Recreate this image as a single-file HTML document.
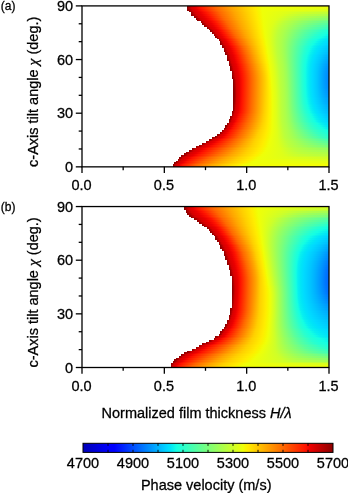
<!DOCTYPE html>
<html><head><meta charset="utf-8"><title>Phase velocity maps</title>
<style>
html,body{margin:0;padding:0;background:#fff;}
body{width:348px;height:493px;overflow:hidden;}
svg{display:block;font-family:"Liberation Sans",sans-serif;font-size:14.5px;fill:#000;}
text{stroke:#000;stroke-width:0.28px;}
</style></head><body>
<svg width="348" height="493" viewBox="0 0 348 493">
<defs>
<linearGradient id="a0" gradientUnits="userSpaceOnUse" x1="172.57" x2="329.00" y1="0" y2="0"><stop offset="0.0000" stop-color="#8c0000"/><stop offset="0.0158" stop-color="#d50000"/><stop offset="0.0356" stop-color="#ea0000"/><stop offset="0.0553" stop-color="#ff1300"/><stop offset="0.1387" stop-color="#ff6800"/><stop offset="0.2294" stop-color="#ffa500"/><stop offset="0.3212" stop-color="#ffd000"/><stop offset="0.4052" stop-color="#ffec00"/><stop offset="0.4331" stop-color="#f7f600"/><stop offset="0.4475" stop-color="#f3fa04"/><stop offset="1.0000" stop-color="#f3fa04"/></linearGradient>
<linearGradient id="a1" gradientUnits="userSpaceOnUse" x1="172.57" x2="329.00" y1="0" y2="0"><stop offset="0.0044" stop-color="#8c0000"/><stop offset="0.0228" stop-color="#d50000"/><stop offset="0.0443" stop-color="#ea0000"/><stop offset="0.0657" stop-color="#ff1300"/><stop offset="0.1549" stop-color="#ff6800"/><stop offset="0.2496" stop-color="#ffa500"/><stop offset="0.3419" stop-color="#ffd000"/><stop offset="0.4199" stop-color="#ffec00"/><stop offset="0.4459" stop-color="#f7f600"/><stop offset="0.4650" stop-color="#f1fd06"/><stop offset="1.0000" stop-color="#f1fd06"/></linearGradient>
<linearGradient id="a2" gradientUnits="userSpaceOnUse" x1="174.21" x2="329.00" y1="0" y2="0"><stop offset="0.0018" stop-color="#8c0000"/><stop offset="0.0222" stop-color="#d50000"/><stop offset="0.0460" stop-color="#ea0000"/><stop offset="0.0697" stop-color="#ff1300"/><stop offset="0.1663" stop-color="#ff6800"/><stop offset="0.2660" stop-color="#ffa500"/><stop offset="0.3597" stop-color="#ffd000"/><stop offset="0.4338" stop-color="#ffec00"/><stop offset="0.4585" stop-color="#f7f600"/><stop offset="0.4831" stop-color="#efff08"/><stop offset="1.0000" stop-color="#ecff0a"/></linearGradient>
<linearGradient id="a3" gradientUnits="userSpaceOnUse" x1="175.86" x2="329.00" y1="0" y2="0"><stop offset="0.0002" stop-color="#8c0000"/><stop offset="0.0226" stop-color="#d50000"/><stop offset="0.0487" stop-color="#ea0000"/><stop offset="0.0748" stop-color="#ff1300"/><stop offset="0.1778" stop-color="#ff6800"/><stop offset="0.2812" stop-color="#ffa500"/><stop offset="0.3755" stop-color="#ffd000"/><stop offset="0.4538" stop-color="#ffec00"/><stop offset="0.4799" stop-color="#f7f600"/><stop offset="0.5060" stop-color="#efff08"/><stop offset="1.0000" stop-color="#e4ff13"/></linearGradient>
<linearGradient id="a4" gradientUnits="userSpaceOnUse" x1="177.51" x2="329.00" y1="0" y2="0"><stop offset="0.0000" stop-color="#8c0000"/><stop offset="0.0240" stop-color="#d50000"/><stop offset="0.0526" stop-color="#ea0000"/><stop offset="0.0812" stop-color="#ff1300"/><stop offset="0.1897" stop-color="#ff6800"/><stop offset="0.2945" stop-color="#ffa500"/><stop offset="0.3881" stop-color="#ffd000"/><stop offset="0.4681" stop-color="#ffec00"/><stop offset="0.4948" stop-color="#f7f600"/><stop offset="0.5215" stop-color="#efff08"/><stop offset="0.8841" stop-color="#deff19"/><stop offset="1.0000" stop-color="#daff1d"/></linearGradient>
<linearGradient id="a5" gradientUnits="userSpaceOnUse" x1="179.15" x2="329.00" y1="0" y2="0"><stop offset="0.0000" stop-color="#8c0000"/><stop offset="0.0268" stop-color="#d50000"/><stop offset="0.0581" stop-color="#ea0000"/><stop offset="0.0893" stop-color="#ff1300"/><stop offset="0.2028" stop-color="#ff6800"/><stop offset="0.3071" stop-color="#ffa500"/><stop offset="0.3993" stop-color="#ffd000"/><stop offset="0.4778" stop-color="#ffec00"/><stop offset="0.5039" stop-color="#f7f600"/><stop offset="0.5301" stop-color="#efff08"/><stop offset="0.7334" stop-color="#deff19"/><stop offset="1.0000" stop-color="#ceff28"/></linearGradient>
<linearGradient id="a6" gradientUnits="userSpaceOnUse" x1="180.80" x2="329.00" y1="0" y2="0"><stop offset="0.0021" stop-color="#8c0000"/><stop offset="0.0311" stop-color="#d50000"/><stop offset="0.0650" stop-color="#ea0000"/><stop offset="0.0989" stop-color="#ff1300"/><stop offset="0.2166" stop-color="#ff6800"/><stop offset="0.3191" stop-color="#ffa500"/><stop offset="0.4096" stop-color="#ffd000"/><stop offset="0.4860" stop-color="#ffec00"/><stop offset="0.5115" stop-color="#f7f600"/><stop offset="0.5370" stop-color="#efff08"/><stop offset="0.7019" stop-color="#deff19"/><stop offset="0.7972" stop-color="#ceff29"/><stop offset="1.0000" stop-color="#c3ff34"/></linearGradient>
<linearGradient id="a7" gradientUnits="userSpaceOnUse" x1="184.09" x2="329.00" y1="0" y2="0"><stop offset="0.0000" stop-color="#8c0000"/><stop offset="0.0264" stop-color="#d50000"/><stop offset="0.0628" stop-color="#ea0000"/><stop offset="0.0992" stop-color="#ff1300"/><stop offset="0.2216" stop-color="#ff6800"/><stop offset="0.3227" stop-color="#ffa500"/><stop offset="0.4121" stop-color="#ffd000"/><stop offset="0.4886" stop-color="#ffec00"/><stop offset="0.5141" stop-color="#f7f600"/><stop offset="0.5396" stop-color="#efff08"/><stop offset="0.6804" stop-color="#deff19"/><stop offset="0.7499" stop-color="#ceff29"/><stop offset="0.8958" stop-color="#bdff3a"/><stop offset="1.0000" stop-color="#b9ff3e"/></linearGradient>
<linearGradient id="a8" gradientUnits="userSpaceOnUse" x1="185.74" x2="329.00" y1="0" y2="0"><stop offset="0.0014" stop-color="#8c0000"/><stop offset="0.0340" stop-color="#d50000"/><stop offset="0.0720" stop-color="#ea0000"/><stop offset="0.1101" stop-color="#ff1300"/><stop offset="0.2347" stop-color="#ff6800"/><stop offset="0.3328" stop-color="#ffa500"/><stop offset="0.4198" stop-color="#ffd000"/><stop offset="0.4964" stop-color="#ffec00"/><stop offset="0.5219" stop-color="#f7f600"/><stop offset="0.5475" stop-color="#efff08"/><stop offset="0.6690" stop-color="#deff19"/><stop offset="0.7258" stop-color="#ceff29"/><stop offset="0.8071" stop-color="#bdff3a"/><stop offset="1.0000" stop-color="#aeff48"/></linearGradient>
<linearGradient id="a9" gradientUnits="userSpaceOnUse" x1="189.03" x2="329.00" y1="0" y2="0"><stop offset="0.0000" stop-color="#8c0000"/><stop offset="0.0313" stop-color="#d50000"/><stop offset="0.0708" stop-color="#ea0000"/><stop offset="0.1103" stop-color="#ff1300"/><stop offset="0.2372" stop-color="#ff6800"/><stop offset="0.3337" stop-color="#ffa500"/><stop offset="0.4191" stop-color="#ffd000"/><stop offset="0.4965" stop-color="#ffec00"/><stop offset="0.5223" stop-color="#f7f600"/><stop offset="0.5482" stop-color="#efff08"/><stop offset="0.6556" stop-color="#deff19"/><stop offset="0.7049" stop-color="#ceff29"/><stop offset="0.7679" stop-color="#bdff3a"/><stop offset="0.8830" stop-color="#adff4a"/><stop offset="1.0000" stop-color="#a3ff54"/></linearGradient>
<linearGradient id="a10" gradientUnits="userSpaceOnUse" x1="192.33" x2="329.00" y1="0" y2="0"><stop offset="0.0000" stop-color="#8c0000"/><stop offset="0.0295" stop-color="#d50000"/><stop offset="0.0695" stop-color="#ea0000"/><stop offset="0.1095" stop-color="#ff1300"/><stop offset="0.2373" stop-color="#ff6800"/><stop offset="0.3328" stop-color="#ffa500"/><stop offset="0.4162" stop-color="#ffd000"/><stop offset="0.4935" stop-color="#ffec00"/><stop offset="0.5193" stop-color="#f7f600"/><stop offset="0.5451" stop-color="#efff08"/><stop offset="0.6417" stop-color="#deff19"/><stop offset="0.6858" stop-color="#ceff29"/><stop offset="0.7399" stop-color="#bdff3a"/><stop offset="0.8195" stop-color="#adff4a"/><stop offset="0.9275" stop-color="#9cff5a"/><stop offset="1.0000" stop-color="#95ff62"/></linearGradient>
<linearGradient id="a11" gradientUnits="userSpaceOnUse" x1="195.62" x2="329.00" y1="0" y2="0"><stop offset="0.0000" stop-color="#8c0000"/><stop offset="0.0287" stop-color="#d50000"/><stop offset="0.0690" stop-color="#ea0000"/><stop offset="0.1093" stop-color="#ff1300"/><stop offset="0.2360" stop-color="#ff6800"/><stop offset="0.3307" stop-color="#ffa500"/><stop offset="0.4118" stop-color="#ffd000"/><stop offset="0.4887" stop-color="#ffec00"/><stop offset="0.5144" stop-color="#f7f600"/><stop offset="0.5400" stop-color="#efff08"/><stop offset="0.6274" stop-color="#deff19"/><stop offset="0.6680" stop-color="#ceff29"/><stop offset="0.7160" stop-color="#bdff3a"/><stop offset="0.7844" stop-color="#adff4a"/><stop offset="0.8600" stop-color="#9cff5a"/><stop offset="0.9501" stop-color="#8cff6b"/><stop offset="1.0000" stop-color="#86ff71"/></linearGradient>
<linearGradient id="a12" gradientUnits="userSpaceOnUse" x1="198.91" x2="329.00" y1="0" y2="0"><stop offset="0.0000" stop-color="#8c0000"/><stop offset="0.0294" stop-color="#d50000"/><stop offset="0.0694" stop-color="#ea0000"/><stop offset="0.1095" stop-color="#ff1300"/><stop offset="0.2338" stop-color="#ff6800"/><stop offset="0.3277" stop-color="#ffa500"/><stop offset="0.4061" stop-color="#ffd000"/><stop offset="0.4828" stop-color="#ffec00"/><stop offset="0.5084" stop-color="#f7f600"/><stop offset="0.5340" stop-color="#efff08"/><stop offset="0.6138" stop-color="#deff19"/><stop offset="0.6516" stop-color="#ceff29"/><stop offset="0.6953" stop-color="#bdff3a"/><stop offset="0.7573" stop-color="#adff4a"/><stop offset="0.8188" stop-color="#9cff5a"/><stop offset="0.8843" stop-color="#8cff6b"/><stop offset="0.9712" stop-color="#7bff7b"/><stop offset="1.0000" stop-color="#76ff81"/></linearGradient>
<linearGradient id="a13" gradientUnits="userSpaceOnUse" x1="202.21" x2="329.00" y1="0" y2="0"><stop offset="0.0000" stop-color="#8c0000"/><stop offset="0.0307" stop-color="#d50000"/><stop offset="0.0702" stop-color="#ea0000"/><stop offset="0.1097" stop-color="#ff1300"/><stop offset="0.2306" stop-color="#ff6800"/><stop offset="0.3237" stop-color="#ffa500"/><stop offset="0.3993" stop-color="#ffd000"/><stop offset="0.4759" stop-color="#ffec00"/><stop offset="0.5014" stop-color="#f7f600"/><stop offset="0.5269" stop-color="#efff08"/><stop offset="0.6004" stop-color="#deff19"/><stop offset="0.6360" stop-color="#ceff29"/><stop offset="0.6765" stop-color="#bdff3a"/><stop offset="0.7340" stop-color="#adff4a"/><stop offset="0.7886" stop-color="#9cff5a"/><stop offset="0.8410" stop-color="#8cff6b"/><stop offset="0.9055" stop-color="#7bff7b"/><stop offset="0.9743" stop-color="#6bff8c"/><stop offset="1.0000" stop-color="#64ff93"/></linearGradient>
<linearGradient id="a14" gradientUnits="userSpaceOnUse" x1="205.50" x2="329.00" y1="0" y2="0"><stop offset="0.0008" stop-color="#8c0000"/><stop offset="0.0332" stop-color="#d50000"/><stop offset="0.0711" stop-color="#ea0000"/><stop offset="0.1090" stop-color="#ff1300"/><stop offset="0.2261" stop-color="#ff6800"/><stop offset="0.3185" stop-color="#ffa500"/><stop offset="0.3915" stop-color="#ffd000"/><stop offset="0.4679" stop-color="#ffec00"/><stop offset="0.4933" stop-color="#f7f600"/><stop offset="0.5188" stop-color="#efff08"/><stop offset="0.5871" stop-color="#deff19"/><stop offset="0.6209" stop-color="#ceff29"/><stop offset="0.6589" stop-color="#bdff3a"/><stop offset="0.7132" stop-color="#adff4a"/><stop offset="0.7634" stop-color="#9cff5a"/><stop offset="0.8092" stop-color="#8cff6b"/><stop offset="0.8629" stop-color="#7bff7b"/><stop offset="0.9163" stop-color="#6bff8c"/><stop offset="0.9770" stop-color="#5aff9c"/><stop offset="1.0000" stop-color="#52ffa5"/></linearGradient>
<linearGradient id="a15" gradientUnits="userSpaceOnUse" x1="208.79" x2="329.00" y1="0" y2="0"><stop offset="0.0030" stop-color="#8c0000"/><stop offset="0.0341" stop-color="#d50000"/><stop offset="0.0704" stop-color="#ea0000"/><stop offset="0.1067" stop-color="#ff1300"/><stop offset="0.2201" stop-color="#ff6800"/><stop offset="0.3121" stop-color="#ffa500"/><stop offset="0.3827" stop-color="#ffd000"/><stop offset="0.4589" stop-color="#ffec00"/><stop offset="0.4843" stop-color="#f7f600"/><stop offset="0.5097" stop-color="#efff08"/><stop offset="0.5736" stop-color="#deff19"/><stop offset="0.6060" stop-color="#ceff29"/><stop offset="0.6421" stop-color="#bdff3a"/><stop offset="0.6941" stop-color="#adff4a"/><stop offset="0.7410" stop-color="#9cff5a"/><stop offset="0.7828" stop-color="#8cff6b"/><stop offset="0.8295" stop-color="#7bff7b"/><stop offset="0.8763" stop-color="#6bff8c"/><stop offset="0.9261" stop-color="#5aff9c"/><stop offset="0.9781" stop-color="#4affad"/><stop offset="1.0000" stop-color="#41ffb6"/></linearGradient>
<linearGradient id="a16" gradientUnits="userSpaceOnUse" x1="212.09" x2="329.00" y1="0" y2="0"><stop offset="0.0000" stop-color="#8c0000"/><stop offset="0.0306" stop-color="#d50000"/><stop offset="0.0663" stop-color="#ea0000"/><stop offset="0.1020" stop-color="#ff1300"/><stop offset="0.2125" stop-color="#ff6800"/><stop offset="0.3043" stop-color="#ffa500"/><stop offset="0.3730" stop-color="#ffd000"/><stop offset="0.4490" stop-color="#ffec00"/><stop offset="0.4743" stop-color="#f7f600"/><stop offset="0.4996" stop-color="#efff08"/><stop offset="0.5598" stop-color="#deff19"/><stop offset="0.5912" stop-color="#ceff29"/><stop offset="0.6258" stop-color="#bdff3a"/><stop offset="0.6760" stop-color="#adff4a"/><stop offset="0.7206" stop-color="#9cff5a"/><stop offset="0.7592" stop-color="#8cff6b"/><stop offset="0.8021" stop-color="#7bff7b"/><stop offset="0.8441" stop-color="#6bff8c"/><stop offset="0.8887" stop-color="#5aff9c"/><stop offset="0.9347" stop-color="#4affad"/><stop offset="0.9806" stop-color="#3affbd"/><stop offset="1.0000" stop-color="#35ffc2"/></linearGradient>
<linearGradient id="a17" gradientUnits="userSpaceOnUse" x1="215.38" x2="329.00" y1="0" y2="0"><stop offset="0.0000" stop-color="#8c0000"/><stop offset="0.0246" stop-color="#d50000"/><stop offset="0.0593" stop-color="#ea0000"/><stop offset="0.0940" stop-color="#ff1300"/><stop offset="0.2030" stop-color="#ff6800"/><stop offset="0.2951" stop-color="#ffa500"/><stop offset="0.3626" stop-color="#ffd000"/><stop offset="0.4382" stop-color="#ffec00"/><stop offset="0.4635" stop-color="#f7f600"/><stop offset="0.4887" stop-color="#efff08"/><stop offset="0.5458" stop-color="#deff19"/><stop offset="0.5764" stop-color="#ceff29"/><stop offset="0.6097" stop-color="#bdff3a"/><stop offset="0.6587" stop-color="#adff4a"/><stop offset="0.7014" stop-color="#9cff5a"/><stop offset="0.7377" stop-color="#8cff6b"/><stop offset="0.7776" stop-color="#7bff7b"/><stop offset="0.8167" stop-color="#6bff8c"/><stop offset="0.8578" stop-color="#5aff9c"/><stop offset="0.9002" stop-color="#4affad"/><stop offset="0.9425" stop-color="#3affbd"/><stop offset="1.0000" stop-color="#2affcd"/></linearGradient>
<linearGradient id="a18" gradientUnits="userSpaceOnUse" x1="217.03" x2="329.00" y1="0" y2="0"><stop offset="0.0064" stop-color="#8c0000"/><stop offset="0.0332" stop-color="#d50000"/><stop offset="0.0645" stop-color="#ea0000"/><stop offset="0.0958" stop-color="#ff1300"/><stop offset="0.2035" stop-color="#ff6800"/><stop offset="0.2949" stop-color="#ffa500"/><stop offset="0.3612" stop-color="#ffd000"/><stop offset="0.4352" stop-color="#ffec00"/><stop offset="0.4599" stop-color="#f7f600"/><stop offset="0.4846" stop-color="#efff08"/><stop offset="0.5385" stop-color="#deff19"/><stop offset="0.5680" stop-color="#ceff29"/><stop offset="0.5998" stop-color="#bdff3a"/><stop offset="0.6472" stop-color="#adff4a"/><stop offset="0.6878" stop-color="#9cff5a"/><stop offset="0.7217" stop-color="#8cff6b"/><stop offset="0.7588" stop-color="#7bff7b"/><stop offset="0.7954" stop-color="#6bff8c"/><stop offset="0.8336" stop-color="#5aff9c"/><stop offset="0.8728" stop-color="#4affad"/><stop offset="0.9121" stop-color="#3affbd"/><stop offset="0.9773" stop-color="#29ffce"/><stop offset="1.0000" stop-color="#20ffd6"/></linearGradient>
<linearGradient id="a19" gradientUnits="userSpaceOnUse" x1="220.32" x2="329.00" y1="0" y2="0"><stop offset="0.0000" stop-color="#8c0000"/><stop offset="0.0229" stop-color="#d50000"/><stop offset="0.0528" stop-color="#ea0000"/><stop offset="0.0826" stop-color="#ff1300"/><stop offset="0.1913" stop-color="#ff6800"/><stop offset="0.2837" stop-color="#ffa500"/><stop offset="0.3501" stop-color="#ffd000"/><stop offset="0.4234" stop-color="#ffec00"/><stop offset="0.4478" stop-color="#f7f600"/><stop offset="0.4723" stop-color="#efff08"/><stop offset="0.5242" stop-color="#deff19"/><stop offset="0.5532" stop-color="#ceff29"/><stop offset="0.5843" stop-color="#bdff3a"/><stop offset="0.6310" stop-color="#adff4a"/><stop offset="0.6705" stop-color="#9cff5a"/><stop offset="0.7029" stop-color="#8cff6b"/><stop offset="0.7381" stop-color="#7bff7b"/><stop offset="0.7733" stop-color="#6bff8c"/><stop offset="0.8099" stop-color="#5aff9c"/><stop offset="0.8473" stop-color="#4affad"/><stop offset="0.8849" stop-color="#3affbd"/><stop offset="0.9425" stop-color="#29ffce"/><stop offset="1.0000" stop-color="#18ffdf"/></linearGradient>
<linearGradient id="a20" gradientUnits="userSpaceOnUse" x1="221.97" x2="329.00" y1="0" y2="0"><stop offset="0.0000" stop-color="#8c0000"/><stop offset="0.0227" stop-color="#d50000"/><stop offset="0.0522" stop-color="#ea0000"/><stop offset="0.0818" stop-color="#ff1300"/><stop offset="0.1902" stop-color="#ff6800"/><stop offset="0.2825" stop-color="#ffa500"/><stop offset="0.3483" stop-color="#ffd000"/><stop offset="0.4193" stop-color="#ffec00"/><stop offset="0.4430" stop-color="#f7f600"/><stop offset="0.4666" stop-color="#efff08"/><stop offset="0.5162" stop-color="#deff19"/><stop offset="0.5444" stop-color="#ceff29"/><stop offset="0.5745" stop-color="#bdff3a"/><stop offset="0.6202" stop-color="#adff4a"/><stop offset="0.6585" stop-color="#9cff5a"/><stop offset="0.6891" stop-color="#8cff6b"/><stop offset="0.7223" stop-color="#7bff7b"/><stop offset="0.7559" stop-color="#6bff8c"/><stop offset="0.7908" stop-color="#5aff9c"/><stop offset="0.8265" stop-color="#4affad"/><stop offset="0.8624" stop-color="#3affbd"/><stop offset="0.9140" stop-color="#29ffce"/><stop offset="0.9751" stop-color="#19ffde"/><stop offset="0.9871" stop-color="#15ffe2"/><stop offset="1.0000" stop-color="#10fae7"/></linearGradient>
<linearGradient id="a21" gradientUnits="userSpaceOnUse" x1="223.61" x2="329.00" y1="0" y2="0"><stop offset="0.0000" stop-color="#8c0000"/><stop offset="0.0216" stop-color="#d50000"/><stop offset="0.0507" stop-color="#ea0000"/><stop offset="0.0798" stop-color="#ff1300"/><stop offset="0.1883" stop-color="#ff6800"/><stop offset="0.2805" stop-color="#ffa500"/><stop offset="0.3462" stop-color="#ffd000"/><stop offset="0.4141" stop-color="#ffec00"/><stop offset="0.4368" stop-color="#f7f600"/><stop offset="0.4594" stop-color="#efff08"/><stop offset="0.5072" stop-color="#deff19"/><stop offset="0.5350" stop-color="#ceff29"/><stop offset="0.5643" stop-color="#bdff3a"/><stop offset="0.6093" stop-color="#adff4a"/><stop offset="0.6463" stop-color="#9cff5a"/><stop offset="0.6756" stop-color="#8cff6b"/><stop offset="0.7073" stop-color="#7bff7b"/><stop offset="0.7397" stop-color="#6bff8c"/><stop offset="0.7732" stop-color="#5aff9c"/><stop offset="0.8077" stop-color="#4affad"/><stop offset="0.8423" stop-color="#3affbd"/><stop offset="0.8893" stop-color="#29ffce"/><stop offset="0.9447" stop-color="#19ffde"/><stop offset="0.9595" stop-color="#15ffe2"/><stop offset="1.0000" stop-color="#09f1ed"/></linearGradient>
<linearGradient id="a22" gradientUnits="userSpaceOnUse" x1="225.26" x2="329.00" y1="0" y2="0"><stop offset="0.0000" stop-color="#8c0000"/><stop offset="0.0195" stop-color="#d50000"/><stop offset="0.0482" stop-color="#ea0000"/><stop offset="0.0768" stop-color="#ff1300"/><stop offset="0.1855" stop-color="#ff6800"/><stop offset="0.2777" stop-color="#ffa500"/><stop offset="0.3433" stop-color="#ffd000"/><stop offset="0.4082" stop-color="#ffec00"/><stop offset="0.4298" stop-color="#f7f600"/><stop offset="0.4514" stop-color="#efff08"/><stop offset="0.4977" stop-color="#deff19"/><stop offset="0.5250" stop-color="#ceff29"/><stop offset="0.5538" stop-color="#bdff3a"/><stop offset="0.5983" stop-color="#adff4a"/><stop offset="0.6346" stop-color="#9cff5a"/><stop offset="0.6628" stop-color="#8cff6b"/><stop offset="0.6931" stop-color="#7bff7b"/><stop offset="0.7245" stop-color="#6bff8c"/><stop offset="0.7569" stop-color="#5aff9c"/><stop offset="0.7903" stop-color="#4affad"/><stop offset="0.8240" stop-color="#3affbd"/><stop offset="0.8675" stop-color="#29ffce"/><stop offset="0.9187" stop-color="#19ffde"/><stop offset="0.9328" stop-color="#15ffe2"/><stop offset="0.9749" stop-color="#08f0ef"/><stop offset="1.0000" stop-color="#03e9f4"/></linearGradient>
<linearGradient id="a23" gradientUnits="userSpaceOnUse" x1="225.26" x2="329.00" y1="0" y2="0"><stop offset="0.0077" stop-color="#8c0000"/><stop offset="0.0316" stop-color="#d50000"/><stop offset="0.0595" stop-color="#ea0000"/><stop offset="0.0874" stop-color="#ff1300"/><stop offset="0.1946" stop-color="#ff6800"/><stop offset="0.2854" stop-color="#ffa500"/><stop offset="0.3499" stop-color="#ffd000"/><stop offset="0.4111" stop-color="#ffec00"/><stop offset="0.4315" stop-color="#f7f600"/><stop offset="0.4519" stop-color="#efff08"/><stop offset="0.4962" stop-color="#deff19"/><stop offset="0.5229" stop-color="#ceff29"/><stop offset="0.5508" stop-color="#bdff3a"/><stop offset="0.5942" stop-color="#adff4a"/><stop offset="0.6292" stop-color="#9cff5a"/><stop offset="0.6561" stop-color="#8cff6b"/><stop offset="0.6849" stop-color="#7bff7b"/><stop offset="0.7149" stop-color="#6bff8c"/><stop offset="0.7459" stop-color="#5aff9c"/><stop offset="0.7778" stop-color="#4affad"/><stop offset="0.8103" stop-color="#3affbd"/><stop offset="0.8503" stop-color="#29ffce"/><stop offset="0.8975" stop-color="#19ffde"/><stop offset="0.9105" stop-color="#15ffe2"/><stop offset="0.9495" stop-color="#08f0ef"/><stop offset="0.9881" stop-color="#00e5f7"/><stop offset="1.0000" stop-color="#00e2f9"/></linearGradient>
<linearGradient id="a24" gradientUnits="userSpaceOnUse" x1="226.91" x2="329.00" y1="0" y2="0"><stop offset="0.0033" stop-color="#8c0000"/><stop offset="0.0271" stop-color="#d50000"/><stop offset="0.0549" stop-color="#ea0000"/><stop offset="0.0826" stop-color="#ff1300"/><stop offset="0.1899" stop-color="#ff6800"/><stop offset="0.2805" stop-color="#ffa500"/><stop offset="0.3451" stop-color="#ffd000"/><stop offset="0.4041" stop-color="#ffec00"/><stop offset="0.4237" stop-color="#f7f600"/><stop offset="0.4434" stop-color="#efff08"/><stop offset="0.4868" stop-color="#deff19"/><stop offset="0.5133" stop-color="#ceff29"/><stop offset="0.5409" stop-color="#bdff3a"/><stop offset="0.5841" stop-color="#adff4a"/><stop offset="0.6186" stop-color="#9cff5a"/><stop offset="0.6447" stop-color="#8cff6b"/><stop offset="0.6725" stop-color="#7bff7b"/><stop offset="0.7018" stop-color="#6bff8c"/><stop offset="0.7321" stop-color="#5aff9c"/><stop offset="0.7632" stop-color="#4affad"/><stop offset="0.7950" stop-color="#3affbd"/><stop offset="0.8328" stop-color="#29ffce"/><stop offset="0.8774" stop-color="#19ffde"/><stop offset="0.8897" stop-color="#15ffe2"/><stop offset="0.9269" stop-color="#08f0ef"/><stop offset="0.9646" stop-color="#00e5f7"/><stop offset="1.0000" stop-color="#00dcfe"/></linearGradient>
<linearGradient id="a25" gradientUnits="userSpaceOnUse" x1="228.55" x2="329.00" y1="0" y2="0"><stop offset="0.0000" stop-color="#8c0000"/><stop offset="0.0214" stop-color="#d50000"/><stop offset="0.0492" stop-color="#ea0000"/><stop offset="0.0770" stop-color="#ff1300"/><stop offset="0.1841" stop-color="#ff6800"/><stop offset="0.2743" stop-color="#ffa500"/><stop offset="0.3387" stop-color="#ffd000"/><stop offset="0.3963" stop-color="#ffec00"/><stop offset="0.4154" stop-color="#f7f600"/><stop offset="0.4346" stop-color="#efff08"/><stop offset="0.4774" stop-color="#deff19"/><stop offset="0.5038" stop-color="#ceff29"/><stop offset="0.5312" stop-color="#bdff3a"/><stop offset="0.5742" stop-color="#adff4a"/><stop offset="0.6084" stop-color="#9cff5a"/><stop offset="0.6338" stop-color="#8cff6b"/><stop offset="0.6608" stop-color="#7bff7b"/><stop offset="0.6895" stop-color="#6bff8c"/><stop offset="0.7191" stop-color="#5aff9c"/><stop offset="0.7496" stop-color="#4affad"/><stop offset="0.7807" stop-color="#3affbd"/><stop offset="0.8167" stop-color="#29ffce"/><stop offset="0.8591" stop-color="#19ffde"/><stop offset="0.8710" stop-color="#15ffe2"/><stop offset="0.9066" stop-color="#08f0ef"/><stop offset="0.9474" stop-color="#00e5f7"/><stop offset="0.9882" stop-color="#00dbff"/><stop offset="1.0000" stop-color="#00d6ff"/></linearGradient>
<linearGradient id="a26" gradientUnits="userSpaceOnUse" x1="228.55" x2="329.00" y1="0" y2="0"><stop offset="0.0065" stop-color="#8c0000"/><stop offset="0.0304" stop-color="#d50000"/><stop offset="0.0584" stop-color="#ea0000"/><stop offset="0.0863" stop-color="#ff1300"/><stop offset="0.1911" stop-color="#ff6800"/><stop offset="0.2792" stop-color="#ffa500"/><stop offset="0.3425" stop-color="#ffd000"/><stop offset="0.3980" stop-color="#ffec00"/><stop offset="0.4165" stop-color="#f7f600"/><stop offset="0.4350" stop-color="#efff08"/><stop offset="0.4766" stop-color="#deff19"/><stop offset="0.5026" stop-color="#ceff29"/><stop offset="0.5294" stop-color="#bdff3a"/><stop offset="0.5717" stop-color="#adff4a"/><stop offset="0.6050" stop-color="#9cff5a"/><stop offset="0.6295" stop-color="#8cff6b"/><stop offset="0.6553" stop-color="#7bff7b"/><stop offset="0.6831" stop-color="#6bff8c"/><stop offset="0.7117" stop-color="#5aff9c"/><stop offset="0.7411" stop-color="#4affad"/><stop offset="0.7712" stop-color="#3affbd"/><stop offset="0.8050" stop-color="#29ffce"/><stop offset="0.8450" stop-color="#19ffde"/><stop offset="0.8563" stop-color="#15ffe2"/><stop offset="0.8902" stop-color="#08f0ef"/><stop offset="0.9283" stop-color="#00e5f7"/><stop offset="0.9665" stop-color="#00dbff"/><stop offset="1.0000" stop-color="#00d0ff"/></linearGradient>
<linearGradient id="a27" gradientUnits="userSpaceOnUse" x1="230.20" x2="329.00" y1="0" y2="0"><stop offset="0.0000" stop-color="#8c0000"/><stop offset="0.0223" stop-color="#d50000"/><stop offset="0.0514" stop-color="#ea0000"/><stop offset="0.0806" stop-color="#ff1300"/><stop offset="0.1847" stop-color="#ff6800"/><stop offset="0.2720" stop-color="#ffa500"/><stop offset="0.3350" stop-color="#ffd000"/><stop offset="0.3896" stop-color="#ffec00"/><stop offset="0.4078" stop-color="#f7f600"/><stop offset="0.4260" stop-color="#efff08"/><stop offset="0.4674" stop-color="#deff19"/><stop offset="0.4934" stop-color="#ceff29"/><stop offset="0.5201" stop-color="#bdff3a"/><stop offset="0.5625" stop-color="#adff4a"/><stop offset="0.5956" stop-color="#9cff5a"/><stop offset="0.6196" stop-color="#8cff6b"/><stop offset="0.6448" stop-color="#7bff7b"/><stop offset="0.6722" stop-color="#6bff8c"/><stop offset="0.7003" stop-color="#5aff9c"/><stop offset="0.7293" stop-color="#4affad"/><stop offset="0.7589" stop-color="#3affbd"/><stop offset="0.7913" stop-color="#29ffce"/><stop offset="0.8299" stop-color="#19ffde"/><stop offset="0.8408" stop-color="#15ffe2"/><stop offset="0.8737" stop-color="#08f0ef"/><stop offset="0.9103" stop-color="#00e5f7"/><stop offset="0.9469" stop-color="#00dbff"/><stop offset="1.0000" stop-color="#00cbff"/></linearGradient>
<linearGradient id="a28" gradientUnits="userSpaceOnUse" x1="230.20" x2="329.00" y1="0" y2="0"><stop offset="0.0038" stop-color="#8c0000"/><stop offset="0.0296" stop-color="#d50000"/><stop offset="0.0596" stop-color="#ea0000"/><stop offset="0.0897" stop-color="#ff1300"/><stop offset="0.1913" stop-color="#ff6800"/><stop offset="0.2764" stop-color="#ffa500"/><stop offset="0.3382" stop-color="#ffd000"/><stop offset="0.3911" stop-color="#ffec00"/><stop offset="0.4087" stop-color="#f7f600"/><stop offset="0.4263" stop-color="#efff08"/><stop offset="0.4670" stop-color="#deff19"/><stop offset="0.4927" stop-color="#ceff29"/><stop offset="0.5189" stop-color="#bdff3a"/><stop offset="0.5608" stop-color="#adff4a"/><stop offset="0.5933" stop-color="#9cff5a"/><stop offset="0.6164" stop-color="#8cff6b"/><stop offset="0.6408" stop-color="#7bff7b"/><stop offset="0.6674" stop-color="#6bff8c"/><stop offset="0.6947" stop-color="#5aff9c"/><stop offset="0.7227" stop-color="#4affad"/><stop offset="0.7514" stop-color="#3affbd"/><stop offset="0.7821" stop-color="#29ffce"/><stop offset="0.8189" stop-color="#19ffde"/><stop offset="0.8294" stop-color="#15ffe2"/><stop offset="0.8609" stop-color="#08f0ef"/><stop offset="0.8957" stop-color="#00e5f7"/><stop offset="0.9304" stop-color="#00dbff"/><stop offset="1.0000" stop-color="#00c6ff"/></linearGradient>
<linearGradient id="a29" gradientUnits="userSpaceOnUse" x1="231.85" x2="329.00" y1="0" y2="0"><stop offset="0.0000" stop-color="#8c0000"/><stop offset="0.0201" stop-color="#d50000"/><stop offset="0.0514" stop-color="#ea0000"/><stop offset="0.0827" stop-color="#ff1300"/><stop offset="0.1837" stop-color="#ff6800"/><stop offset="0.2682" stop-color="#ffa500"/><stop offset="0.3298" stop-color="#ffd000"/><stop offset="0.3821" stop-color="#ffec00"/><stop offset="0.3995" stop-color="#f7f600"/><stop offset="0.4169" stop-color="#efff08"/><stop offset="0.4576" stop-color="#deff19"/><stop offset="0.4835" stop-color="#ceff29"/><stop offset="0.5098" stop-color="#bdff3a"/><stop offset="0.5519" stop-color="#adff4a"/><stop offset="0.5844" stop-color="#9cff5a"/><stop offset="0.6073" stop-color="#8cff6b"/><stop offset="0.6312" stop-color="#7bff7b"/><stop offset="0.6575" stop-color="#6bff8c"/><stop offset="0.6845" stop-color="#5aff9c"/><stop offset="0.7122" stop-color="#4affad"/><stop offset="0.7405" stop-color="#3affbd"/><stop offset="0.7702" stop-color="#29ffce"/><stop offset="0.8060" stop-color="#19ffde"/><stop offset="0.8163" stop-color="#15ffe2"/><stop offset="0.8471" stop-color="#08f0ef"/><stop offset="0.8809" stop-color="#00e5f7"/><stop offset="0.9147" stop-color="#00dbff"/><stop offset="0.9804" stop-color="#00c7ff"/><stop offset="1.0000" stop-color="#00c2ff"/></linearGradient>
<linearGradient id="a30" gradientUnits="userSpaceOnUse" x1="231.85" x2="329.00" y1="0" y2="0"><stop offset="0.0000" stop-color="#8c0000"/><stop offset="0.0263" stop-color="#d50000"/><stop offset="0.0581" stop-color="#ea0000"/><stop offset="0.0898" stop-color="#ff1300"/><stop offset="0.1889" stop-color="#ff6800"/><stop offset="0.2715" stop-color="#ffa500"/><stop offset="0.3322" stop-color="#ffd000"/><stop offset="0.3832" stop-color="#ffec00"/><stop offset="0.4002" stop-color="#f7f600"/><stop offset="0.4172" stop-color="#efff08"/><stop offset="0.4574" stop-color="#deff19"/><stop offset="0.4830" stop-color="#ceff29"/><stop offset="0.5090" stop-color="#bdff3a"/><stop offset="0.5507" stop-color="#adff4a"/><stop offset="0.5827" stop-color="#9cff5a"/><stop offset="0.6050" stop-color="#8cff6b"/><stop offset="0.6282" stop-color="#7bff7b"/><stop offset="0.6539" stop-color="#6bff8c"/><stop offset="0.6802" stop-color="#5aff9c"/><stop offset="0.7072" stop-color="#4affad"/><stop offset="0.7347" stop-color="#3affbd"/><stop offset="0.7630" stop-color="#29ffce"/><stop offset="0.7974" stop-color="#19ffde"/><stop offset="0.8073" stop-color="#15ffe2"/><stop offset="0.8371" stop-color="#08f0ef"/><stop offset="0.8695" stop-color="#00e5f7"/><stop offset="0.9019" stop-color="#00dbff"/><stop offset="0.9653" stop-color="#00c7ff"/><stop offset="1.0000" stop-color="#00bdff"/></linearGradient>
<linearGradient id="a31" gradientUnits="userSpaceOnUse" x1="231.85" x2="329.00" y1="0" y2="0"><stop offset="0.0041" stop-color="#8c0000"/><stop offset="0.0315" stop-color="#d50000"/><stop offset="0.0634" stop-color="#ea0000"/><stop offset="0.0953" stop-color="#ff1300"/><stop offset="0.1929" stop-color="#ff6800"/><stop offset="0.2742" stop-color="#ffa500"/><stop offset="0.3342" stop-color="#ffd000"/><stop offset="0.3841" stop-color="#ffec00"/><stop offset="0.4007" stop-color="#f7f600"/><stop offset="0.4174" stop-color="#efff08"/><stop offset="0.4572" stop-color="#deff19"/><stop offset="0.4826" stop-color="#ceff29"/><stop offset="0.5084" stop-color="#bdff3a"/><stop offset="0.5497" stop-color="#adff4a"/><stop offset="0.5813" stop-color="#9cff5a"/><stop offset="0.6030" stop-color="#8cff6b"/><stop offset="0.6256" stop-color="#7bff7b"/><stop offset="0.6508" stop-color="#6bff8c"/><stop offset="0.6765" stop-color="#5aff9c"/><stop offset="0.7028" stop-color="#4affad"/><stop offset="0.7297" stop-color="#3affbd"/><stop offset="0.7567" stop-color="#29ffce"/><stop offset="0.7898" stop-color="#19ffde"/><stop offset="0.7994" stop-color="#15ffe2"/><stop offset="0.8282" stop-color="#08f0ef"/><stop offset="0.8595" stop-color="#00e5f7"/><stop offset="0.8907" stop-color="#00dbff"/><stop offset="0.9521" stop-color="#00c7ff"/><stop offset="1.0000" stop-color="#00b9ff"/></linearGradient>
<linearGradient id="a32" gradientUnits="userSpaceOnUse" x1="233.49" x2="329.00" y1="0" y2="0"><stop offset="0.0000" stop-color="#8c0000"/><stop offset="0.0189" stop-color="#d50000"/><stop offset="0.0511" stop-color="#ea0000"/><stop offset="0.0832" stop-color="#ff1300"/><stop offset="0.1817" stop-color="#ff6800"/><stop offset="0.2635" stop-color="#ffa500"/><stop offset="0.3242" stop-color="#ffd000"/><stop offset="0.3741" stop-color="#ffec00"/><stop offset="0.3907" stop-color="#f7f600"/><stop offset="0.4074" stop-color="#efff08"/><stop offset="0.4476" stop-color="#deff19"/><stop offset="0.4733" stop-color="#ceff29"/><stop offset="0.4993" stop-color="#bdff3a"/><stop offset="0.5411" stop-color="#adff4a"/><stop offset="0.5728" stop-color="#9cff5a"/><stop offset="0.5945" stop-color="#8cff6b"/><stop offset="0.6169" stop-color="#7bff7b"/><stop offset="0.6420" stop-color="#6bff8c"/><stop offset="0.6676" stop-color="#5aff9c"/><stop offset="0.6938" stop-color="#4affad"/><stop offset="0.7205" stop-color="#3affbd"/><stop offset="0.7469" stop-color="#29ffce"/><stop offset="0.7794" stop-color="#19ffde"/><stop offset="0.7889" stop-color="#15ffe2"/><stop offset="0.8173" stop-color="#08f0ef"/><stop offset="0.8481" stop-color="#00e5f7"/><stop offset="0.8788" stop-color="#00dbff"/><stop offset="0.9395" stop-color="#00c7ff"/><stop offset="1.0000" stop-color="#00b5ff"/></linearGradient>
<linearGradient id="a33" gradientUnits="userSpaceOnUse" x1="233.49" x2="329.00" y1="0" y2="0"><stop offset="0.0000" stop-color="#8c0000"/><stop offset="0.0219" stop-color="#d50000"/><stop offset="0.0533" stop-color="#ea0000"/><stop offset="0.0847" stop-color="#ff1300"/><stop offset="0.1831" stop-color="#ff6800"/><stop offset="0.2646" stop-color="#ffa500"/><stop offset="0.3253" stop-color="#ffd000"/><stop offset="0.3745" stop-color="#ffec00"/><stop offset="0.3909" stop-color="#f7f600"/><stop offset="0.4073" stop-color="#efff08"/><stop offset="0.4472" stop-color="#deff19"/><stop offset="0.4729" stop-color="#ceff29"/><stop offset="0.4987" stop-color="#bdff3a"/><stop offset="0.5403" stop-color="#adff4a"/><stop offset="0.5717" stop-color="#9cff5a"/><stop offset="0.5930" stop-color="#8cff6b"/><stop offset="0.6150" stop-color="#7bff7b"/><stop offset="0.6397" stop-color="#6bff8c"/><stop offset="0.6648" stop-color="#5aff9c"/><stop offset="0.6905" stop-color="#4affad"/><stop offset="0.7166" stop-color="#3affbd"/><stop offset="0.7420" stop-color="#29ffce"/><stop offset="0.7734" stop-color="#19ffde"/><stop offset="0.7827" stop-color="#15ffe2"/><stop offset="0.8104" stop-color="#08f0ef"/><stop offset="0.8402" stop-color="#00e5f7"/><stop offset="0.8700" stop-color="#00dbff"/><stop offset="0.9292" stop-color="#00c7ff"/><stop offset="1.0000" stop-color="#00b1ff"/></linearGradient>
<linearGradient id="a34" gradientUnits="userSpaceOnUse" x1="233.49" x2="329.00" y1="0" y2="0"><stop offset="0.0000" stop-color="#8c0000"/><stop offset="0.0244" stop-color="#d50000"/><stop offset="0.0552" stop-color="#ea0000"/><stop offset="0.0860" stop-color="#ff1300"/><stop offset="0.1843" stop-color="#ff6800"/><stop offset="0.2655" stop-color="#ffa500"/><stop offset="0.3264" stop-color="#ffd000"/><stop offset="0.3748" stop-color="#ffec00"/><stop offset="0.3910" stop-color="#f7f600"/><stop offset="0.4072" stop-color="#efff08"/><stop offset="0.4469" stop-color="#deff19"/><stop offset="0.4725" stop-color="#ceff29"/><stop offset="0.4981" stop-color="#bdff3a"/><stop offset="0.5396" stop-color="#adff4a"/><stop offset="0.5708" stop-color="#9cff5a"/><stop offset="0.5918" stop-color="#8cff6b"/><stop offset="0.6133" stop-color="#7bff7b"/><stop offset="0.6377" stop-color="#6bff8c"/><stop offset="0.6624" stop-color="#5aff9c"/><stop offset="0.6876" stop-color="#4affad"/><stop offset="0.7132" stop-color="#3affbd"/><stop offset="0.7378" stop-color="#29ffce"/><stop offset="0.7683" stop-color="#19ffde"/><stop offset="0.7773" stop-color="#15ffe2"/><stop offset="0.8044" stop-color="#08f0ef"/><stop offset="0.8334" stop-color="#00e5f7"/><stop offset="0.8624" stop-color="#00dbff"/><stop offset="0.9201" stop-color="#00c7ff"/><stop offset="0.9827" stop-color="#00b2ff"/><stop offset="1.0000" stop-color="#00aeff"/></linearGradient>
<linearGradient id="a35" gradientUnits="userSpaceOnUse" x1="233.49" x2="329.00" y1="0" y2="0"><stop offset="0.0005" stop-color="#8c0000"/><stop offset="0.0265" stop-color="#d50000"/><stop offset="0.0568" stop-color="#ea0000"/><stop offset="0.0871" stop-color="#ff1300"/><stop offset="0.1855" stop-color="#ff6800"/><stop offset="0.2664" stop-color="#ffa500"/><stop offset="0.3273" stop-color="#ffd000"/><stop offset="0.3751" stop-color="#ffec00"/><stop offset="0.3910" stop-color="#f7f600"/><stop offset="0.4070" stop-color="#efff08"/><stop offset="0.4466" stop-color="#deff19"/><stop offset="0.4721" stop-color="#ceff29"/><stop offset="0.4977" stop-color="#bdff3a"/><stop offset="0.5389" stop-color="#adff4a"/><stop offset="0.5700" stop-color="#9cff5a"/><stop offset="0.5908" stop-color="#8cff6b"/><stop offset="0.6120" stop-color="#7bff7b"/><stop offset="0.6360" stop-color="#6bff8c"/><stop offset="0.6604" stop-color="#5aff9c"/><stop offset="0.6851" stop-color="#4affad"/><stop offset="0.7103" stop-color="#3affbd"/><stop offset="0.7341" stop-color="#29ffce"/><stop offset="0.7638" stop-color="#19ffde"/><stop offset="0.7726" stop-color="#15ffe2"/><stop offset="0.7991" stop-color="#08f0ef"/><stop offset="0.8274" stop-color="#00e5f7"/><stop offset="0.8557" stop-color="#00dbff"/><stop offset="0.9122" stop-color="#00c7ff"/><stop offset="0.9703" stop-color="#00b2ff"/><stop offset="1.0000" stop-color="#00aaff"/></linearGradient>
<linearGradient id="a36" gradientUnits="userSpaceOnUse" x1="233.49" x2="329.00" y1="0" y2="0"><stop offset="0.0029" stop-color="#8c0000"/><stop offset="0.0285" stop-color="#d50000"/><stop offset="0.0583" stop-color="#ea0000"/><stop offset="0.0882" stop-color="#ff1300"/><stop offset="0.1865" stop-color="#ff6800"/><stop offset="0.2673" stop-color="#ffa500"/><stop offset="0.3282" stop-color="#ffd000"/><stop offset="0.3753" stop-color="#ffec00"/><stop offset="0.3910" stop-color="#f7f600"/><stop offset="0.4067" stop-color="#efff08"/><stop offset="0.4462" stop-color="#deff19"/><stop offset="0.4717" stop-color="#ceff29"/><stop offset="0.4972" stop-color="#bdff3a"/><stop offset="0.5384" stop-color="#adff4a"/><stop offset="0.5693" stop-color="#9cff5a"/><stop offset="0.5899" stop-color="#8cff6b"/><stop offset="0.6108" stop-color="#7bff7b"/><stop offset="0.6346" stop-color="#6bff8c"/><stop offset="0.6587" stop-color="#5aff9c"/><stop offset="0.6831" stop-color="#4affad"/><stop offset="0.7078" stop-color="#3affbd"/><stop offset="0.7310" stop-color="#29ffce"/><stop offset="0.7600" stop-color="#19ffde"/><stop offset="0.7686" stop-color="#15ffe2"/><stop offset="0.7945" stop-color="#08f0ef"/><stop offset="0.8222" stop-color="#00e5f7"/><stop offset="0.8499" stop-color="#00dbff"/><stop offset="0.9053" stop-color="#00c7ff"/><stop offset="0.9596" stop-color="#00b2ff"/><stop offset="1.0000" stop-color="#00a6ff"/></linearGradient>
<linearGradient id="a37" gradientUnits="userSpaceOnUse" x1="233.49" x2="329.00" y1="0" y2="0"><stop offset="0.0048" stop-color="#8c0000"/><stop offset="0.0301" stop-color="#d50000"/><stop offset="0.0597" stop-color="#ea0000"/><stop offset="0.0892" stop-color="#ff1300"/><stop offset="0.1875" stop-color="#ff6800"/><stop offset="0.2681" stop-color="#ffa500"/><stop offset="0.3291" stop-color="#ffd000"/><stop offset="0.3755" stop-color="#ffec00"/><stop offset="0.3910" stop-color="#f7f600"/><stop offset="0.4064" stop-color="#efff08"/><stop offset="0.4459" stop-color="#deff19"/><stop offset="0.4713" stop-color="#ceff29"/><stop offset="0.4968" stop-color="#bdff3a"/><stop offset="0.5379" stop-color="#adff4a"/><stop offset="0.5687" stop-color="#9cff5a"/><stop offset="0.5892" stop-color="#8cff6b"/><stop offset="0.6099" stop-color="#7bff7b"/><stop offset="0.6335" stop-color="#6bff8c"/><stop offset="0.6573" stop-color="#5aff9c"/><stop offset="0.6814" stop-color="#4affad"/><stop offset="0.7058" stop-color="#3affbd"/><stop offset="0.7284" stop-color="#29ffce"/><stop offset="0.7567" stop-color="#19ffde"/><stop offset="0.7652" stop-color="#15ffe2"/><stop offset="0.7906" stop-color="#08f0ef"/><stop offset="0.8178" stop-color="#00e5f7"/><stop offset="0.8449" stop-color="#00dbff"/><stop offset="0.8993" stop-color="#00c7ff"/><stop offset="0.9504" stop-color="#00b2ff"/><stop offset="1.0000" stop-color="#00a2ff"/></linearGradient>
<linearGradient id="a38" gradientUnits="userSpaceOnUse" x1="233.49" x2="329.00" y1="0" y2="0"><stop offset="0.0060" stop-color="#8c0000"/><stop offset="0.0312" stop-color="#d50000"/><stop offset="0.0606" stop-color="#ea0000"/><stop offset="0.0901" stop-color="#ff1300"/><stop offset="0.1884" stop-color="#ff6800"/><stop offset="0.2688" stop-color="#ffa500"/><stop offset="0.3299" stop-color="#ffd000"/><stop offset="0.3756" stop-color="#ffec00"/><stop offset="0.3909" stop-color="#f7f600"/><stop offset="0.4061" stop-color="#efff08"/><stop offset="0.4455" stop-color="#deff19"/><stop offset="0.4710" stop-color="#ceff29"/><stop offset="0.4964" stop-color="#bdff3a"/><stop offset="0.5375" stop-color="#adff4a"/><stop offset="0.5682" stop-color="#9cff5a"/><stop offset="0.5885" stop-color="#8cff6b"/><stop offset="0.6091" stop-color="#7bff7b"/><stop offset="0.6325" stop-color="#6bff8c"/><stop offset="0.6561" stop-color="#5aff9c"/><stop offset="0.6800" stop-color="#4affad"/><stop offset="0.7040" stop-color="#3affbd"/><stop offset="0.7262" stop-color="#29ffce"/><stop offset="0.7540" stop-color="#19ffde"/><stop offset="0.7623" stop-color="#15ffe2"/><stop offset="0.7873" stop-color="#08f0ef"/><stop offset="0.8140" stop-color="#00e5f7"/><stop offset="0.8406" stop-color="#00dbff"/><stop offset="0.8941" stop-color="#00c7ff"/><stop offset="0.9424" stop-color="#00b2ff"/><stop offset="1.0000" stop-color="#009fff"/></linearGradient>
<linearGradient id="a39" gradientUnits="userSpaceOnUse" x1="233.49" x2="329.00" y1="0" y2="0"><stop offset="0.0069" stop-color="#8c0000"/><stop offset="0.0321" stop-color="#d50000"/><stop offset="0.0615" stop-color="#ea0000"/><stop offset="0.0909" stop-color="#ff1300"/><stop offset="0.1892" stop-color="#ff6800"/><stop offset="0.2694" stop-color="#ffa500"/><stop offset="0.3307" stop-color="#ffd000"/><stop offset="0.3757" stop-color="#ffec00"/><stop offset="0.3907" stop-color="#f7f600"/><stop offset="0.4057" stop-color="#efff08"/><stop offset="0.4451" stop-color="#deff19"/><stop offset="0.4705" stop-color="#ceff29"/><stop offset="0.4960" stop-color="#bdff3a"/><stop offset="0.5370" stop-color="#adff4a"/><stop offset="0.5677" stop-color="#9cff5a"/><stop offset="0.5880" stop-color="#8cff6b"/><stop offset="0.6084" stop-color="#7bff7b"/><stop offset="0.6317" stop-color="#6bff8c"/><stop offset="0.6552" stop-color="#5aff9c"/><stop offset="0.6788" stop-color="#4affad"/><stop offset="0.7026" stop-color="#3affbd"/><stop offset="0.7244" stop-color="#29ffce"/><stop offset="0.7517" stop-color="#19ffde"/><stop offset="0.7599" stop-color="#15ffe2"/><stop offset="0.7845" stop-color="#08f0ef"/><stop offset="0.8108" stop-color="#00e5f7"/><stop offset="0.8370" stop-color="#00dbff"/><stop offset="0.8897" stop-color="#00c7ff"/><stop offset="0.9356" stop-color="#00b2ff"/><stop offset="1.0000" stop-color="#009bff"/></linearGradient>
<linearGradient id="a40" gradientUnits="userSpaceOnUse" x1="233.49" x2="329.00" y1="0" y2="0"><stop offset="0.0074" stop-color="#8c0000"/><stop offset="0.0327" stop-color="#d50000"/><stop offset="0.0621" stop-color="#ea0000"/><stop offset="0.0916" stop-color="#ff1300"/><stop offset="0.1899" stop-color="#ff6800"/><stop offset="0.2700" stop-color="#ffa500"/><stop offset="0.3313" stop-color="#ffd000"/><stop offset="0.3757" stop-color="#ffec00"/><stop offset="0.3904" stop-color="#f7f600"/><stop offset="0.4052" stop-color="#efff08"/><stop offset="0.4446" stop-color="#deff19"/><stop offset="0.4700" stop-color="#ceff29"/><stop offset="0.4955" stop-color="#bdff3a"/><stop offset="0.5366" stop-color="#adff4a"/><stop offset="0.5672" stop-color="#9cff5a"/><stop offset="0.5874" stop-color="#8cff6b"/><stop offset="0.6078" stop-color="#7bff7b"/><stop offset="0.6310" stop-color="#6bff8c"/><stop offset="0.6543" stop-color="#5aff9c"/><stop offset="0.6778" stop-color="#4affad"/><stop offset="0.7014" stop-color="#3affbd"/><stop offset="0.7229" stop-color="#29ffce"/><stop offset="0.7498" stop-color="#19ffde"/><stop offset="0.7579" stop-color="#15ffe2"/><stop offset="0.7822" stop-color="#08f0ef"/><stop offset="0.8081" stop-color="#00e5f7"/><stop offset="0.8340" stop-color="#00dbff"/><stop offset="0.8860" stop-color="#00c7ff"/><stop offset="0.9298" stop-color="#00b2ff"/><stop offset="0.9811" stop-color="#009eff"/><stop offset="1.0000" stop-color="#0098ff"/></linearGradient>
<linearGradient id="a41" gradientUnits="userSpaceOnUse" x1="233.49" x2="329.00" y1="0" y2="0"><stop offset="0.0073" stop-color="#8c0000"/><stop offset="0.0328" stop-color="#d50000"/><stop offset="0.0625" stop-color="#ea0000"/><stop offset="0.0922" stop-color="#ff1300"/><stop offset="0.1906" stop-color="#ff6800"/><stop offset="0.2705" stop-color="#ffa500"/><stop offset="0.3320" stop-color="#ffd000"/><stop offset="0.3755" stop-color="#ffec00"/><stop offset="0.3901" stop-color="#f7f600"/><stop offset="0.4046" stop-color="#efff08"/><stop offset="0.4439" stop-color="#deff19"/><stop offset="0.4694" stop-color="#ceff29"/><stop offset="0.4949" stop-color="#bdff3a"/><stop offset="0.5360" stop-color="#adff4a"/><stop offset="0.5667" stop-color="#9cff5a"/><stop offset="0.5869" stop-color="#8cff6b"/><stop offset="0.6072" stop-color="#7bff7b"/><stop offset="0.6304" stop-color="#6bff8c"/><stop offset="0.6536" stop-color="#5aff9c"/><stop offset="0.6770" stop-color="#4affad"/><stop offset="0.7004" stop-color="#3affbd"/><stop offset="0.7216" stop-color="#29ffce"/><stop offset="0.7483" stop-color="#19ffde"/><stop offset="0.7563" stop-color="#15ffe2"/><stop offset="0.7803" stop-color="#08f0ef"/><stop offset="0.8059" stop-color="#00e5f7"/><stop offset="0.8315" stop-color="#00dbff"/><stop offset="0.8829" stop-color="#00c7ff"/><stop offset="0.9250" stop-color="#00b2ff"/><stop offset="0.9728" stop-color="#009eff"/><stop offset="1.0000" stop-color="#0094ff"/></linearGradient>
<linearGradient id="a42" gradientUnits="userSpaceOnUse" x1="233.49" x2="329.00" y1="0" y2="0"><stop offset="0.0068" stop-color="#8c0000"/><stop offset="0.0326" stop-color="#d50000"/><stop offset="0.0627" stop-color="#ea0000"/><stop offset="0.0928" stop-color="#ff1300"/><stop offset="0.1912" stop-color="#ff6800"/><stop offset="0.2710" stop-color="#ffa500"/><stop offset="0.3325" stop-color="#ffd000"/><stop offset="0.3753" stop-color="#ffec00"/><stop offset="0.3896" stop-color="#f7f600"/><stop offset="0.4039" stop-color="#efff08"/><stop offset="0.4433" stop-color="#deff19"/><stop offset="0.4688" stop-color="#ceff29"/><stop offset="0.4943" stop-color="#bdff3a"/><stop offset="0.5355" stop-color="#adff4a"/><stop offset="0.5662" stop-color="#9cff5a"/><stop offset="0.5864" stop-color="#8cff6b"/><stop offset="0.6067" stop-color="#7bff7b"/><stop offset="0.6298" stop-color="#6bff8c"/><stop offset="0.6530" stop-color="#5aff9c"/><stop offset="0.6763" stop-color="#4affad"/><stop offset="0.6997" stop-color="#3affbd"/><stop offset="0.7207" stop-color="#29ffce"/><stop offset="0.7470" stop-color="#19ffde"/><stop offset="0.7550" stop-color="#15ffe2"/><stop offset="0.7788" stop-color="#08f0ef"/><stop offset="0.8042" stop-color="#00e5f7"/><stop offset="0.8295" stop-color="#00dbff"/><stop offset="0.8805" stop-color="#00c7ff"/><stop offset="0.9210" stop-color="#00b2ff"/><stop offset="0.9659" stop-color="#009eff"/><stop offset="1.0000" stop-color="#0091ff"/></linearGradient>
<linearGradient id="a43" gradientUnits="userSpaceOnUse" x1="233.49" x2="329.00" y1="0" y2="0"><stop offset="0.0062" stop-color="#8c0000"/><stop offset="0.0323" stop-color="#d50000"/><stop offset="0.0628" stop-color="#ea0000"/><stop offset="0.0933" stop-color="#ff1300"/><stop offset="0.1916" stop-color="#ff6800"/><stop offset="0.2714" stop-color="#ffa500"/><stop offset="0.3330" stop-color="#ffd000"/><stop offset="0.3751" stop-color="#ffec00"/><stop offset="0.3891" stop-color="#f7f600"/><stop offset="0.4032" stop-color="#efff08"/><stop offset="0.4425" stop-color="#deff19"/><stop offset="0.4681" stop-color="#ceff29"/><stop offset="0.4937" stop-color="#bdff3a"/><stop offset="0.5349" stop-color="#adff4a"/><stop offset="0.5656" stop-color="#9cff5a"/><stop offset="0.5859" stop-color="#8cff6b"/><stop offset="0.6062" stop-color="#7bff7b"/><stop offset="0.6293" stop-color="#6bff8c"/><stop offset="0.6525" stop-color="#5aff9c"/><stop offset="0.6757" stop-color="#4affad"/><stop offset="0.6990" stop-color="#3affbd"/><stop offset="0.7199" stop-color="#29ffce"/><stop offset="0.7461" stop-color="#19ffde"/><stop offset="0.7540" stop-color="#15ffe2"/><stop offset="0.7777" stop-color="#08f0ef"/><stop offset="0.8028" stop-color="#00e5f7"/><stop offset="0.8280" stop-color="#00dbff"/><stop offset="0.8785" stop-color="#00c7ff"/><stop offset="0.9178" stop-color="#00b2ff"/><stop offset="0.9603" stop-color="#009eff"/><stop offset="1.0000" stop-color="#008eff"/></linearGradient>
<linearGradient id="a44" gradientUnits="userSpaceOnUse" x1="233.49" x2="329.00" y1="0" y2="0"><stop offset="0.0054" stop-color="#8c0000"/><stop offset="0.0319" stop-color="#d50000"/><stop offset="0.0627" stop-color="#ea0000"/><stop offset="0.0936" stop-color="#ff1300"/><stop offset="0.1920" stop-color="#ff6800"/><stop offset="0.2717" stop-color="#ffa500"/><stop offset="0.3334" stop-color="#ffd000"/><stop offset="0.3747" stop-color="#ffec00"/><stop offset="0.3885" stop-color="#f7f600"/><stop offset="0.4022" stop-color="#efff08"/><stop offset="0.4416" stop-color="#deff19"/><stop offset="0.4672" stop-color="#ceff29"/><stop offset="0.4929" stop-color="#bdff3a"/><stop offset="0.5342" stop-color="#adff4a"/><stop offset="0.5650" stop-color="#9cff5a"/><stop offset="0.5853" stop-color="#8cff6b"/><stop offset="0.6057" stop-color="#7bff7b"/><stop offset="0.6288" stop-color="#6bff8c"/><stop offset="0.6520" stop-color="#5aff9c"/><stop offset="0.6752" stop-color="#4affad"/><stop offset="0.6985" stop-color="#3affbd"/><stop offset="0.7193" stop-color="#29ffce"/><stop offset="0.7454" stop-color="#19ffde"/><stop offset="0.7532" stop-color="#15ffe2"/><stop offset="0.7768" stop-color="#08f0ef"/><stop offset="0.8018" stop-color="#00e5f7"/><stop offset="0.8268" stop-color="#00dbff"/><stop offset="0.8770" stop-color="#00c7ff"/><stop offset="0.9154" stop-color="#00b2ff"/><stop offset="0.9559" stop-color="#009eff"/><stop offset="1.0000" stop-color="#008bff"/></linearGradient>
<linearGradient id="a45" gradientUnits="userSpaceOnUse" x1="233.49" x2="329.00" y1="0" y2="0"><stop offset="0.0043" stop-color="#8c0000"/><stop offset="0.0312" stop-color="#d50000"/><stop offset="0.0626" stop-color="#ea0000"/><stop offset="0.0939" stop-color="#ff1300"/><stop offset="0.1923" stop-color="#ff6800"/><stop offset="0.2720" stop-color="#ffa500"/><stop offset="0.3337" stop-color="#ffd000"/><stop offset="0.3741" stop-color="#ffec00"/><stop offset="0.3876" stop-color="#f7f600"/><stop offset="0.4011" stop-color="#efff08"/><stop offset="0.4404" stop-color="#deff19"/><stop offset="0.4662" stop-color="#ceff29"/><stop offset="0.4919" stop-color="#bdff3a"/><stop offset="0.5333" stop-color="#adff4a"/><stop offset="0.5642" stop-color="#9cff5a"/><stop offset="0.5846" stop-color="#8cff6b"/><stop offset="0.6051" stop-color="#7bff7b"/><stop offset="0.6283" stop-color="#6bff8c"/><stop offset="0.6515" stop-color="#5aff9c"/><stop offset="0.6747" stop-color="#4affad"/><stop offset="0.6980" stop-color="#3affbd"/><stop offset="0.7187" stop-color="#29ffce"/><stop offset="0.7448" stop-color="#19ffde"/><stop offset="0.7526" stop-color="#15ffe2"/><stop offset="0.7761" stop-color="#08f0ef"/><stop offset="0.8010" stop-color="#00e5f7"/><stop offset="0.8259" stop-color="#00dbff"/><stop offset="0.8759" stop-color="#00c7ff"/><stop offset="0.9135" stop-color="#00b2ff"/><stop offset="0.9526" stop-color="#009eff"/><stop offset="1.0000" stop-color="#0089ff"/></linearGradient>
<linearGradient id="a46" gradientUnits="userSpaceOnUse" x1="233.49" x2="329.00" y1="0" y2="0"><stop offset="0.0026" stop-color="#8c0000"/><stop offset="0.0301" stop-color="#d50000"/><stop offset="0.0621" stop-color="#ea0000"/><stop offset="0.0941" stop-color="#ff1300"/><stop offset="0.1925" stop-color="#ff6800"/><stop offset="0.2722" stop-color="#ffa500"/><stop offset="0.3339" stop-color="#ffd000"/><stop offset="0.3734" stop-color="#ffec00"/><stop offset="0.3866" stop-color="#f7f600"/><stop offset="0.3998" stop-color="#efff08"/><stop offset="0.4391" stop-color="#deff19"/><stop offset="0.4649" stop-color="#ceff29"/><stop offset="0.4908" stop-color="#bdff3a"/><stop offset="0.5323" stop-color="#adff4a"/><stop offset="0.5633" stop-color="#9cff5a"/><stop offset="0.5838" stop-color="#8cff6b"/><stop offset="0.6044" stop-color="#7bff7b"/><stop offset="0.6277" stop-color="#6bff8c"/><stop offset="0.6510" stop-color="#5aff9c"/><stop offset="0.6743" stop-color="#4affad"/><stop offset="0.6976" stop-color="#3affbd"/><stop offset="0.7183" stop-color="#29ffce"/><stop offset="0.7443" stop-color="#19ffde"/><stop offset="0.7522" stop-color="#15ffe2"/><stop offset="0.7756" stop-color="#08f0ef"/><stop offset="0.8005" stop-color="#00e5f7"/><stop offset="0.8253" stop-color="#00dbff"/><stop offset="0.8751" stop-color="#00c7ff"/><stop offset="0.9123" stop-color="#00b2ff"/><stop offset="0.9502" stop-color="#009eff"/><stop offset="1.0000" stop-color="#0088ff"/></linearGradient>
<linearGradient id="a47" gradientUnits="userSpaceOnUse" x1="233.49" x2="329.00" y1="0" y2="0"><stop offset="0.0005" stop-color="#8c0000"/><stop offset="0.0286" stop-color="#d50000"/><stop offset="0.0614" stop-color="#ea0000"/><stop offset="0.0943" stop-color="#ff1300"/><stop offset="0.1927" stop-color="#ff6800"/><stop offset="0.2723" stop-color="#ffa500"/><stop offset="0.3340" stop-color="#ffd000"/><stop offset="0.3726" stop-color="#ffec00"/><stop offset="0.3855" stop-color="#f7f600"/><stop offset="0.3984" stop-color="#efff08"/><stop offset="0.4377" stop-color="#deff19"/><stop offset="0.4636" stop-color="#ceff29"/><stop offset="0.4896" stop-color="#bdff3a"/><stop offset="0.5312" stop-color="#adff4a"/><stop offset="0.5623" stop-color="#9cff5a"/><stop offset="0.5830" stop-color="#8cff6b"/><stop offset="0.6037" stop-color="#7bff7b"/><stop offset="0.6270" stop-color="#6bff8c"/><stop offset="0.6504" stop-color="#5aff9c"/><stop offset="0.6738" stop-color="#4affad"/><stop offset="0.6971" stop-color="#3affbd"/><stop offset="0.7180" stop-color="#29ffce"/><stop offset="0.7440" stop-color="#19ffde"/><stop offset="0.7518" stop-color="#15ffe2"/><stop offset="0.7753" stop-color="#08f0ef"/><stop offset="0.8001" stop-color="#00e5f7"/><stop offset="0.8249" stop-color="#00dbff"/><stop offset="0.8747" stop-color="#00c7ff"/><stop offset="0.9115" stop-color="#00b2ff"/><stop offset="0.9487" stop-color="#009eff"/><stop offset="0.9914" stop-color="#008aff"/><stop offset="1.0000" stop-color="#0086ff"/></linearGradient>
<linearGradient id="a48" gradientUnits="userSpaceOnUse" x1="233.49" x2="329.00" y1="0" y2="0"><stop offset="0.0000" stop-color="#8c0000"/><stop offset="0.0269" stop-color="#d50000"/><stop offset="0.0606" stop-color="#ea0000"/><stop offset="0.0943" stop-color="#ff1300"/><stop offset="0.1927" stop-color="#ff6800"/><stop offset="0.2723" stop-color="#ffa500"/><stop offset="0.3341" stop-color="#ffd000"/><stop offset="0.3718" stop-color="#ffec00"/><stop offset="0.3843" stop-color="#f7f600"/><stop offset="0.3969" stop-color="#efff08"/><stop offset="0.4362" stop-color="#deff19"/><stop offset="0.4623" stop-color="#ceff29"/><stop offset="0.4884" stop-color="#bdff3a"/><stop offset="0.5301" stop-color="#adff4a"/><stop offset="0.5614" stop-color="#9cff5a"/><stop offset="0.5821" stop-color="#8cff6b"/><stop offset="0.6029" stop-color="#7bff7b"/><stop offset="0.6264" stop-color="#6bff8c"/><stop offset="0.6499" stop-color="#5aff9c"/><stop offset="0.6733" stop-color="#4affad"/><stop offset="0.6968" stop-color="#3affbd"/><stop offset="0.7176" stop-color="#29ffce"/><stop offset="0.7437" stop-color="#19ffde"/><stop offset="0.7516" stop-color="#15ffe2"/><stop offset="0.7751" stop-color="#08f0ef"/><stop offset="0.7999" stop-color="#00e5f7"/><stop offset="0.8247" stop-color="#00dbff"/><stop offset="0.8744" stop-color="#00c7ff"/><stop offset="0.9111" stop-color="#00b2ff"/><stop offset="0.9479" stop-color="#009eff"/><stop offset="0.9899" stop-color="#008aff"/><stop offset="1.0000" stop-color="#0085ff"/></linearGradient>
<linearGradient id="a49" gradientUnits="userSpaceOnUse" x1="233.49" x2="329.00" y1="0" y2="0"><stop offset="0.0000" stop-color="#8c0000"/><stop offset="0.0245" stop-color="#d50000"/><stop offset="0.0592" stop-color="#ea0000"/><stop offset="0.0939" stop-color="#ff1300"/><stop offset="0.1923" stop-color="#ff6800"/><stop offset="0.2719" stop-color="#ffa500"/><stop offset="0.3336" stop-color="#ffd000"/><stop offset="0.3707" stop-color="#ffec00"/><stop offset="0.3831" stop-color="#f7f600"/><stop offset="0.3954" stop-color="#efff08"/><stop offset="0.4348" stop-color="#deff19"/><stop offset="0.4609" stop-color="#ceff29"/><stop offset="0.4871" stop-color="#bdff3a"/><stop offset="0.5290" stop-color="#adff4a"/><stop offset="0.5604" stop-color="#9cff5a"/><stop offset="0.5813" stop-color="#8cff6b"/><stop offset="0.6022" stop-color="#7bff7b"/><stop offset="0.6258" stop-color="#6bff8c"/><stop offset="0.6493" stop-color="#5aff9c"/><stop offset="0.6729" stop-color="#4affad"/><stop offset="0.6964" stop-color="#3affbd"/><stop offset="0.7173" stop-color="#29ffce"/><stop offset="0.7435" stop-color="#19ffde"/><stop offset="0.7514" stop-color="#15ffe2"/><stop offset="0.7749" stop-color="#08f0ef"/><stop offset="0.7998" stop-color="#00e5f7"/><stop offset="0.8246" stop-color="#00dbff"/><stop offset="0.8744" stop-color="#00c7ff"/><stop offset="0.9110" stop-color="#00b2ff"/><stop offset="0.9477" stop-color="#009eff"/><stop offset="0.9896" stop-color="#008aff"/><stop offset="1.0000" stop-color="#0085ff"/></linearGradient>
<linearGradient id="a50" gradientUnits="userSpaceOnUse" x1="231.85" x2="329.00" y1="0" y2="0"><stop offset="0.0077" stop-color="#8c0000"/><stop offset="0.0378" stop-color="#d50000"/><stop offset="0.0730" stop-color="#ea0000"/><stop offset="0.1081" stop-color="#ff1300"/><stop offset="0.2049" stop-color="#ff6800"/><stop offset="0.2830" stop-color="#ffa500"/><stop offset="0.3437" stop-color="#ffd000"/><stop offset="0.3800" stop-color="#ffec00"/><stop offset="0.3921" stop-color="#f7f600"/><stop offset="0.4042" stop-color="#efff08"/><stop offset="0.4429" stop-color="#deff19"/><stop offset="0.4687" stop-color="#ceff29"/><stop offset="0.4945" stop-color="#bdff3a"/><stop offset="0.5358" stop-color="#adff4a"/><stop offset="0.5668" stop-color="#9cff5a"/><stop offset="0.5875" stop-color="#8cff6b"/><stop offset="0.6082" stop-color="#7bff7b"/><stop offset="0.6314" stop-color="#6bff8c"/><stop offset="0.6547" stop-color="#5aff9c"/><stop offset="0.6779" stop-color="#4affad"/><stop offset="0.7012" stop-color="#3affbd"/><stop offset="0.7218" stop-color="#29ffce"/><stop offset="0.7476" stop-color="#19ffde"/><stop offset="0.7554" stop-color="#15ffe2"/><stop offset="0.7786" stop-color="#08f0ef"/><stop offset="0.8031" stop-color="#00e5f7"/><stop offset="0.8276" stop-color="#00dbff"/><stop offset="0.8765" stop-color="#00c7ff"/><stop offset="0.9126" stop-color="#00b2ff"/><stop offset="0.9487" stop-color="#009eff"/><stop offset="0.9899" stop-color="#008aff"/><stop offset="1.0000" stop-color="#0085ff"/></linearGradient>
<linearGradient id="a51" gradientUnits="userSpaceOnUse" x1="231.85" x2="329.00" y1="0" y2="0"><stop offset="0.0032" stop-color="#8c0000"/><stop offset="0.0341" stop-color="#d50000"/><stop offset="0.0702" stop-color="#ea0000"/><stop offset="0.1062" stop-color="#ff1300"/><stop offset="0.2030" stop-color="#ff6800"/><stop offset="0.2812" stop-color="#ffa500"/><stop offset="0.3418" stop-color="#ffd000"/><stop offset="0.3783" stop-color="#ffec00"/><stop offset="0.3904" stop-color="#f7f600"/><stop offset="0.4026" stop-color="#efff08"/><stop offset="0.4413" stop-color="#deff19"/><stop offset="0.4672" stop-color="#ceff29"/><stop offset="0.4932" stop-color="#bdff3a"/><stop offset="0.5346" stop-color="#adff4a"/><stop offset="0.5657" stop-color="#9cff5a"/><stop offset="0.5866" stop-color="#8cff6b"/><stop offset="0.6074" stop-color="#7bff7b"/><stop offset="0.6308" stop-color="#6bff8c"/><stop offset="0.6541" stop-color="#5aff9c"/><stop offset="0.6774" stop-color="#4affad"/><stop offset="0.7008" stop-color="#3affbd"/><stop offset="0.7215" stop-color="#29ffce"/><stop offset="0.7474" stop-color="#19ffde"/><stop offset="0.7552" stop-color="#15ffe2"/><stop offset="0.7785" stop-color="#08f0ef"/><stop offset="0.8030" stop-color="#00e5f7"/><stop offset="0.8276" stop-color="#00dbff"/><stop offset="0.8767" stop-color="#00c7ff"/><stop offset="0.9130" stop-color="#00b2ff"/><stop offset="0.9494" stop-color="#009eff"/><stop offset="0.9911" stop-color="#008aff"/><stop offset="1.0000" stop-color="#0086ff"/></linearGradient>
<linearGradient id="a52" gradientUnits="userSpaceOnUse" x1="231.85" x2="329.00" y1="0" y2="0"><stop offset="0.0000" stop-color="#8c0000"/><stop offset="0.0302" stop-color="#d50000"/><stop offset="0.0669" stop-color="#ea0000"/><stop offset="0.1037" stop-color="#ff1300"/><stop offset="0.2005" stop-color="#ff6800"/><stop offset="0.2786" stop-color="#ffa500"/><stop offset="0.3392" stop-color="#ffd000"/><stop offset="0.3762" stop-color="#ffec00"/><stop offset="0.3886" stop-color="#f7f600"/><stop offset="0.4009" stop-color="#efff08"/><stop offset="0.4396" stop-color="#deff19"/><stop offset="0.4656" stop-color="#ceff29"/><stop offset="0.4917" stop-color="#bdff3a"/><stop offset="0.5333" stop-color="#adff4a"/><stop offset="0.5646" stop-color="#9cff5a"/><stop offset="0.5856" stop-color="#8cff6b"/><stop offset="0.6066" stop-color="#7bff7b"/><stop offset="0.6300" stop-color="#6bff8c"/><stop offset="0.6535" stop-color="#5aff9c"/><stop offset="0.6770" stop-color="#4affad"/><stop offset="0.7004" stop-color="#3affbd"/><stop offset="0.7213" stop-color="#29ffce"/><stop offset="0.7473" stop-color="#19ffde"/><stop offset="0.7551" stop-color="#15ffe2"/><stop offset="0.7785" stop-color="#08f0ef"/><stop offset="0.8032" stop-color="#00e5f7"/><stop offset="0.8279" stop-color="#00dbff"/><stop offset="0.8773" stop-color="#00c7ff"/><stop offset="0.9140" stop-color="#00b2ff"/><stop offset="0.9511" stop-color="#009eff"/><stop offset="1.0000" stop-color="#0087ff"/></linearGradient>
<linearGradient id="a53" gradientUnits="userSpaceOnUse" x1="231.85" x2="329.00" y1="0" y2="0"><stop offset="0.0000" stop-color="#8c0000"/><stop offset="0.0259" stop-color="#d50000"/><stop offset="0.0632" stop-color="#ea0000"/><stop offset="0.1006" stop-color="#ff1300"/><stop offset="0.1974" stop-color="#ff6800"/><stop offset="0.2755" stop-color="#ffa500"/><stop offset="0.3360" stop-color="#ffd000"/><stop offset="0.3739" stop-color="#ffec00"/><stop offset="0.3865" stop-color="#f7f600"/><stop offset="0.3991" stop-color="#efff08"/><stop offset="0.4378" stop-color="#deff19"/><stop offset="0.4640" stop-color="#ceff29"/><stop offset="0.4902" stop-color="#bdff3a"/><stop offset="0.5319" stop-color="#adff4a"/><stop offset="0.5634" stop-color="#9cff5a"/><stop offset="0.5845" stop-color="#8cff6b"/><stop offset="0.6057" stop-color="#7bff7b"/><stop offset="0.6293" stop-color="#6bff8c"/><stop offset="0.6529" stop-color="#5aff9c"/><stop offset="0.6765" stop-color="#4affad"/><stop offset="0.7001" stop-color="#3affbd"/><stop offset="0.7211" stop-color="#29ffce"/><stop offset="0.7474" stop-color="#19ffde"/><stop offset="0.7552" stop-color="#15ffe2"/><stop offset="0.7788" stop-color="#08f0ef"/><stop offset="0.8036" stop-color="#00e5f7"/><stop offset="0.8285" stop-color="#00dbff"/><stop offset="0.8783" stop-color="#00c7ff"/><stop offset="0.9158" stop-color="#00b2ff"/><stop offset="0.9538" stop-color="#009eff"/><stop offset="1.0000" stop-color="#0089ff"/></linearGradient>
<linearGradient id="a54" gradientUnits="userSpaceOnUse" x1="230.20" x2="329.00" y1="0" y2="0"><stop offset="0.0057" stop-color="#8c0000"/><stop offset="0.0376" stop-color="#d50000"/><stop offset="0.0748" stop-color="#ea0000"/><stop offset="0.1120" stop-color="#ff1300"/><stop offset="0.2072" stop-color="#ff6800"/><stop offset="0.2840" stop-color="#ffa500"/><stop offset="0.3435" stop-color="#ffd000"/><stop offset="0.3817" stop-color="#ffec00"/><stop offset="0.3944" stop-color="#f7f600"/><stop offset="0.4072" stop-color="#efff08"/><stop offset="0.4452" stop-color="#deff19"/><stop offset="0.4711" stop-color="#ceff29"/><stop offset="0.4971" stop-color="#bdff3a"/><stop offset="0.5383" stop-color="#adff4a"/><stop offset="0.5694" stop-color="#9cff5a"/><stop offset="0.5904" stop-color="#8cff6b"/><stop offset="0.6114" stop-color="#7bff7b"/><stop offset="0.6347" stop-color="#6bff8c"/><stop offset="0.6581" stop-color="#5aff9c"/><stop offset="0.6815" stop-color="#4affad"/><stop offset="0.7049" stop-color="#3affbd"/><stop offset="0.7258" stop-color="#29ffce"/><stop offset="0.7518" stop-color="#19ffde"/><stop offset="0.7596" stop-color="#15ffe2"/><stop offset="0.7830" stop-color="#08f0ef"/><stop offset="0.8077" stop-color="#00e5f7"/><stop offset="0.8323" stop-color="#00dbff"/><stop offset="0.8819" stop-color="#00c7ff"/><stop offset="0.9196" stop-color="#00b2ff"/><stop offset="0.9583" stop-color="#009eff"/><stop offset="1.0000" stop-color="#008bff"/></linearGradient>
<linearGradient id="a55" gradientUnits="userSpaceOnUse" x1="230.20" x2="329.00" y1="0" y2="0"><stop offset="0.0006" stop-color="#8c0000"/><stop offset="0.0328" stop-color="#d50000"/><stop offset="0.0703" stop-color="#ea0000"/><stop offset="0.1079" stop-color="#ff1300"/><stop offset="0.2031" stop-color="#ff6800"/><stop offset="0.2800" stop-color="#ffa500"/><stop offset="0.3395" stop-color="#ffd000"/><stop offset="0.3788" stop-color="#ffec00"/><stop offset="0.3920" stop-color="#f7f600"/><stop offset="0.4051" stop-color="#efff08"/><stop offset="0.4431" stop-color="#deff19"/><stop offset="0.4692" stop-color="#ceff29"/><stop offset="0.4953" stop-color="#bdff3a"/><stop offset="0.5367" stop-color="#adff4a"/><stop offset="0.5680" stop-color="#9cff5a"/><stop offset="0.5892" stop-color="#8cff6b"/><stop offset="0.6104" stop-color="#7bff7b"/><stop offset="0.6339" stop-color="#6bff8c"/><stop offset="0.6575" stop-color="#5aff9c"/><stop offset="0.6811" stop-color="#4affad"/><stop offset="0.7048" stop-color="#3affbd"/><stop offset="0.7259" stop-color="#29ffce"/><stop offset="0.7522" stop-color="#19ffde"/><stop offset="0.7601" stop-color="#15ffe2"/><stop offset="0.7838" stop-color="#08f0ef"/><stop offset="0.8088" stop-color="#00e5f7"/><stop offset="0.8338" stop-color="#00dbff"/><stop offset="0.8841" stop-color="#00c7ff"/><stop offset="0.9231" stop-color="#00b2ff"/><stop offset="0.9633" stop-color="#009eff"/><stop offset="1.0000" stop-color="#008dff"/></linearGradient>
<linearGradient id="a56" gradientUnits="userSpaceOnUse" x1="230.20" x2="329.00" y1="0" y2="0"><stop offset="0.0000" stop-color="#8c0000"/><stop offset="0.0277" stop-color="#d50000"/><stop offset="0.0656" stop-color="#ea0000"/><stop offset="0.1034" stop-color="#ff1300"/><stop offset="0.1987" stop-color="#ff6800"/><stop offset="0.2756" stop-color="#ffa500"/><stop offset="0.3351" stop-color="#ffd000"/><stop offset="0.3757" stop-color="#ffec00"/><stop offset="0.3892" stop-color="#f7f600"/><stop offset="0.4027" stop-color="#efff08"/><stop offset="0.4408" stop-color="#deff19"/><stop offset="0.4670" stop-color="#ceff29"/><stop offset="0.4933" stop-color="#bdff3a"/><stop offset="0.5349" stop-color="#adff4a"/><stop offset="0.5664" stop-color="#9cff5a"/><stop offset="0.5879" stop-color="#8cff6b"/><stop offset="0.6094" stop-color="#7bff7b"/><stop offset="0.6331" stop-color="#6bff8c"/><stop offset="0.6569" stop-color="#5aff9c"/><stop offset="0.6808" stop-color="#4affad"/><stop offset="0.7048" stop-color="#3affbd"/><stop offset="0.7262" stop-color="#29ffce"/><stop offset="0.7530" stop-color="#19ffde"/><stop offset="0.7610" stop-color="#15ffe2"/><stop offset="0.7850" stop-color="#08f0ef"/><stop offset="0.8104" stop-color="#00e5f7"/><stop offset="0.8357" stop-color="#00dbff"/><stop offset="0.8870" stop-color="#00c7ff"/><stop offset="0.9275" stop-color="#00b2ff"/><stop offset="0.9697" stop-color="#009eff"/><stop offset="1.0000" stop-color="#0091ff"/></linearGradient>
<linearGradient id="a57" gradientUnits="userSpaceOnUse" x1="228.55" x2="329.00" y1="0" y2="0"><stop offset="0.0064" stop-color="#8c0000"/><stop offset="0.0385" stop-color="#d50000"/><stop offset="0.0759" stop-color="#ea0000"/><stop offset="0.1133" stop-color="#ff1300"/><stop offset="0.2071" stop-color="#ff6800"/><stop offset="0.2828" stop-color="#ffa500"/><stop offset="0.3415" stop-color="#ffd000"/><stop offset="0.3826" stop-color="#ffec00"/><stop offset="0.3963" stop-color="#f7f600"/><stop offset="0.4100" stop-color="#efff08"/><stop offset="0.4474" stop-color="#deff19"/><stop offset="0.4735" stop-color="#ceff29"/><stop offset="0.4995" stop-color="#bdff3a"/><stop offset="0.5407" stop-color="#adff4a"/><stop offset="0.5720" stop-color="#9cff5a"/><stop offset="0.5933" stop-color="#8cff6b"/><stop offset="0.6148" stop-color="#7bff7b"/><stop offset="0.6384" stop-color="#6bff8c"/><stop offset="0.6621" stop-color="#5aff9c"/><stop offset="0.6859" stop-color="#4affad"/><stop offset="0.7099" stop-color="#3affbd"/><stop offset="0.7313" stop-color="#29ffce"/><stop offset="0.7581" stop-color="#19ffde"/><stop offset="0.7661" stop-color="#15ffe2"/><stop offset="0.7902" stop-color="#08f0ef"/><stop offset="0.8156" stop-color="#00e5f7"/><stop offset="0.8410" stop-color="#00dbff"/><stop offset="0.8926" stop-color="#00c7ff"/><stop offset="0.9343" stop-color="#00b2ff"/><stop offset="0.9781" stop-color="#009eff"/><stop offset="1.0000" stop-color="#0095ff"/></linearGradient>
<linearGradient id="a58" gradientUnits="userSpaceOnUse" x1="228.55" x2="329.00" y1="0" y2="0"><stop offset="0.0009" stop-color="#8c0000"/><stop offset="0.0331" stop-color="#d50000"/><stop offset="0.0706" stop-color="#ea0000"/><stop offset="0.1082" stop-color="#ff1300"/><stop offset="0.2020" stop-color="#ff6800"/><stop offset="0.2779" stop-color="#ffa500"/><stop offset="0.3369" stop-color="#ffd000"/><stop offset="0.3792" stop-color="#ffec00"/><stop offset="0.3933" stop-color="#f7f600"/><stop offset="0.4074" stop-color="#efff08"/><stop offset="0.4448" stop-color="#deff19"/><stop offset="0.4711" stop-color="#ceff29"/><stop offset="0.4973" stop-color="#bdff3a"/><stop offset="0.5388" stop-color="#adff4a"/><stop offset="0.5703" stop-color="#9cff5a"/><stop offset="0.5920" stop-color="#8cff6b"/><stop offset="0.6138" stop-color="#7bff7b"/><stop offset="0.6377" stop-color="#6bff8c"/><stop offset="0.6617" stop-color="#5aff9c"/><stop offset="0.6859" stop-color="#4affad"/><stop offset="0.7104" stop-color="#3affbd"/><stop offset="0.7322" stop-color="#29ffce"/><stop offset="0.7596" stop-color="#19ffde"/><stop offset="0.7678" stop-color="#15ffe2"/><stop offset="0.7923" stop-color="#08f0ef"/><stop offset="0.8183" stop-color="#00e5f7"/><stop offset="0.8443" stop-color="#00dbff"/><stop offset="0.8973" stop-color="#00c7ff"/><stop offset="0.9411" stop-color="#00b2ff"/><stop offset="0.9878" stop-color="#009eff"/><stop offset="1.0000" stop-color="#0099ff"/></linearGradient>
<linearGradient id="a59" gradientUnits="userSpaceOnUse" x1="228.55" x2="329.00" y1="0" y2="0"><stop offset="0.0000" stop-color="#8c0000"/><stop offset="0.0277" stop-color="#d50000"/><stop offset="0.0652" stop-color="#ea0000"/><stop offset="0.1028" stop-color="#ff1300"/><stop offset="0.1968" stop-color="#ff6800"/><stop offset="0.2728" stop-color="#ffa500"/><stop offset="0.3321" stop-color="#ffd000"/><stop offset="0.3756" stop-color="#ffec00"/><stop offset="0.3902" stop-color="#f7f600"/><stop offset="0.4047" stop-color="#efff08"/><stop offset="0.4422" stop-color="#deff19"/><stop offset="0.4686" stop-color="#ceff29"/><stop offset="0.4952" stop-color="#bdff3a"/><stop offset="0.5369" stop-color="#adff4a"/><stop offset="0.5687" stop-color="#9cff5a"/><stop offset="0.5908" stop-color="#8cff6b"/><stop offset="0.6130" stop-color="#7bff7b"/><stop offset="0.6372" stop-color="#6bff8c"/><stop offset="0.6616" stop-color="#5aff9c"/><stop offset="0.6863" stop-color="#4affad"/><stop offset="0.7112" stop-color="#3affbd"/><stop offset="0.7335" stop-color="#29ffce"/><stop offset="0.7615" stop-color="#19ffde"/><stop offset="0.7699" stop-color="#15ffe2"/><stop offset="0.7950" stop-color="#08f0ef"/><stop offset="0.8217" stop-color="#00e5f7"/><stop offset="0.8484" stop-color="#00dbff"/><stop offset="0.9030" stop-color="#00c7ff"/><stop offset="0.9494" stop-color="#00b2ff"/><stop offset="1.0000" stop-color="#009dff"/></linearGradient>
<linearGradient id="a60" gradientUnits="userSpaceOnUse" x1="226.91" x2="329.00" y1="0" y2="0"><stop offset="0.0068" stop-color="#8c0000"/><stop offset="0.0383" stop-color="#d50000"/><stop offset="0.0750" stop-color="#ea0000"/><stop offset="0.1118" stop-color="#ff1300"/><stop offset="0.2043" stop-color="#ff6800"/><stop offset="0.2794" stop-color="#ffa500"/><stop offset="0.3381" stop-color="#ffd000"/><stop offset="0.3822" stop-color="#ffec00"/><stop offset="0.3969" stop-color="#f7f600"/><stop offset="0.4116" stop-color="#efff08"/><stop offset="0.4486" stop-color="#deff19"/><stop offset="0.4749" stop-color="#ceff29"/><stop offset="0.5012" stop-color="#bdff3a"/><stop offset="0.5426" stop-color="#adff4a"/><stop offset="0.5742" stop-color="#9cff5a"/><stop offset="0.5963" stop-color="#8cff6b"/><stop offset="0.6186" stop-color="#7bff7b"/><stop offset="0.6428" stop-color="#6bff8c"/><stop offset="0.6672" stop-color="#5aff9c"/><stop offset="0.6920" stop-color="#4affad"/><stop offset="0.7171" stop-color="#3affbd"/><stop offset="0.7395" stop-color="#29ffce"/><stop offset="0.7679" stop-color="#19ffde"/><stop offset="0.7763" stop-color="#15ffe2"/><stop offset="0.8017" stop-color="#08f0ef"/><stop offset="0.8287" stop-color="#00e5f7"/><stop offset="0.8558" stop-color="#00dbff"/><stop offset="0.9113" stop-color="#00c7ff"/><stop offset="0.9600" stop-color="#00b2ff"/><stop offset="1.0000" stop-color="#00a2ff"/></linearGradient>
<linearGradient id="a61" gradientUnits="userSpaceOnUse" x1="226.91" x2="329.00" y1="0" y2="0"><stop offset="0.0022" stop-color="#8c0000"/><stop offset="0.0334" stop-color="#d50000"/><stop offset="0.0697" stop-color="#ea0000"/><stop offset="0.1061" stop-color="#ff1300"/><stop offset="0.1988" stop-color="#ff6800"/><stop offset="0.2742" stop-color="#ffa500"/><stop offset="0.3335" stop-color="#ffd000"/><stop offset="0.3787" stop-color="#ffec00"/><stop offset="0.3938" stop-color="#f7f600"/><stop offset="0.4089" stop-color="#efff08"/><stop offset="0.4460" stop-color="#deff19"/><stop offset="0.4725" stop-color="#ceff29"/><stop offset="0.4991" stop-color="#bdff3a"/><stop offset="0.5408" stop-color="#adff4a"/><stop offset="0.5729" stop-color="#9cff5a"/><stop offset="0.5953" stop-color="#8cff6b"/><stop offset="0.6181" stop-color="#7bff7b"/><stop offset="0.6427" stop-color="#6bff8c"/><stop offset="0.6677" stop-color="#5aff9c"/><stop offset="0.6930" stop-color="#4affad"/><stop offset="0.7187" stop-color="#3affbd"/><stop offset="0.7417" stop-color="#29ffce"/><stop offset="0.7710" stop-color="#19ffde"/><stop offset="0.7797" stop-color="#15ffe2"/><stop offset="0.8058" stop-color="#08f0ef"/><stop offset="0.8338" stop-color="#00e5f7"/><stop offset="0.8617" stop-color="#00dbff"/><stop offset="0.9193" stop-color="#00c7ff"/><stop offset="0.9716" stop-color="#00b2ff"/><stop offset="1.0000" stop-color="#00a8ff"/></linearGradient>
<linearGradient id="a62" gradientUnits="userSpaceOnUse" x1="226.91" x2="329.00" y1="0" y2="0"><stop offset="0.0000" stop-color="#8c0000"/><stop offset="0.0282" stop-color="#d50000"/><stop offset="0.0643" stop-color="#ea0000"/><stop offset="0.1004" stop-color="#ff1300"/><stop offset="0.1932" stop-color="#ff6800"/><stop offset="0.2691" stop-color="#ffa500"/><stop offset="0.3289" stop-color="#ffd000"/><stop offset="0.3753" stop-color="#ffec00"/><stop offset="0.3907" stop-color="#f7f600"/><stop offset="0.4061" stop-color="#efff08"/><stop offset="0.4433" stop-color="#deff19"/><stop offset="0.4701" stop-color="#ceff29"/><stop offset="0.4971" stop-color="#bdff3a"/><stop offset="0.5391" stop-color="#adff4a"/><stop offset="0.5716" stop-color="#9cff5a"/><stop offset="0.5945" stop-color="#8cff6b"/><stop offset="0.6179" stop-color="#7bff7b"/><stop offset="0.6430" stop-color="#6bff8c"/><stop offset="0.6685" stop-color="#5aff9c"/><stop offset="0.6944" stop-color="#4affad"/><stop offset="0.7208" stop-color="#3affbd"/><stop offset="0.7445" stop-color="#29ffce"/><stop offset="0.7748" stop-color="#19ffde"/><stop offset="0.7838" stop-color="#15ffe2"/><stop offset="0.8107" stop-color="#08f0ef"/><stop offset="0.8398" stop-color="#00e5f7"/><stop offset="0.8688" stop-color="#00dbff"/><stop offset="0.9288" stop-color="#00c7ff"/><stop offset="0.9853" stop-color="#00b2ff"/><stop offset="1.0000" stop-color="#00adff"/></linearGradient>
<linearGradient id="a63" gradientUnits="userSpaceOnUse" x1="225.26" x2="329.00" y1="0" y2="0"><stop offset="0.0070" stop-color="#8c0000"/><stop offset="0.0376" stop-color="#d50000"/><stop offset="0.0733" stop-color="#ea0000"/><stop offset="0.1089" stop-color="#ff1300"/><stop offset="0.2005" stop-color="#ff6800"/><stop offset="0.2756" stop-color="#ffa500"/><stop offset="0.3353" stop-color="#ffd000"/><stop offset="0.3818" stop-color="#ffec00"/><stop offset="0.3973" stop-color="#f7f600"/><stop offset="0.4128" stop-color="#efff08"/><stop offset="0.4495" stop-color="#deff19"/><stop offset="0.4763" stop-color="#ceff29"/><stop offset="0.5031" stop-color="#bdff3a"/><stop offset="0.5449" stop-color="#adff4a"/><stop offset="0.5773" stop-color="#9cff5a"/><stop offset="0.6004" stop-color="#8cff6b"/><stop offset="0.6240" stop-color="#7bff7b"/><stop offset="0.6492" stop-color="#6bff8c"/><stop offset="0.6749" stop-color="#5aff9c"/><stop offset="0.7012" stop-color="#4affad"/><stop offset="0.7279" stop-color="#3affbd"/><stop offset="0.7519" stop-color="#29ffce"/><stop offset="0.7829" stop-color="#19ffde"/><stop offset="0.7921" stop-color="#15ffe2"/><stop offset="0.8196" stop-color="#08f0ef"/><stop offset="0.8493" stop-color="#00e5f7"/><stop offset="0.8791" stop-color="#00dbff"/><stop offset="0.9410" stop-color="#00c7ff"/><stop offset="1.0000" stop-color="#00b3ff"/></linearGradient>
<linearGradient id="a64" gradientUnits="userSpaceOnUse" x1="225.26" x2="329.00" y1="0" y2="0"><stop offset="0.0000" stop-color="#8c0000"/><stop offset="0.0303" stop-color="#d50000"/><stop offset="0.0665" stop-color="#ea0000"/><stop offset="0.1028" stop-color="#ff1300"/><stop offset="0.1945" stop-color="#ff6800"/><stop offset="0.2704" stop-color="#ffa500"/><stop offset="0.3311" stop-color="#ffd000"/><stop offset="0.3784" stop-color="#ffec00"/><stop offset="0.3942" stop-color="#f7f600"/><stop offset="0.4099" stop-color="#efff08"/><stop offset="0.4470" stop-color="#deff19"/><stop offset="0.4740" stop-color="#ceff29"/><stop offset="0.5013" stop-color="#bdff3a"/><stop offset="0.5435" stop-color="#adff4a"/><stop offset="0.5764" stop-color="#9cff5a"/><stop offset="0.6001" stop-color="#8cff6b"/><stop offset="0.6244" stop-color="#7bff7b"/><stop offset="0.6502" stop-color="#6bff8c"/><stop offset="0.6766" stop-color="#5aff9c"/><stop offset="0.7036" stop-color="#4affad"/><stop offset="0.7313" stop-color="#3affbd"/><stop offset="0.7561" stop-color="#29ffce"/><stop offset="0.7883" stop-color="#19ffde"/><stop offset="0.7978" stop-color="#15ffe2"/><stop offset="0.8264" stop-color="#08f0ef"/><stop offset="0.8576" stop-color="#00e5f7"/><stop offset="0.8888" stop-color="#00dbff"/><stop offset="0.9539" stop-color="#00c7ff"/><stop offset="1.0000" stop-color="#00b8ff"/></linearGradient>
<linearGradient id="a65" gradientUnits="userSpaceOnUse" x1="223.61" x2="329.00" y1="0" y2="0"><stop offset="0.0065" stop-color="#8c0000"/><stop offset="0.0374" stop-color="#d50000"/><stop offset="0.0736" stop-color="#ea0000"/><stop offset="0.1097" stop-color="#ff1300"/><stop offset="0.2002" stop-color="#ff6800"/><stop offset="0.2760" stop-color="#ffa500"/><stop offset="0.3372" stop-color="#ffd000"/><stop offset="0.3847" stop-color="#ffec00"/><stop offset="0.4006" stop-color="#f7f600"/><stop offset="0.4164" stop-color="#efff08"/><stop offset="0.4532" stop-color="#deff19"/><stop offset="0.4802" stop-color="#ceff29"/><stop offset="0.5074" stop-color="#bdff3a"/><stop offset="0.5495" stop-color="#adff4a"/><stop offset="0.5824" stop-color="#9cff5a"/><stop offset="0.6064" stop-color="#8cff6b"/><stop offset="0.6311" stop-color="#7bff7b"/><stop offset="0.6572" stop-color="#6bff8c"/><stop offset="0.6839" stop-color="#5aff9c"/><stop offset="0.7113" stop-color="#4affad"/><stop offset="0.7395" stop-color="#3affbd"/><stop offset="0.7647" stop-color="#29ffce"/><stop offset="0.7979" stop-color="#19ffde"/><stop offset="0.8077" stop-color="#15ffe2"/><stop offset="0.8371" stop-color="#08f0ef"/><stop offset="0.8693" stop-color="#00e5f7"/><stop offset="0.9016" stop-color="#00dbff"/><stop offset="0.9695" stop-color="#00c7ff"/><stop offset="1.0000" stop-color="#00beff"/></linearGradient>
<linearGradient id="a66" gradientUnits="userSpaceOnUse" x1="223.61" x2="329.00" y1="0" y2="0"><stop offset="0.0000" stop-color="#8c0000"/><stop offset="0.0293" stop-color="#d50000"/><stop offset="0.0655" stop-color="#ea0000"/><stop offset="0.1017" stop-color="#ff1300"/><stop offset="0.1923" stop-color="#ff6800"/><stop offset="0.2696" stop-color="#ffa500"/><stop offset="0.3327" stop-color="#ffd000"/><stop offset="0.3813" stop-color="#ffec00"/><stop offset="0.3975" stop-color="#f7f600"/><stop offset="0.4137" stop-color="#efff08"/><stop offset="0.4510" stop-color="#deff19"/><stop offset="0.4784" stop-color="#ceff29"/><stop offset="0.5060" stop-color="#bdff3a"/><stop offset="0.5486" stop-color="#adff4a"/><stop offset="0.5821" stop-color="#9cff5a"/><stop offset="0.6068" stop-color="#8cff6b"/><stop offset="0.6324" stop-color="#7bff7b"/><stop offset="0.6592" stop-color="#6bff8c"/><stop offset="0.6868" stop-color="#5aff9c"/><stop offset="0.7151" stop-color="#4affad"/><stop offset="0.7443" stop-color="#3affbd"/><stop offset="0.7705" stop-color="#29ffce"/><stop offset="0.8053" stop-color="#19ffde"/><stop offset="0.8156" stop-color="#15ffe2"/><stop offset="0.8464" stop-color="#08f0ef"/><stop offset="0.8805" stop-color="#00e5f7"/><stop offset="0.9146" stop-color="#00dbff"/><stop offset="0.9870" stop-color="#00c7ff"/><stop offset="1.0000" stop-color="#00c3ff"/></linearGradient>
<linearGradient id="a67" gradientUnits="userSpaceOnUse" x1="221.97" x2="329.00" y1="0" y2="0"><stop offset="0.0056" stop-color="#8c0000"/><stop offset="0.0359" stop-color="#d50000"/><stop offset="0.0713" stop-color="#ea0000"/><stop offset="0.1067" stop-color="#ff1300"/><stop offset="0.1962" stop-color="#ff6800"/><stop offset="0.2741" stop-color="#ffa500"/><stop offset="0.3383" stop-color="#ffd000"/><stop offset="0.3873" stop-color="#ffec00"/><stop offset="0.4036" stop-color="#f7f600"/><stop offset="0.4200" stop-color="#efff08"/><stop offset="0.4573" stop-color="#deff19"/><stop offset="0.4848" stop-color="#ceff29"/><stop offset="0.5125" stop-color="#bdff3a"/><stop offset="0.5550" stop-color="#adff4a"/><stop offset="0.5886" stop-color="#9cff5a"/><stop offset="0.6138" stop-color="#8cff6b"/><stop offset="0.6398" stop-color="#7bff7b"/><stop offset="0.6671" stop-color="#6bff8c"/><stop offset="0.6951" stop-color="#5aff9c"/><stop offset="0.7241" stop-color="#4affad"/><stop offset="0.7539" stop-color="#3affbd"/><stop offset="0.7808" stop-color="#29ffce"/><stop offset="0.8172" stop-color="#19ffde"/><stop offset="0.8277" stop-color="#15ffe2"/><stop offset="0.8594" stop-color="#08f0ef"/><stop offset="0.8951" stop-color="#00e5f7"/><stop offset="0.9308" stop-color="#00dbff"/><stop offset="1.0000" stop-color="#00c9ff"/></linearGradient>
<linearGradient id="a68" gradientUnits="userSpaceOnUse" x1="221.97" x2="329.00" y1="0" y2="0"><stop offset="0.0000" stop-color="#8c0000"/><stop offset="0.0269" stop-color="#d50000"/><stop offset="0.0620" stop-color="#ea0000"/><stop offset="0.0971" stop-color="#ff1300"/><stop offset="0.1868" stop-color="#ff6800"/><stop offset="0.2669" stop-color="#ffa500"/><stop offset="0.3336" stop-color="#ffd000"/><stop offset="0.3838" stop-color="#ffec00"/><stop offset="0.4005" stop-color="#f7f600"/><stop offset="0.4172" stop-color="#efff08"/><stop offset="0.4554" stop-color="#deff19"/><stop offset="0.4833" stop-color="#ceff29"/><stop offset="0.5117" stop-color="#bdff3a"/><stop offset="0.5548" stop-color="#adff4a"/><stop offset="0.5892" stop-color="#9cff5a"/><stop offset="0.6152" stop-color="#8cff6b"/><stop offset="0.6423" stop-color="#7bff7b"/><stop offset="0.6704" stop-color="#6bff8c"/><stop offset="0.6995" stop-color="#5aff9c"/><stop offset="0.7296" stop-color="#4affad"/><stop offset="0.7606" stop-color="#3affbd"/><stop offset="0.7887" stop-color="#29ffce"/><stop offset="0.8275" stop-color="#19ffde"/><stop offset="0.8385" stop-color="#15ffe2"/><stop offset="0.8717" stop-color="#08f0ef"/><stop offset="0.9101" stop-color="#00e5f7"/><stop offset="0.9484" stop-color="#00dbff"/><stop offset="1.0000" stop-color="#00ceff"/></linearGradient>
<linearGradient id="a69" gradientUnits="userSpaceOnUse" x1="220.32" x2="329.00" y1="0" y2="0"><stop offset="0.0028" stop-color="#8c0000"/><stop offset="0.0322" stop-color="#d50000"/><stop offset="0.0664" stop-color="#ea0000"/><stop offset="0.1006" stop-color="#ff1300"/><stop offset="0.1894" stop-color="#ff6800"/><stop offset="0.2705" stop-color="#ffa500"/><stop offset="0.3389" stop-color="#ffd000"/><stop offset="0.3896" stop-color="#ffec00"/><stop offset="0.4065" stop-color="#f7f600"/><stop offset="0.4234" stop-color="#efff08"/><stop offset="0.4619" stop-color="#deff19"/><stop offset="0.4901" stop-color="#ceff29"/><stop offset="0.5187" stop-color="#bdff3a"/><stop offset="0.5617" stop-color="#adff4a"/><stop offset="0.5964" stop-color="#9cff5a"/><stop offset="0.6230" stop-color="#8cff6b"/><stop offset="0.6508" stop-color="#7bff7b"/><stop offset="0.6795" stop-color="#6bff8c"/><stop offset="0.7093" stop-color="#5aff9c"/><stop offset="0.7402" stop-color="#4affad"/><stop offset="0.7721" stop-color="#3affbd"/><stop offset="0.8009" stop-color="#29ffce"/><stop offset="0.8420" stop-color="#19ffde"/><stop offset="0.8534" stop-color="#15ffe2"/><stop offset="0.8879" stop-color="#08f0ef"/><stop offset="0.9288" stop-color="#00e5f7"/><stop offset="0.9697" stop-color="#00dbff"/><stop offset="1.0000" stop-color="#00d4ff"/></linearGradient>
<linearGradient id="a70" gradientUnits="userSpaceOnUse" x1="220.32" x2="329.00" y1="0" y2="0"><stop offset="0.0000" stop-color="#8c0000"/><stop offset="0.0219" stop-color="#d50000"/><stop offset="0.0559" stop-color="#ea0000"/><stop offset="0.0898" stop-color="#ff1300"/><stop offset="0.1790" stop-color="#ff6800"/><stop offset="0.2627" stop-color="#ffa500"/><stop offset="0.3339" stop-color="#ffd000"/><stop offset="0.3861" stop-color="#ffec00"/><stop offset="0.4034" stop-color="#f7f600"/><stop offset="0.4208" stop-color="#efff08"/><stop offset="0.4606" stop-color="#deff19"/><stop offset="0.4894" stop-color="#ceff29"/><stop offset="0.5186" stop-color="#bdff3a"/><stop offset="0.5625" stop-color="#adff4a"/><stop offset="0.5981" stop-color="#9cff5a"/><stop offset="0.6258" stop-color="#8cff6b"/><stop offset="0.6548" stop-color="#7bff7b"/><stop offset="0.6847" stop-color="#6bff8c"/><stop offset="0.7157" stop-color="#5aff9c"/><stop offset="0.7480" stop-color="#4affad"/><stop offset="0.7813" stop-color="#3affbd"/><stop offset="0.8118" stop-color="#29ffce"/><stop offset="0.8559" stop-color="#19ffde"/><stop offset="0.8680" stop-color="#15ffe2"/><stop offset="0.9045" stop-color="#08f0ef"/><stop offset="0.9469" stop-color="#00e5f7"/><stop offset="0.9893" stop-color="#00dbff"/><stop offset="1.0000" stop-color="#00d9ff"/></linearGradient>
<linearGradient id="a71" gradientUnits="userSpaceOnUse" x1="218.67" x2="329.00" y1="0" y2="0"><stop offset="0.0000" stop-color="#8c0000"/><stop offset="0.0254" stop-color="#d50000"/><stop offset="0.0588" stop-color="#ea0000"/><stop offset="0.0922" stop-color="#ff1300"/><stop offset="0.1807" stop-color="#ff6800"/><stop offset="0.2658" stop-color="#ffa500"/><stop offset="0.3389" stop-color="#ffd000"/><stop offset="0.3918" stop-color="#ffec00"/><stop offset="0.4094" stop-color="#f7f600"/><stop offset="0.4270" stop-color="#efff08"/><stop offset="0.4677" stop-color="#deff19"/><stop offset="0.4968" stop-color="#ceff29"/><stop offset="0.5264" stop-color="#bdff3a"/><stop offset="0.5705" stop-color="#adff4a"/><stop offset="0.6065" stop-color="#9cff5a"/><stop offset="0.6349" stop-color="#8cff6b"/><stop offset="0.6649" stop-color="#7bff7b"/><stop offset="0.6955" stop-color="#6bff8c"/><stop offset="0.7274" stop-color="#5aff9c"/><stop offset="0.7608" stop-color="#4affad"/><stop offset="0.7952" stop-color="#3affbd"/><stop offset="0.8275" stop-color="#29ffce"/><stop offset="0.8741" stop-color="#19ffde"/><stop offset="0.8868" stop-color="#15ffe2"/><stop offset="0.9252" stop-color="#08f0ef"/><stop offset="0.9683" stop-color="#00e5f7"/><stop offset="1.0000" stop-color="#00defd"/></linearGradient>
<linearGradient id="a72" gradientUnits="userSpaceOnUse" x1="217.03" x2="329.00" y1="0" y2="0"><stop offset="0.0000" stop-color="#8c0000"/><stop offset="0.0268" stop-color="#d50000"/><stop offset="0.0605" stop-color="#ea0000"/><stop offset="0.0941" stop-color="#ff1300"/><stop offset="0.1820" stop-color="#ff6800"/><stop offset="0.2686" stop-color="#ffa500"/><stop offset="0.3437" stop-color="#ffd000"/><stop offset="0.3973" stop-color="#ffec00"/><stop offset="0.4152" stop-color="#f7f600"/><stop offset="0.4330" stop-color="#efff08"/><stop offset="0.4750" stop-color="#deff19"/><stop offset="0.5045" stop-color="#ceff29"/><stop offset="0.5346" stop-color="#bdff3a"/><stop offset="0.5789" stop-color="#adff4a"/><stop offset="0.6154" stop-color="#9cff5a"/><stop offset="0.6448" stop-color="#8cff6b"/><stop offset="0.6759" stop-color="#7bff7b"/><stop offset="0.7074" stop-color="#6bff8c"/><stop offset="0.7403" stop-color="#5aff9c"/><stop offset="0.7749" stop-color="#4affad"/><stop offset="0.8108" stop-color="#3affbd"/><stop offset="0.8451" stop-color="#29ffce"/><stop offset="0.8946" stop-color="#19ffde"/><stop offset="0.9082" stop-color="#15ffe2"/><stop offset="0.9488" stop-color="#08f0ef"/><stop offset="0.9926" stop-color="#00e5f7"/><stop offset="1.0000" stop-color="#00e4f8"/></linearGradient>
<linearGradient id="a73" gradientUnits="userSpaceOnUse" x1="215.38" x2="329.00" y1="0" y2="0"><stop offset="0.0000" stop-color="#8c0000"/><stop offset="0.0270" stop-color="#d50000"/><stop offset="0.0613" stop-color="#ea0000"/><stop offset="0.0956" stop-color="#ff1300"/><stop offset="0.1830" stop-color="#ff6800"/><stop offset="0.2712" stop-color="#ffa500"/><stop offset="0.3483" stop-color="#ffd000"/><stop offset="0.4027" stop-color="#ffec00"/><stop offset="0.4208" stop-color="#f7f600"/><stop offset="0.4389" stop-color="#efff08"/><stop offset="0.4826" stop-color="#deff19"/><stop offset="0.5125" stop-color="#ceff29"/><stop offset="0.5433" stop-color="#bdff3a"/><stop offset="0.5879" stop-color="#adff4a"/><stop offset="0.6251" stop-color="#9cff5a"/><stop offset="0.6554" stop-color="#8cff6b"/><stop offset="0.6878" stop-color="#7bff7b"/><stop offset="0.7203" stop-color="#6bff8c"/><stop offset="0.7545" stop-color="#5aff9c"/><stop offset="0.7905" stop-color="#4affad"/><stop offset="0.8290" stop-color="#3affbd"/><stop offset="0.8648" stop-color="#29ffce"/><stop offset="0.9181" stop-color="#19ffde"/><stop offset="0.9327" stop-color="#15ffe2"/><stop offset="0.9765" stop-color="#08f0ef"/><stop offset="1.0000" stop-color="#04eaf3"/></linearGradient>
<linearGradient id="a74" gradientUnits="userSpaceOnUse" x1="213.73" x2="329.00" y1="0" y2="0"><stop offset="0.0000" stop-color="#8c0000"/><stop offset="0.0275" stop-color="#d50000"/><stop offset="0.0621" stop-color="#ea0000"/><stop offset="0.0968" stop-color="#ff1300"/><stop offset="0.1839" stop-color="#ff6800"/><stop offset="0.2737" stop-color="#ffa500"/><stop offset="0.3527" stop-color="#ffd000"/><stop offset="0.4079" stop-color="#ffec00"/><stop offset="0.4263" stop-color="#f7f600"/><stop offset="0.4447" stop-color="#efff08"/><stop offset="0.4904" stop-color="#deff19"/><stop offset="0.5210" stop-color="#ceff29"/><stop offset="0.5525" stop-color="#bdff3a"/><stop offset="0.5976" stop-color="#adff4a"/><stop offset="0.6355" stop-color="#9cff5a"/><stop offset="0.6671" stop-color="#8cff6b"/><stop offset="0.7008" stop-color="#7bff7b"/><stop offset="0.7346" stop-color="#6bff8c"/><stop offset="0.7703" stop-color="#5aff9c"/><stop offset="0.8082" stop-color="#4affad"/><stop offset="0.8496" stop-color="#3affbd"/><stop offset="0.8873" stop-color="#29ffce"/><stop offset="0.9456" stop-color="#19ffde"/><stop offset="0.9609" stop-color="#15ffe2"/><stop offset="1.0000" stop-color="#0af2ed"/></linearGradient>
<linearGradient id="a75" gradientUnits="userSpaceOnUse" x1="212.09" x2="329.00" y1="0" y2="0"><stop offset="0.0000" stop-color="#8c0000"/><stop offset="0.0286" stop-color="#d50000"/><stop offset="0.0631" stop-color="#ea0000"/><stop offset="0.0976" stop-color="#ff1300"/><stop offset="0.1848" stop-color="#ff6800"/><stop offset="0.2761" stop-color="#ffa500"/><stop offset="0.3569" stop-color="#ffd000"/><stop offset="0.4130" stop-color="#ffec00"/><stop offset="0.4316" stop-color="#f7f600"/><stop offset="0.4503" stop-color="#efff08"/><stop offset="0.4987" stop-color="#deff19"/><stop offset="0.5301" stop-color="#ceff29"/><stop offset="0.5624" stop-color="#bdff3a"/><stop offset="0.6082" stop-color="#adff4a"/><stop offset="0.6470" stop-color="#9cff5a"/><stop offset="0.6799" stop-color="#8cff6b"/><stop offset="0.7153" stop-color="#7bff7b"/><stop offset="0.7506" stop-color="#6bff8c"/><stop offset="0.7880" stop-color="#5aff9c"/><stop offset="0.8295" stop-color="#4affad"/><stop offset="0.8734" stop-color="#3affbd"/><stop offset="0.9134" stop-color="#29ffce"/><stop offset="0.9786" stop-color="#19ffde"/><stop offset="0.9910" stop-color="#15ffe2"/><stop offset="1.0000" stop-color="#12fbe5"/></linearGradient>
<linearGradient id="a76" gradientUnits="userSpaceOnUse" x1="210.44" x2="329.00" y1="0" y2="0"><stop offset="0.0000" stop-color="#8c0000"/><stop offset="0.0293" stop-color="#d50000"/><stop offset="0.0638" stop-color="#ea0000"/><stop offset="0.0984" stop-color="#ff1300"/><stop offset="0.1856" stop-color="#ff6800"/><stop offset="0.2784" stop-color="#ffa500"/><stop offset="0.3611" stop-color="#ffd000"/><stop offset="0.4180" stop-color="#ffec00"/><stop offset="0.4369" stop-color="#f7f600"/><stop offset="0.4559" stop-color="#efff08"/><stop offset="0.5075" stop-color="#deff19"/><stop offset="0.5399" stop-color="#ceff29"/><stop offset="0.5732" stop-color="#bdff3a"/><stop offset="0.6198" stop-color="#adff4a"/><stop offset="0.6597" stop-color="#9cff5a"/><stop offset="0.6942" stop-color="#8cff6b"/><stop offset="0.7315" stop-color="#7bff7b"/><stop offset="0.7687" stop-color="#6bff8c"/><stop offset="0.8089" stop-color="#5aff9c"/><stop offset="0.8548" stop-color="#4affad"/><stop offset="0.9013" stop-color="#3affbd"/><stop offset="0.9445" stop-color="#29ffce"/><stop offset="1.0000" stop-color="#1bffdc"/></linearGradient>
<linearGradient id="a77" gradientUnits="userSpaceOnUse" x1="208.79" x2="329.00" y1="0" y2="0"><stop offset="0.0000" stop-color="#8c0000"/><stop offset="0.0285" stop-color="#d50000"/><stop offset="0.0637" stop-color="#ea0000"/><stop offset="0.0990" stop-color="#ff1300"/><stop offset="0.1866" stop-color="#ff6800"/><stop offset="0.2809" stop-color="#ffa500"/><stop offset="0.3651" stop-color="#ffd000"/><stop offset="0.4229" stop-color="#ffec00"/><stop offset="0.4421" stop-color="#f7f600"/><stop offset="0.4614" stop-color="#efff08"/><stop offset="0.5170" stop-color="#deff19"/><stop offset="0.5505" stop-color="#ceff29"/><stop offset="0.5852" stop-color="#bdff3a"/><stop offset="0.6327" stop-color="#adff4a"/><stop offset="0.6740" stop-color="#9cff5a"/><stop offset="0.7104" stop-color="#8cff6b"/><stop offset="0.7500" stop-color="#7bff7b"/><stop offset="0.7894" stop-color="#6bff8c"/><stop offset="0.8347" stop-color="#5aff9c"/><stop offset="0.8850" stop-color="#4affad"/><stop offset="0.9353" stop-color="#3affbd"/><stop offset="0.9833" stop-color="#29ffce"/><stop offset="1.0000" stop-color="#25ffd2"/></linearGradient>
<linearGradient id="a78" gradientUnits="userSpaceOnUse" x1="207.15" x2="329.00" y1="0" y2="0"><stop offset="0.0000" stop-color="#8c0000"/><stop offset="0.0258" stop-color="#d50000"/><stop offset="0.0627" stop-color="#ea0000"/><stop offset="0.0996" stop-color="#ff1300"/><stop offset="0.1878" stop-color="#ff6800"/><stop offset="0.2834" stop-color="#ffa500"/><stop offset="0.3690" stop-color="#ffd000"/><stop offset="0.4278" stop-color="#ffec00"/><stop offset="0.4473" stop-color="#f7f600"/><stop offset="0.4669" stop-color="#efff08"/><stop offset="0.5273" stop-color="#deff19"/><stop offset="0.5623" stop-color="#ceff29"/><stop offset="0.5985" stop-color="#bdff3a"/><stop offset="0.6472" stop-color="#adff4a"/><stop offset="0.6902" stop-color="#9cff5a"/><stop offset="0.7290" stop-color="#8cff6b"/><stop offset="0.7714" stop-color="#7bff7b"/><stop offset="0.8149" stop-color="#6bff8c"/><stop offset="0.8670" stop-color="#5aff9c"/><stop offset="0.9224" stop-color="#4affad"/><stop offset="0.9786" stop-color="#3affbd"/><stop offset="1.0000" stop-color="#31ffc6"/></linearGradient>
<linearGradient id="a79" gradientUnits="userSpaceOnUse" x1="203.85" x2="329.00" y1="0" y2="0"><stop offset="0.0028" stop-color="#8c0000"/><stop offset="0.0355" stop-color="#d50000"/><stop offset="0.0737" stop-color="#ea0000"/><stop offset="0.1119" stop-color="#ff1300"/><stop offset="0.1998" stop-color="#ff6800"/><stop offset="0.2953" stop-color="#ffa500"/><stop offset="0.3811" stop-color="#ffd000"/><stop offset="0.4400" stop-color="#ffec00"/><stop offset="0.4597" stop-color="#f7f600"/><stop offset="0.4793" stop-color="#efff08"/><stop offset="0.5448" stop-color="#deff19"/><stop offset="0.5809" stop-color="#ceff29"/><stop offset="0.6186" stop-color="#bdff3a"/><stop offset="0.6682" stop-color="#adff4a"/><stop offset="0.7127" stop-color="#9cff5a"/><stop offset="0.7539" stop-color="#8cff6b"/><stop offset="0.8000" stop-color="#7bff7b"/><stop offset="0.8511" stop-color="#6bff8c"/><stop offset="0.9089" stop-color="#5aff9c"/><stop offset="0.9722" stop-color="#4affad"/><stop offset="1.0000" stop-color="#41ffb6"/></linearGradient>
<linearGradient id="a80" gradientUnits="userSpaceOnUse" x1="202.21" x2="329.00" y1="0" y2="0"><stop offset="0.0000" stop-color="#8c0000"/><stop offset="0.0327" stop-color="#d50000"/><stop offset="0.0722" stop-color="#ea0000"/><stop offset="0.1116" stop-color="#ff1300"/><stop offset="0.2008" stop-color="#ff6800"/><stop offset="0.2975" stop-color="#ffa500"/><stop offset="0.3847" stop-color="#ffd000"/><stop offset="0.4446" stop-color="#ffec00"/><stop offset="0.4645" stop-color="#f7f600"/><stop offset="0.4845" stop-color="#efff08"/><stop offset="0.5570" stop-color="#deff19"/><stop offset="0.5954" stop-color="#ceff29"/><stop offset="0.6355" stop-color="#bdff3a"/><stop offset="0.6871" stop-color="#adff4a"/><stop offset="0.7343" stop-color="#9cff5a"/><stop offset="0.7793" stop-color="#8cff6b"/><stop offset="0.8340" stop-color="#7bff7b"/><stop offset="0.8951" stop-color="#6bff8c"/><stop offset="0.9637" stop-color="#5aff9c"/><stop offset="1.0000" stop-color="#52ffa5"/></linearGradient>
<linearGradient id="a81" gradientUnits="userSpaceOnUse" x1="200.56" x2="329.00" y1="0" y2="0"><stop offset="0.0000" stop-color="#8c0000"/><stop offset="0.0299" stop-color="#d50000"/><stop offset="0.0704" stop-color="#ea0000"/><stop offset="0.1109" stop-color="#ff1300"/><stop offset="0.2016" stop-color="#ff6800"/><stop offset="0.2997" stop-color="#ffa500"/><stop offset="0.3880" stop-color="#ffd000"/><stop offset="0.4490" stop-color="#ffec00"/><stop offset="0.4693" stop-color="#f7f600"/><stop offset="0.4896" stop-color="#efff08"/><stop offset="0.5707" stop-color="#deff19"/><stop offset="0.6119" stop-color="#ceff29"/><stop offset="0.6552" stop-color="#bdff3a"/><stop offset="0.7096" stop-color="#adff4a"/><stop offset="0.7605" stop-color="#9cff5a"/><stop offset="0.8138" stop-color="#8cff6b"/><stop offset="0.8826" stop-color="#7bff7b"/><stop offset="0.9576" stop-color="#6bff8c"/><stop offset="1.0000" stop-color="#63ff94"/></linearGradient>
<linearGradient id="a82" gradientUnits="userSpaceOnUse" x1="197.27" x2="329.00" y1="0" y2="0"><stop offset="0.0048" stop-color="#8c0000"/><stop offset="0.0396" stop-color="#d50000"/><stop offset="0.0802" stop-color="#ea0000"/><stop offset="0.1208" stop-color="#ff1300"/><stop offset="0.2123" stop-color="#ff6800"/><stop offset="0.3104" stop-color="#ffa500"/><stop offset="0.3989" stop-color="#ffd000"/><stop offset="0.4601" stop-color="#ffec00"/><stop offset="0.4805" stop-color="#f7f600"/><stop offset="0.5009" stop-color="#efff08"/><stop offset="0.5915" stop-color="#deff19"/><stop offset="0.6357" stop-color="#ceff29"/><stop offset="0.6829" stop-color="#bdff3a"/><stop offset="0.7406" stop-color="#adff4a"/><stop offset="0.7979" stop-color="#9cff5a"/><stop offset="0.8674" stop-color="#8cff6b"/><stop offset="0.9574" stop-color="#7bff7b"/><stop offset="1.0000" stop-color="#74ff83"/></linearGradient>
<linearGradient id="a83" gradientUnits="userSpaceOnUse" x1="195.62" x2="329.00" y1="0" y2="0"><stop offset="0.0013" stop-color="#8c0000"/><stop offset="0.0366" stop-color="#d50000"/><stop offset="0.0778" stop-color="#ea0000"/><stop offset="0.1190" stop-color="#ff1300"/><stop offset="0.2126" stop-color="#ff6800"/><stop offset="0.3122" stop-color="#ffa500"/><stop offset="0.4019" stop-color="#ffd000"/><stop offset="0.4642" stop-color="#ffec00"/><stop offset="0.4849" stop-color="#f7f600"/><stop offset="0.5057" stop-color="#efff08"/><stop offset="0.6093" stop-color="#deff19"/><stop offset="0.6585" stop-color="#ceff29"/><stop offset="0.7120" stop-color="#bdff3a"/><stop offset="0.7759" stop-color="#adff4a"/><stop offset="0.8528" stop-color="#9cff5a"/><stop offset="0.9551" stop-color="#8cff6b"/><stop offset="1.0000" stop-color="#86ff71"/></linearGradient>
<linearGradient id="a84" gradientUnits="userSpaceOnUse" x1="193.97" x2="329.00" y1="0" y2="0"><stop offset="0.0000" stop-color="#8c0000"/><stop offset="0.0329" stop-color="#d50000"/><stop offset="0.0749" stop-color="#ea0000"/><stop offset="0.1169" stop-color="#ff1300"/><stop offset="0.2129" stop-color="#ff6800"/><stop offset="0.3138" stop-color="#ffa500"/><stop offset="0.4048" stop-color="#ffd000"/><stop offset="0.4682" stop-color="#ffec00"/><stop offset="0.4893" stop-color="#f7f600"/><stop offset="0.5104" stop-color="#efff08"/><stop offset="0.6305" stop-color="#deff19"/><stop offset="0.6870" stop-color="#ceff29"/><stop offset="0.7503" stop-color="#bdff3a"/><stop offset="0.8380" stop-color="#adff4a"/><stop offset="0.9604" stop-color="#9cff5a"/><stop offset="1.0000" stop-color="#98ff5f"/></linearGradient>
<linearGradient id="a85" gradientUnits="userSpaceOnUse" x1="190.68" x2="329.00" y1="0" y2="0"><stop offset="0.0058" stop-color="#8c0000"/><stop offset="0.0415" stop-color="#d50000"/><stop offset="0.0833" stop-color="#ea0000"/><stop offset="0.1250" stop-color="#ff1300"/><stop offset="0.2224" stop-color="#ff6800"/><stop offset="0.3236" stop-color="#ffa500"/><stop offset="0.4147" stop-color="#ffd000"/><stop offset="0.4784" stop-color="#ffec00"/><stop offset="0.4996" stop-color="#f7f600"/><stop offset="0.5208" stop-color="#efff08"/><stop offset="0.6609" stop-color="#deff19"/><stop offset="0.7278" stop-color="#ceff29"/><stop offset="0.8230" stop-color="#bdff3a"/><stop offset="1.0000" stop-color="#adff4a"/></linearGradient>
<linearGradient id="a86" gradientUnits="userSpaceOnUse" x1="190.68" x2="329.00" y1="0" y2="0"><stop offset="0.0000" stop-color="#8c0000"/><stop offset="0.0294" stop-color="#d50000"/><stop offset="0.0706" stop-color="#ea0000"/><stop offset="0.1117" stop-color="#ff1300"/><stop offset="0.2130" stop-color="#ff6800"/><stop offset="0.3169" stop-color="#ffa500"/><stop offset="0.4103" stop-color="#ffd000"/><stop offset="0.4759" stop-color="#ffec00"/><stop offset="0.4978" stop-color="#f7f600"/><stop offset="0.5197" stop-color="#efff08"/><stop offset="0.6912" stop-color="#deff19"/><stop offset="0.7907" stop-color="#ceff29"/><stop offset="1.0000" stop-color="#c0ff36"/></linearGradient>
<linearGradient id="a87" gradientUnits="userSpaceOnUse" x1="189.03" x2="329.00" y1="0" y2="0"><stop offset="0.0000" stop-color="#8c0000"/><stop offset="0.0321" stop-color="#d50000"/><stop offset="0.0704" stop-color="#ea0000"/><stop offset="0.1087" stop-color="#ff1300"/><stop offset="0.2129" stop-color="#ff6800"/><stop offset="0.3183" stop-color="#ffa500"/><stop offset="0.4129" stop-color="#ffd000"/><stop offset="0.4797" stop-color="#ffec00"/><stop offset="0.5019" stop-color="#f7f600"/><stop offset="0.5242" stop-color="#efff08"/><stop offset="0.7429" stop-color="#deff19"/><stop offset="1.0000" stop-color="#cfff27"/></linearGradient>
<linearGradient id="a88" gradientUnits="userSpaceOnUse" x1="187.39" x2="329.00" y1="0" y2="0"><stop offset="0.0054" stop-color="#8c0000"/><stop offset="0.0354" stop-color="#d50000"/><stop offset="0.0705" stop-color="#ea0000"/><stop offset="0.1055" stop-color="#ff1300"/><stop offset="0.2127" stop-color="#ff6800"/><stop offset="0.3196" stop-color="#ffa500"/><stop offset="0.4154" stop-color="#ffd000"/><stop offset="0.4834" stop-color="#ffec00"/><stop offset="0.5060" stop-color="#f7f600"/><stop offset="0.5287" stop-color="#efff08"/><stop offset="1.0000" stop-color="#dcff1b"/></linearGradient>
<linearGradient id="a89" gradientUnits="userSpaceOnUse" x1="187.39" x2="329.00" y1="0" y2="0"><stop offset="0.0000" stop-color="#8c0000"/><stop offset="0.0275" stop-color="#d50000"/><stop offset="0.0596" stop-color="#ea0000"/><stop offset="0.0917" stop-color="#ff1300"/><stop offset="0.2033" stop-color="#ff6800"/><stop offset="0.3129" stop-color="#ffa500"/><stop offset="0.4110" stop-color="#ffd000"/><stop offset="0.4810" stop-color="#ffec00"/><stop offset="0.5044" stop-color="#f7f600"/><stop offset="0.5277" stop-color="#efff08"/><stop offset="1.0000" stop-color="#e7ff10"/></linearGradient>
<linearGradient id="a90" gradientUnits="userSpaceOnUse" x1="187.39" x2="329.00" y1="0" y2="0"><stop offset="0.0000" stop-color="#8c0000"/><stop offset="0.0203" stop-color="#d50000"/><stop offset="0.0494" stop-color="#ea0000"/><stop offset="0.0785" stop-color="#ff1300"/><stop offset="0.1943" stop-color="#ff6800"/><stop offset="0.3066" stop-color="#ffa500"/><stop offset="0.4068" stop-color="#ffd000"/><stop offset="0.4845" stop-color="#ffec00"/><stop offset="0.5104" stop-color="#f7f600"/><stop offset="0.5269" stop-color="#f2fc05"/><stop offset="1.0000" stop-color="#f2fc05"/></linearGradient>
<linearGradient id="b0" gradientUnits="userSpaceOnUse" x1="169.27" x2="329.00" y1="0" y2="0"><stop offset="0.0023" stop-color="#8c0000"/><stop offset="0.0162" stop-color="#d50000"/><stop offset="0.0325" stop-color="#ea0000"/><stop offset="0.0487" stop-color="#ff1300"/><stop offset="0.1300" stop-color="#ff6800"/><stop offset="0.2203" stop-color="#ffa500"/><stop offset="0.3014" stop-color="#ffd000"/><stop offset="0.3876" stop-color="#ffec00"/><stop offset="0.4163" stop-color="#f7f600"/><stop offset="0.4408" stop-color="#f0fe07"/><stop offset="1.0000" stop-color="#f0fe07"/></linearGradient>
<linearGradient id="b1" gradientUnits="userSpaceOnUse" x1="170.92" x2="329.00" y1="0" y2="0"><stop offset="0.0000" stop-color="#8c0000"/><stop offset="0.0123" stop-color="#d50000"/><stop offset="0.0310" stop-color="#ea0000"/><stop offset="0.0497" stop-color="#ff1300"/><stop offset="0.1375" stop-color="#ff6800"/><stop offset="0.2296" stop-color="#ffa500"/><stop offset="0.3121" stop-color="#ffd000"/><stop offset="0.3981" stop-color="#ffec00"/><stop offset="0.4268" stop-color="#f7f600"/><stop offset="0.4555" stop-color="#efff08"/><stop offset="1.0000" stop-color="#e9ff0e"/></linearGradient>
<linearGradient id="b2" gradientUnits="userSpaceOnUse" x1="170.92" x2="329.00" y1="0" y2="0"><stop offset="0.0037" stop-color="#8c0000"/><stop offset="0.0219" stop-color="#d50000"/><stop offset="0.0430" stop-color="#ea0000"/><stop offset="0.0642" stop-color="#ff1300"/><stop offset="0.1580" stop-color="#ff6800"/><stop offset="0.2507" stop-color="#ffa500"/><stop offset="0.3337" stop-color="#ffd000"/><stop offset="0.4201" stop-color="#ffec00"/><stop offset="0.4490" stop-color="#f7f600"/><stop offset="0.4778" stop-color="#efff08"/><stop offset="1.0000" stop-color="#d8ff1f"/></linearGradient>
<linearGradient id="b3" gradientUnits="userSpaceOnUse" x1="172.57" x2="329.00" y1="0" y2="0"><stop offset="0.0025" stop-color="#8c0000"/><stop offset="0.0227" stop-color="#d50000"/><stop offset="0.0463" stop-color="#ea0000"/><stop offset="0.0699" stop-color="#ff1300"/><stop offset="0.1697" stop-color="#ff6800"/><stop offset="0.2633" stop-color="#ffa500"/><stop offset="0.3472" stop-color="#ffd000"/><stop offset="0.4335" stop-color="#ffec00"/><stop offset="0.4623" stop-color="#f7f600"/><stop offset="0.4910" stop-color="#efff08"/><stop offset="0.7802" stop-color="#ceff29"/><stop offset="0.9537" stop-color="#bdff3a"/><stop offset="1.0000" stop-color="#b9ff3e"/></linearGradient>
<linearGradient id="b4" gradientUnits="userSpaceOnUse" x1="174.21" x2="329.00" y1="0" y2="0"><stop offset="0.0025" stop-color="#8c0000"/><stop offset="0.0248" stop-color="#d50000"/><stop offset="0.0508" stop-color="#ea0000"/><stop offset="0.0768" stop-color="#ff1300"/><stop offset="0.1815" stop-color="#ff6800"/><stop offset="0.2752" stop-color="#ffa500"/><stop offset="0.3592" stop-color="#ffd000"/><stop offset="0.4452" stop-color="#ffec00"/><stop offset="0.4739" stop-color="#f7f600"/><stop offset="0.5026" stop-color="#efff08"/><stop offset="0.7148" stop-color="#ceff29"/><stop offset="0.7690" stop-color="#bdff3a"/><stop offset="0.8889" stop-color="#adff4a"/><stop offset="1.0000" stop-color="#a1ff56"/></linearGradient>
<linearGradient id="b5" gradientUnits="userSpaceOnUse" x1="175.86" x2="329.00" y1="0" y2="0"><stop offset="0.0046" stop-color="#8c0000"/><stop offset="0.0289" stop-color="#d50000"/><stop offset="0.0572" stop-color="#ea0000"/><stop offset="0.0855" stop-color="#ff1300"/><stop offset="0.1939" stop-color="#ff6800"/><stop offset="0.2866" stop-color="#ffa500"/><stop offset="0.3701" stop-color="#ffd000"/><stop offset="0.4560" stop-color="#ffec00"/><stop offset="0.4846" stop-color="#f7f600"/><stop offset="0.5132" stop-color="#efff08"/><stop offset="0.6901" stop-color="#ceff29"/><stop offset="0.7338" stop-color="#bdff3a"/><stop offset="0.7910" stop-color="#adff4a"/><stop offset="0.8810" stop-color="#9cff5a"/><stop offset="1.0000" stop-color="#8bff6c"/></linearGradient>
<linearGradient id="b6" gradientUnits="userSpaceOnUse" x1="179.15" x2="329.00" y1="0" y2="0"><stop offset="0.0000" stop-color="#8c0000"/><stop offset="0.0247" stop-color="#d50000"/><stop offset="0.0553" stop-color="#ea0000"/><stop offset="0.0860" stop-color="#ff1300"/><stop offset="0.1982" stop-color="#ff6800"/><stop offset="0.2902" stop-color="#ffa500"/><stop offset="0.3740" stop-color="#ffd000"/><stop offset="0.4588" stop-color="#ffec00"/><stop offset="0.4871" stop-color="#f7f600"/><stop offset="0.5154" stop-color="#efff08"/><stop offset="0.6689" stop-color="#ceff29"/><stop offset="0.7071" stop-color="#bdff3a"/><stop offset="0.7525" stop-color="#adff4a"/><stop offset="0.8060" stop-color="#9cff5a"/><stop offset="0.8771" stop-color="#8cff6b"/><stop offset="0.9618" stop-color="#7bff7b"/><stop offset="1.0000" stop-color="#73ff83"/></linearGradient>
<linearGradient id="b7" gradientUnits="userSpaceOnUse" x1="180.80" x2="329.00" y1="0" y2="0"><stop offset="0.0052" stop-color="#8c0000"/><stop offset="0.0329" stop-color="#d50000"/><stop offset="0.0653" stop-color="#ea0000"/><stop offset="0.0976" stop-color="#ff1300"/><stop offset="0.2115" stop-color="#ff6800"/><stop offset="0.3013" stop-color="#ffa500"/><stop offset="0.3840" stop-color="#ffd000"/><stop offset="0.4663" stop-color="#ffec00"/><stop offset="0.4938" stop-color="#f7f600"/><stop offset="0.5213" stop-color="#efff08"/><stop offset="0.6554" stop-color="#ceff29"/><stop offset="0.6897" stop-color="#bdff3a"/><stop offset="0.7299" stop-color="#adff4a"/><stop offset="0.7739" stop-color="#9cff5a"/><stop offset="0.8230" stop-color="#8cff6b"/><stop offset="0.8863" stop-color="#7bff7b"/><stop offset="0.9528" stop-color="#6bff8c"/><stop offset="1.0000" stop-color="#5eff99"/></linearGradient>
<linearGradient id="b8" gradientUnits="userSpaceOnUse" x1="184.09" x2="329.00" y1="0" y2="0"><stop offset="0.0035" stop-color="#8c0000"/><stop offset="0.0324" stop-color="#d50000"/><stop offset="0.0661" stop-color="#ea0000"/><stop offset="0.0998" stop-color="#ff1300"/><stop offset="0.2157" stop-color="#ff6800"/><stop offset="0.3039" stop-color="#ffa500"/><stop offset="0.3861" stop-color="#ffd000"/><stop offset="0.4668" stop-color="#ffec00"/><stop offset="0.4937" stop-color="#f7f600"/><stop offset="0.5206" stop-color="#efff08"/><stop offset="0.6407" stop-color="#ceff29"/><stop offset="0.6724" stop-color="#bdff3a"/><stop offset="0.7092" stop-color="#adff4a"/><stop offset="0.7491" stop-color="#9cff5a"/><stop offset="0.7916" stop-color="#8cff6b"/><stop offset="0.8393" stop-color="#7bff7b"/><stop offset="0.8903" stop-color="#6bff8c"/><stop offset="0.9433" stop-color="#5aff9c"/><stop offset="1.0000" stop-color="#4cffab"/></linearGradient>
<linearGradient id="b9" gradientUnits="userSpaceOnUse" x1="187.39" x2="329.00" y1="0" y2="0"><stop offset="0.0037" stop-color="#8c0000"/><stop offset="0.0331" stop-color="#d50000"/><stop offset="0.0674" stop-color="#ea0000"/><stop offset="0.1017" stop-color="#ff1300"/><stop offset="0.2187" stop-color="#ff6800"/><stop offset="0.3053" stop-color="#ffa500"/><stop offset="0.3866" stop-color="#ffd000"/><stop offset="0.4658" stop-color="#ffec00"/><stop offset="0.4923" stop-color="#f7f600"/><stop offset="0.5187" stop-color="#efff08"/><stop offset="0.6273" stop-color="#ceff29"/><stop offset="0.6570" stop-color="#bdff3a"/><stop offset="0.6912" stop-color="#adff4a"/><stop offset="0.7280" stop-color="#9cff5a"/><stop offset="0.7671" stop-color="#8cff6b"/><stop offset="0.8089" stop-color="#7bff7b"/><stop offset="0.8504" stop-color="#6bff8c"/><stop offset="0.8957" stop-color="#5aff9c"/><stop offset="0.9581" stop-color="#4affad"/><stop offset="1.0000" stop-color="#3cffbb"/></linearGradient>
<linearGradient id="b10" gradientUnits="userSpaceOnUse" x1="192.33" x2="329.00" y1="0" y2="0"><stop offset="0.0000" stop-color="#8c0000"/><stop offset="0.0238" stop-color="#d50000"/><stop offset="0.0578" stop-color="#ea0000"/><stop offset="0.0919" stop-color="#ff1300"/><stop offset="0.2106" stop-color="#ff6800"/><stop offset="0.2970" stop-color="#ffa500"/><stop offset="0.3776" stop-color="#ffd000"/><stop offset="0.4568" stop-color="#ffec00"/><stop offset="0.4831" stop-color="#f7f600"/><stop offset="0.5095" stop-color="#efff08"/><stop offset="0.6098" stop-color="#ceff29"/><stop offset="0.6383" stop-color="#bdff3a"/><stop offset="0.6709" stop-color="#adff4a"/><stop offset="0.7058" stop-color="#9cff5a"/><stop offset="0.7427" stop-color="#8cff6b"/><stop offset="0.7821" stop-color="#7bff7b"/><stop offset="0.8187" stop-color="#6bff8c"/><stop offset="0.8587" stop-color="#5aff9c"/><stop offset="0.9127" stop-color="#4affad"/><stop offset="0.9702" stop-color="#3affbd"/><stop offset="1.0000" stop-color="#2fffc8"/></linearGradient>
<linearGradient id="b11" gradientUnits="userSpaceOnUse" x1="195.62" x2="329.00" y1="0" y2="0"><stop offset="0.0000" stop-color="#8c0000"/><stop offset="0.0258" stop-color="#d50000"/><stop offset="0.0592" stop-color="#ea0000"/><stop offset="0.0926" stop-color="#ff1300"/><stop offset="0.2104" stop-color="#ff6800"/><stop offset="0.2958" stop-color="#ffa500"/><stop offset="0.3742" stop-color="#ffd000"/><stop offset="0.4527" stop-color="#ffec00"/><stop offset="0.4789" stop-color="#f7f600"/><stop offset="0.5050" stop-color="#efff08"/><stop offset="0.5973" stop-color="#ceff29"/><stop offset="0.6245" stop-color="#bdff3a"/><stop offset="0.6554" stop-color="#adff4a"/><stop offset="0.6884" stop-color="#9cff5a"/><stop offset="0.7233" stop-color="#8cff6b"/><stop offset="0.7604" stop-color="#7bff7b"/><stop offset="0.7948" stop-color="#6bff8c"/><stop offset="0.8302" stop-color="#5aff9c"/><stop offset="0.8781" stop-color="#4affad"/><stop offset="0.9283" stop-color="#3affbd"/><stop offset="0.9792" stop-color="#29ffce"/><stop offset="1.0000" stop-color="#25ffd2"/></linearGradient>
<linearGradient id="b12" gradientUnits="userSpaceOnUse" x1="198.91" x2="329.00" y1="0" y2="0"><stop offset="0.0000" stop-color="#8c0000"/><stop offset="0.0275" stop-color="#d50000"/><stop offset="0.0609" stop-color="#ea0000"/><stop offset="0.0943" stop-color="#ff1300"/><stop offset="0.2099" stop-color="#ff6800"/><stop offset="0.2943" stop-color="#ffa500"/><stop offset="0.3698" stop-color="#ffd000"/><stop offset="0.4480" stop-color="#ffec00"/><stop offset="0.4740" stop-color="#f7f600"/><stop offset="0.5000" stop-color="#efff08"/><stop offset="0.5854" stop-color="#ceff29"/><stop offset="0.6116" stop-color="#bdff3a"/><stop offset="0.6411" stop-color="#adff4a"/><stop offset="0.6725" stop-color="#9cff5a"/><stop offset="0.7056" stop-color="#8cff6b"/><stop offset="0.7409" stop-color="#7bff7b"/><stop offset="0.7735" stop-color="#6bff8c"/><stop offset="0.8071" stop-color="#5aff9c"/><stop offset="0.8495" stop-color="#4affad"/><stop offset="0.8954" stop-color="#3affbd"/><stop offset="0.9404" stop-color="#29ffce"/><stop offset="1.0000" stop-color="#1dffda"/></linearGradient>
<linearGradient id="b13" gradientUnits="userSpaceOnUse" x1="202.21" x2="329.00" y1="0" y2="0"><stop offset="0.0007" stop-color="#8c0000"/><stop offset="0.0294" stop-color="#d50000"/><stop offset="0.0628" stop-color="#ea0000"/><stop offset="0.0963" stop-color="#ff1300"/><stop offset="0.2088" stop-color="#ff6800"/><stop offset="0.2921" stop-color="#ffa500"/><stop offset="0.3644" stop-color="#ffd000"/><stop offset="0.4424" stop-color="#ffec00"/><stop offset="0.4684" stop-color="#f7f600"/><stop offset="0.4944" stop-color="#efff08"/><stop offset="0.5739" stop-color="#ceff29"/><stop offset="0.5991" stop-color="#bdff3a"/><stop offset="0.6274" stop-color="#adff4a"/><stop offset="0.6574" stop-color="#9cff5a"/><stop offset="0.6891" stop-color="#8cff6b"/><stop offset="0.7228" stop-color="#7bff7b"/><stop offset="0.7540" stop-color="#6bff8c"/><stop offset="0.7862" stop-color="#5aff9c"/><stop offset="0.8254" stop-color="#4affad"/><stop offset="0.8675" stop-color="#3affbd"/><stop offset="0.9090" stop-color="#29ffce"/><stop offset="1.0000" stop-color="#16ffe1"/></linearGradient>
<linearGradient id="b14" gradientUnits="userSpaceOnUse" x1="205.50" x2="329.00" y1="0" y2="0"><stop offset="0.0039" stop-color="#8c0000"/><stop offset="0.0320" stop-color="#d50000"/><stop offset="0.0649" stop-color="#ea0000"/><stop offset="0.0977" stop-color="#ff1300"/><stop offset="0.2066" stop-color="#ff6800"/><stop offset="0.2889" stop-color="#ffa500"/><stop offset="0.3578" stop-color="#ffd000"/><stop offset="0.4358" stop-color="#ffec00"/><stop offset="0.4618" stop-color="#f7f600"/><stop offset="0.4878" stop-color="#efff08"/><stop offset="0.5623" stop-color="#ceff29"/><stop offset="0.5867" stop-color="#bdff3a"/><stop offset="0.6139" stop-color="#adff4a"/><stop offset="0.6428" stop-color="#9cff5a"/><stop offset="0.6732" stop-color="#8cff6b"/><stop offset="0.7056" stop-color="#7bff7b"/><stop offset="0.7357" stop-color="#6bff8c"/><stop offset="0.7667" stop-color="#5aff9c"/><stop offset="0.8038" stop-color="#4affad"/><stop offset="0.8430" stop-color="#3affbd"/><stop offset="0.8819" stop-color="#29ffce"/><stop offset="0.9618" stop-color="#19ffde"/><stop offset="0.9805" stop-color="#15ffe2"/><stop offset="1.0000" stop-color="#10fae7"/></linearGradient>
<linearGradient id="b15" gradientUnits="userSpaceOnUse" x1="208.79" x2="329.00" y1="0" y2="0"><stop offset="0.0068" stop-color="#8c0000"/><stop offset="0.0341" stop-color="#d50000"/><stop offset="0.0658" stop-color="#ea0000"/><stop offset="0.0976" stop-color="#ff1300"/><stop offset="0.2027" stop-color="#ff6800"/><stop offset="0.2841" stop-color="#ffa500"/><stop offset="0.3499" stop-color="#ffd000"/><stop offset="0.4279" stop-color="#ffec00"/><stop offset="0.4540" stop-color="#f7f600"/><stop offset="0.4800" stop-color="#efff08"/><stop offset="0.5503" stop-color="#ceff29"/><stop offset="0.5740" stop-color="#bdff3a"/><stop offset="0.6004" stop-color="#adff4a"/><stop offset="0.6283" stop-color="#9cff5a"/><stop offset="0.6576" stop-color="#8cff6b"/><stop offset="0.6888" stop-color="#7bff7b"/><stop offset="0.7181" stop-color="#6bff8c"/><stop offset="0.7482" stop-color="#5aff9c"/><stop offset="0.7837" stop-color="#4affad"/><stop offset="0.8208" stop-color="#3affbd"/><stop offset="0.8576" stop-color="#29ffce"/><stop offset="0.9283" stop-color="#19ffde"/><stop offset="0.9499" stop-color="#15ffe2"/><stop offset="1.0000" stop-color="#0bf3ec"/></linearGradient>
<linearGradient id="b16" gradientUnits="userSpaceOnUse" x1="213.73" x2="329.00" y1="0" y2="0"><stop offset="0.0000" stop-color="#8c0000"/><stop offset="0.0198" stop-color="#d50000"/><stop offset="0.0508" stop-color="#ea0000"/><stop offset="0.0819" stop-color="#ff1300"/><stop offset="0.1852" stop-color="#ff6800"/><stop offset="0.2671" stop-color="#ffa500"/><stop offset="0.3311" stop-color="#ffd000"/><stop offset="0.4103" stop-color="#ffec00"/><stop offset="0.4367" stop-color="#f7f600"/><stop offset="0.4631" stop-color="#efff08"/><stop offset="0.5308" stop-color="#ceff29"/><stop offset="0.5544" stop-color="#bdff3a"/><stop offset="0.5804" stop-color="#adff4a"/><stop offset="0.6079" stop-color="#9cff5a"/><stop offset="0.6368" stop-color="#8cff6b"/><stop offset="0.6675" stop-color="#7bff7b"/><stop offset="0.6964" stop-color="#6bff8c"/><stop offset="0.7262" stop-color="#5aff9c"/><stop offset="0.7609" stop-color="#4affad"/><stop offset="0.7972" stop-color="#3affbd"/><stop offset="0.8328" stop-color="#29ffce"/><stop offset="0.8977" stop-color="#19ffde"/><stop offset="0.9206" stop-color="#15ffe2"/><stop offset="1.0000" stop-color="#06edf1"/></linearGradient>
<linearGradient id="b17" gradientUnits="userSpaceOnUse" x1="215.38" x2="329.00" y1="0" y2="0"><stop offset="0.0056" stop-color="#8c0000"/><stop offset="0.0304" stop-color="#d50000"/><stop offset="0.0594" stop-color="#ea0000"/><stop offset="0.0884" stop-color="#ff1300"/><stop offset="0.1877" stop-color="#ff6800"/><stop offset="0.2682" stop-color="#ffa500"/><stop offset="0.3295" stop-color="#ffd000"/><stop offset="0.4075" stop-color="#ffec00"/><stop offset="0.4335" stop-color="#f7f600"/><stop offset="0.4596" stop-color="#efff08"/><stop offset="0.5235" stop-color="#ceff29"/><stop offset="0.5463" stop-color="#bdff3a"/><stop offset="0.5715" stop-color="#adff4a"/><stop offset="0.5980" stop-color="#9cff5a"/><stop offset="0.6258" stop-color="#8cff6b"/><stop offset="0.6553" stop-color="#7bff7b"/><stop offset="0.6833" stop-color="#6bff8c"/><stop offset="0.7121" stop-color="#5aff9c"/><stop offset="0.7453" stop-color="#4affad"/><stop offset="0.7800" stop-color="#3affbd"/><stop offset="0.8140" stop-color="#29ffce"/><stop offset="0.8729" stop-color="#19ffde"/><stop offset="0.8914" stop-color="#15ffe2"/><stop offset="0.9471" stop-color="#08f0ef"/><stop offset="1.0000" stop-color="#02e8f5"/></linearGradient>
<linearGradient id="b18" gradientUnits="userSpaceOnUse" x1="218.67" x2="329.00" y1="0" y2="0"><stop offset="0.0000" stop-color="#8c0000"/><stop offset="0.0200" stop-color="#d50000"/><stop offset="0.0486" stop-color="#ea0000"/><stop offset="0.0771" stop-color="#ff1300"/><stop offset="0.1753" stop-color="#ff6800"/><stop offset="0.2560" stop-color="#ffa500"/><stop offset="0.3167" stop-color="#ffd000"/><stop offset="0.3945" stop-color="#ffec00"/><stop offset="0.4204" stop-color="#f7f600"/><stop offset="0.4464" stop-color="#efff08"/><stop offset="0.5080" stop-color="#ceff29"/><stop offset="0.5306" stop-color="#bdff3a"/><stop offset="0.5555" stop-color="#adff4a"/><stop offset="0.5816" stop-color="#9cff5a"/><stop offset="0.6090" stop-color="#8cff6b"/><stop offset="0.6380" stop-color="#7bff7b"/><stop offset="0.6656" stop-color="#6bff8c"/><stop offset="0.6940" stop-color="#5aff9c"/><stop offset="0.7264" stop-color="#4affad"/><stop offset="0.7603" stop-color="#3affbd"/><stop offset="0.7936" stop-color="#29ffce"/><stop offset="0.8485" stop-color="#19ffde"/><stop offset="0.8653" stop-color="#15ffe2"/><stop offset="0.9159" stop-color="#08f0ef"/><stop offset="0.9850" stop-color="#00e5f7"/><stop offset="1.0000" stop-color="#00e3f9"/></linearGradient>
<linearGradient id="b19" gradientUnits="userSpaceOnUse" x1="220.32" x2="329.00" y1="0" y2="0"><stop offset="0.0000" stop-color="#8c0000"/><stop offset="0.0198" stop-color="#d50000"/><stop offset="0.0487" stop-color="#ea0000"/><stop offset="0.0775" stop-color="#ff1300"/><stop offset="0.1734" stop-color="#ff6800"/><stop offset="0.2533" stop-color="#ffa500"/><stop offset="0.3131" stop-color="#ffd000"/><stop offset="0.3895" stop-color="#ffec00"/><stop offset="0.4149" stop-color="#f7f600"/><stop offset="0.4404" stop-color="#efff08"/><stop offset="0.4993" stop-color="#ceff29"/><stop offset="0.5215" stop-color="#bdff3a"/><stop offset="0.5458" stop-color="#adff4a"/><stop offset="0.5713" stop-color="#9cff5a"/><stop offset="0.5979" stop-color="#8cff6b"/><stop offset="0.6260" stop-color="#7bff7b"/><stop offset="0.6530" stop-color="#6bff8c"/><stop offset="0.6807" stop-color="#5aff9c"/><stop offset="0.7120" stop-color="#4affad"/><stop offset="0.7448" stop-color="#3affbd"/><stop offset="0.7770" stop-color="#29ffce"/><stop offset="0.8280" stop-color="#19ffde"/><stop offset="0.8433" stop-color="#15ffe2"/><stop offset="0.8893" stop-color="#08f0ef"/><stop offset="0.9568" stop-color="#00e5f7"/><stop offset="1.0000" stop-color="#00dffc"/></linearGradient>
<linearGradient id="b20" gradientUnits="userSpaceOnUse" x1="220.32" x2="329.00" y1="0" y2="0"><stop offset="0.0074" stop-color="#8c0000"/><stop offset="0.0324" stop-color="#d50000"/><stop offset="0.0615" stop-color="#ea0000"/><stop offset="0.0907" stop-color="#ff1300"/><stop offset="0.1829" stop-color="#ff6800"/><stop offset="0.2611" stop-color="#ffa500"/><stop offset="0.3193" stop-color="#ffd000"/><stop offset="0.3932" stop-color="#ffec00"/><stop offset="0.4178" stop-color="#f7f600"/><stop offset="0.4424" stop-color="#efff08"/><stop offset="0.4983" stop-color="#ceff29"/><stop offset="0.5197" stop-color="#bdff3a"/><stop offset="0.5432" stop-color="#adff4a"/><stop offset="0.5678" stop-color="#9cff5a"/><stop offset="0.5934" stop-color="#8cff6b"/><stop offset="0.6203" stop-color="#7bff7b"/><stop offset="0.6463" stop-color="#6bff8c"/><stop offset="0.6731" stop-color="#5aff9c"/><stop offset="0.7030" stop-color="#4affad"/><stop offset="0.7342" stop-color="#3affbd"/><stop offset="0.7650" stop-color="#29ffce"/><stop offset="0.8120" stop-color="#19ffde"/><stop offset="0.8260" stop-color="#15ffe2"/><stop offset="0.8677" stop-color="#08f0ef"/><stop offset="0.9323" stop-color="#00e5f7"/><stop offset="0.9969" stop-color="#00dbff"/><stop offset="1.0000" stop-color="#00dbff"/></linearGradient>
<linearGradient id="b21" gradientUnits="userSpaceOnUse" x1="221.97" x2="329.00" y1="0" y2="0"><stop offset="0.0034" stop-color="#8c0000"/><stop offset="0.0290" stop-color="#d50000"/><stop offset="0.0590" stop-color="#ea0000"/><stop offset="0.0889" stop-color="#ff1300"/><stop offset="0.1792" stop-color="#ff6800"/><stop offset="0.2569" stop-color="#ffa500"/><stop offset="0.3147" stop-color="#ffd000"/><stop offset="0.3872" stop-color="#ffec00"/><stop offset="0.4114" stop-color="#f7f600"/><stop offset="0.4356" stop-color="#efff08"/><stop offset="0.4897" stop-color="#ceff29"/><stop offset="0.5109" stop-color="#bdff3a"/><stop offset="0.5340" stop-color="#adff4a"/><stop offset="0.5580" stop-color="#9cff5a"/><stop offset="0.5831" stop-color="#8cff6b"/><stop offset="0.6094" stop-color="#7bff7b"/><stop offset="0.6349" stop-color="#6bff8c"/><stop offset="0.6611" stop-color="#5aff9c"/><stop offset="0.6902" stop-color="#4affad"/><stop offset="0.7206" stop-color="#3affbd"/><stop offset="0.7506" stop-color="#29ffce"/><stop offset="0.7948" stop-color="#19ffde"/><stop offset="0.8078" stop-color="#15ffe2"/><stop offset="0.8465" stop-color="#08f0ef"/><stop offset="0.9076" stop-color="#00e5f7"/><stop offset="0.9687" stop-color="#00dbff"/><stop offset="1.0000" stop-color="#00d7ff"/></linearGradient>
<linearGradient id="b22" gradientUnits="userSpaceOnUse" x1="223.61" x2="329.00" y1="0" y2="0"><stop offset="0.0000" stop-color="#8c0000"/><stop offset="0.0253" stop-color="#d50000"/><stop offset="0.0555" stop-color="#ea0000"/><stop offset="0.0858" stop-color="#ff1300"/><stop offset="0.1744" stop-color="#ff6800"/><stop offset="0.2519" stop-color="#ffa500"/><stop offset="0.3093" stop-color="#ffd000"/><stop offset="0.3808" stop-color="#ffec00"/><stop offset="0.4046" stop-color="#f7f600"/><stop offset="0.4284" stop-color="#efff08"/><stop offset="0.4810" stop-color="#ceff29"/><stop offset="0.5019" stop-color="#bdff3a"/><stop offset="0.5247" stop-color="#adff4a"/><stop offset="0.5484" stop-color="#9cff5a"/><stop offset="0.5730" stop-color="#8cff6b"/><stop offset="0.5988" stop-color="#7bff7b"/><stop offset="0.6238" stop-color="#6bff8c"/><stop offset="0.6496" stop-color="#5aff9c"/><stop offset="0.6779" stop-color="#4affad"/><stop offset="0.7075" stop-color="#3affbd"/><stop offset="0.7369" stop-color="#29ffce"/><stop offset="0.7787" stop-color="#19ffde"/><stop offset="0.7908" stop-color="#15ffe2"/><stop offset="0.8271" stop-color="#08f0ef"/><stop offset="0.8837" stop-color="#00e5f7"/><stop offset="0.9403" stop-color="#00dbff"/><stop offset="1.0000" stop-color="#00d2ff"/></linearGradient>
<linearGradient id="b23" gradientUnits="userSpaceOnUse" x1="225.26" x2="329.00" y1="0" y2="0"><stop offset="0.0000" stop-color="#8c0000"/><stop offset="0.0207" stop-color="#d50000"/><stop offset="0.0510" stop-color="#ea0000"/><stop offset="0.0813" stop-color="#ff1300"/><stop offset="0.1688" stop-color="#ff6800"/><stop offset="0.2460" stop-color="#ffa500"/><stop offset="0.3032" stop-color="#ffd000"/><stop offset="0.3737" stop-color="#ffec00"/><stop offset="0.3972" stop-color="#f7f600"/><stop offset="0.4208" stop-color="#efff08"/><stop offset="0.4722" stop-color="#ceff29"/><stop offset="0.4930" stop-color="#bdff3a"/><stop offset="0.5155" stop-color="#adff4a"/><stop offset="0.5389" stop-color="#9cff5a"/><stop offset="0.5630" stop-color="#8cff6b"/><stop offset="0.5883" stop-color="#7bff7b"/><stop offset="0.6131" stop-color="#6bff8c"/><stop offset="0.6385" stop-color="#5aff9c"/><stop offset="0.6661" stop-color="#4affad"/><stop offset="0.6950" stop-color="#3affbd"/><stop offset="0.7238" stop-color="#29ffce"/><stop offset="0.7635" stop-color="#19ffde"/><stop offset="0.7749" stop-color="#15ffe2"/><stop offset="0.8091" stop-color="#08f0ef"/><stop offset="0.8622" stop-color="#00e5f7"/><stop offset="0.9153" stop-color="#00dbff"/><stop offset="1.0000" stop-color="#00ceff"/></linearGradient>
<linearGradient id="b24" gradientUnits="userSpaceOnUse" x1="225.26" x2="329.00" y1="0" y2="0"><stop offset="0.0050" stop-color="#8c0000"/><stop offset="0.0306" stop-color="#d50000"/><stop offset="0.0604" stop-color="#ea0000"/><stop offset="0.0902" stop-color="#ff1300"/><stop offset="0.1756" stop-color="#ff6800"/><stop offset="0.2514" stop-color="#ffa500"/><stop offset="0.3075" stop-color="#ffd000"/><stop offset="0.3763" stop-color="#ffec00"/><stop offset="0.3992" stop-color="#f7f600"/><stop offset="0.4221" stop-color="#efff08"/><stop offset="0.4719" stop-color="#ceff29"/><stop offset="0.4922" stop-color="#bdff3a"/><stop offset="0.5142" stop-color="#adff4a"/><stop offset="0.5369" stop-color="#9cff5a"/><stop offset="0.5604" stop-color="#8cff6b"/><stop offset="0.5848" stop-color="#7bff7b"/><stop offset="0.6089" stop-color="#6bff8c"/><stop offset="0.6335" stop-color="#5aff9c"/><stop offset="0.6602" stop-color="#4affad"/><stop offset="0.6880" stop-color="#3affbd"/><stop offset="0.7158" stop-color="#29ffce"/><stop offset="0.7531" stop-color="#19ffde"/><stop offset="0.7637" stop-color="#15ffe2"/><stop offset="0.7955" stop-color="#08f0ef"/><stop offset="0.8451" stop-color="#00e5f7"/><stop offset="0.8946" stop-color="#00dbff"/><stop offset="1.0000" stop-color="#00c9ff"/></linearGradient>
<linearGradient id="b25" gradientUnits="userSpaceOnUse" x1="226.91" x2="329.00" y1="0" y2="0"><stop offset="0.0000" stop-color="#8c0000"/><stop offset="0.0235" stop-color="#d50000"/><stop offset="0.0534" stop-color="#ea0000"/><stop offset="0.0832" stop-color="#ff1300"/><stop offset="0.1686" stop-color="#ff6800"/><stop offset="0.2442" stop-color="#ffa500"/><stop offset="0.3002" stop-color="#ffd000"/><stop offset="0.3685" stop-color="#ffec00"/><stop offset="0.3913" stop-color="#f7f600"/><stop offset="0.4141" stop-color="#efff08"/><stop offset="0.4632" stop-color="#ceff29"/><stop offset="0.4835" stop-color="#bdff3a"/><stop offset="0.5054" stop-color="#adff4a"/><stop offset="0.5278" stop-color="#9cff5a"/><stop offset="0.5510" stop-color="#8cff6b"/><stop offset="0.5751" stop-color="#7bff7b"/><stop offset="0.5989" stop-color="#6bff8c"/><stop offset="0.6233" stop-color="#5aff9c"/><stop offset="0.6494" stop-color="#4affad"/><stop offset="0.6767" stop-color="#3affbd"/><stop offset="0.7040" stop-color="#29ffce"/><stop offset="0.7397" stop-color="#19ffde"/><stop offset="0.7498" stop-color="#15ffe2"/><stop offset="0.7800" stop-color="#08f0ef"/><stop offset="0.8273" stop-color="#00e5f7"/><stop offset="0.8746" stop-color="#00dbff"/><stop offset="1.0000" stop-color="#00c5ff"/></linearGradient>
<linearGradient id="b26" gradientUnits="userSpaceOnUse" x1="226.91" x2="329.00" y1="0" y2="0"><stop offset="0.0051" stop-color="#8c0000"/><stop offset="0.0306" stop-color="#d50000"/><stop offset="0.0603" stop-color="#ea0000"/><stop offset="0.0901" stop-color="#ff1300"/><stop offset="0.1746" stop-color="#ff6800"/><stop offset="0.2487" stop-color="#ffa500"/><stop offset="0.3036" stop-color="#ffd000"/><stop offset="0.3707" stop-color="#ffec00"/><stop offset="0.3931" stop-color="#f7f600"/><stop offset="0.4154" stop-color="#efff08"/><stop offset="0.4634" stop-color="#ceff29"/><stop offset="0.4833" stop-color="#bdff3a"/><stop offset="0.5047" stop-color="#adff4a"/><stop offset="0.5266" stop-color="#9cff5a"/><stop offset="0.5492" stop-color="#8cff6b"/><stop offset="0.5726" stop-color="#7bff7b"/><stop offset="0.5958" stop-color="#6bff8c"/><stop offset="0.6195" stop-color="#5aff9c"/><stop offset="0.6448" stop-color="#4affad"/><stop offset="0.6711" stop-color="#3affbd"/><stop offset="0.6976" stop-color="#29ffce"/><stop offset="0.7313" stop-color="#19ffde"/><stop offset="0.7407" stop-color="#15ffe2"/><stop offset="0.7690" stop-color="#08f0ef"/><stop offset="0.8138" stop-color="#00e5f7"/><stop offset="0.8585" stop-color="#00dbff"/><stop offset="0.9620" stop-color="#00c7ff"/><stop offset="1.0000" stop-color="#00c1ff"/></linearGradient>
<linearGradient id="b27" gradientUnits="userSpaceOnUse" x1="228.55" x2="329.00" y1="0" y2="0"><stop offset="0.0000" stop-color="#8c0000"/><stop offset="0.0210" stop-color="#d50000"/><stop offset="0.0514" stop-color="#ea0000"/><stop offset="0.0818" stop-color="#ff1300"/><stop offset="0.1670" stop-color="#ff6800"/><stop offset="0.2407" stop-color="#ffa500"/><stop offset="0.2955" stop-color="#ffd000"/><stop offset="0.3626" stop-color="#ffec00"/><stop offset="0.3849" stop-color="#f7f600"/><stop offset="0.4073" stop-color="#efff08"/><stop offset="0.4550" stop-color="#ceff29"/><stop offset="0.4749" stop-color="#bdff3a"/><stop offset="0.4962" stop-color="#adff4a"/><stop offset="0.5180" stop-color="#9cff5a"/><stop offset="0.5403" stop-color="#8cff6b"/><stop offset="0.5635" stop-color="#7bff7b"/><stop offset="0.5865" stop-color="#6bff8c"/><stop offset="0.6100" stop-color="#5aff9c"/><stop offset="0.6349" stop-color="#4affad"/><stop offset="0.6608" stop-color="#3affbd"/><stop offset="0.6869" stop-color="#29ffce"/><stop offset="0.7193" stop-color="#19ffde"/><stop offset="0.7283" stop-color="#15ffe2"/><stop offset="0.7554" stop-color="#08f0ef"/><stop offset="0.7986" stop-color="#00e5f7"/><stop offset="0.8418" stop-color="#00dbff"/><stop offset="0.9399" stop-color="#00c7ff"/><stop offset="1.0000" stop-color="#00bcff"/></linearGradient>
<linearGradient id="b28" gradientUnits="userSpaceOnUse" x1="228.55" x2="329.00" y1="0" y2="0"><stop offset="0.0006" stop-color="#8c0000"/><stop offset="0.0268" stop-color="#d50000"/><stop offset="0.0574" stop-color="#ea0000"/><stop offset="0.0880" stop-color="#ff1300"/><stop offset="0.1727" stop-color="#ff6800"/><stop offset="0.2448" stop-color="#ffa500"/><stop offset="0.2986" stop-color="#ffd000"/><stop offset="0.3647" stop-color="#ffec00"/><stop offset="0.3867" stop-color="#f7f600"/><stop offset="0.4087" stop-color="#efff08"/><stop offset="0.4555" stop-color="#ceff29"/><stop offset="0.4751" stop-color="#bdff3a"/><stop offset="0.4960" stop-color="#adff4a"/><stop offset="0.5174" stop-color="#9cff5a"/><stop offset="0.5392" stop-color="#8cff6b"/><stop offset="0.5617" stop-color="#7bff7b"/><stop offset="0.5842" stop-color="#6bff8c"/><stop offset="0.6072" stop-color="#5aff9c"/><stop offset="0.6314" stop-color="#4affad"/><stop offset="0.6564" stop-color="#3affbd"/><stop offset="0.6818" stop-color="#29ffce"/><stop offset="0.7126" stop-color="#19ffde"/><stop offset="0.7211" stop-color="#15ffe2"/><stop offset="0.7466" stop-color="#08f0ef"/><stop offset="0.7878" stop-color="#00e5f7"/><stop offset="0.8291" stop-color="#00dbff"/><stop offset="0.9213" stop-color="#00c7ff"/><stop offset="1.0000" stop-color="#00b8ff"/></linearGradient>
<linearGradient id="b29" gradientUnits="userSpaceOnUse" x1="228.55" x2="329.00" y1="0" y2="0"><stop offset="0.0062" stop-color="#8c0000"/><stop offset="0.0324" stop-color="#d50000"/><stop offset="0.0630" stop-color="#ea0000"/><stop offset="0.0937" stop-color="#ff1300"/><stop offset="0.1780" stop-color="#ff6800"/><stop offset="0.2486" stop-color="#ffa500"/><stop offset="0.3014" stop-color="#ffd000"/><stop offset="0.3666" stop-color="#ffec00"/><stop offset="0.3883" stop-color="#f7f600"/><stop offset="0.4100" stop-color="#efff08"/><stop offset="0.4561" stop-color="#ceff29"/><stop offset="0.4754" stop-color="#bdff3a"/><stop offset="0.4960" stop-color="#adff4a"/><stop offset="0.5169" stop-color="#9cff5a"/><stop offset="0.5383" stop-color="#8cff6b"/><stop offset="0.5603" stop-color="#7bff7b"/><stop offset="0.5823" stop-color="#6bff8c"/><stop offset="0.6047" stop-color="#5aff9c"/><stop offset="0.6283" stop-color="#4affad"/><stop offset="0.6526" stop-color="#3affbd"/><stop offset="0.6772" stop-color="#29ffce"/><stop offset="0.7066" stop-color="#19ffde"/><stop offset="0.7146" stop-color="#15ffe2"/><stop offset="0.7387" stop-color="#08f0ef"/><stop offset="0.7783" stop-color="#00e5f7"/><stop offset="0.8179" stop-color="#00dbff"/><stop offset="0.9050" stop-color="#00c7ff"/><stop offset="1.0000" stop-color="#00b3ff"/></linearGradient>
<linearGradient id="b30" gradientUnits="userSpaceOnUse" x1="230.20" x2="329.00" y1="0" y2="0"><stop offset="0.0000" stop-color="#8c0000"/><stop offset="0.0217" stop-color="#d50000"/><stop offset="0.0526" stop-color="#ea0000"/><stop offset="0.0835" stop-color="#ff1300"/><stop offset="0.1690" stop-color="#ff6800"/><stop offset="0.2394" stop-color="#ffa500"/><stop offset="0.2922" stop-color="#ffd000"/><stop offset="0.3577" stop-color="#ffec00"/><stop offset="0.3795" stop-color="#f7f600"/><stop offset="0.4013" stop-color="#efff08"/><stop offset="0.4476" stop-color="#ceff29"/><stop offset="0.4670" stop-color="#bdff3a"/><stop offset="0.4876" stop-color="#adff4a"/><stop offset="0.5086" stop-color="#9cff5a"/><stop offset="0.5299" stop-color="#8cff6b"/><stop offset="0.5517" stop-color="#7bff7b"/><stop offset="0.5737" stop-color="#6bff8c"/><stop offset="0.5960" stop-color="#5aff9c"/><stop offset="0.6193" stop-color="#4affad"/><stop offset="0.6433" stop-color="#3affbd"/><stop offset="0.6678" stop-color="#29ffce"/><stop offset="0.6963" stop-color="#19ffde"/><stop offset="0.7040" stop-color="#15ffe2"/><stop offset="0.7273" stop-color="#08f0ef"/><stop offset="0.7660" stop-color="#00e5f7"/><stop offset="0.8047" stop-color="#00dbff"/><stop offset="0.8889" stop-color="#00c7ff"/><stop offset="0.9780" stop-color="#00b2ff"/><stop offset="1.0000" stop-color="#00aeff"/></linearGradient>
<linearGradient id="b31" gradientUnits="userSpaceOnUse" x1="230.20" x2="329.00" y1="0" y2="0"><stop offset="0.0004" stop-color="#8c0000"/><stop offset="0.0265" stop-color="#d50000"/><stop offset="0.0571" stop-color="#ea0000"/><stop offset="0.0876" stop-color="#ff1300"/><stop offset="0.1729" stop-color="#ff6800"/><stop offset="0.2423" stop-color="#ffa500"/><stop offset="0.2943" stop-color="#ffd000"/><stop offset="0.3590" stop-color="#ffec00"/><stop offset="0.3806" stop-color="#f7f600"/><stop offset="0.4022" stop-color="#efff08"/><stop offset="0.4480" stop-color="#ceff29"/><stop offset="0.4672" stop-color="#bdff3a"/><stop offset="0.4876" stop-color="#adff4a"/><stop offset="0.5082" stop-color="#9cff5a"/><stop offset="0.5292" stop-color="#8cff6b"/><stop offset="0.5506" stop-color="#7bff7b"/><stop offset="0.5722" stop-color="#6bff8c"/><stop offset="0.5942" stop-color="#5aff9c"/><stop offset="0.6169" stop-color="#4affad"/><stop offset="0.6403" stop-color="#3affbd"/><stop offset="0.6642" stop-color="#29ffce"/><stop offset="0.6915" stop-color="#19ffde"/><stop offset="0.6989" stop-color="#15ffe2"/><stop offset="0.7210" stop-color="#08f0ef"/><stop offset="0.7584" stop-color="#00e5f7"/><stop offset="0.7957" stop-color="#00dbff"/><stop offset="0.8761" stop-color="#00c7ff"/><stop offset="0.9590" stop-color="#00b2ff"/><stop offset="1.0000" stop-color="#00a9ff"/></linearGradient>
<linearGradient id="b32" gradientUnits="userSpaceOnUse" x1="230.20" x2="329.00" y1="0" y2="0"><stop offset="0.0047" stop-color="#8c0000"/><stop offset="0.0305" stop-color="#d50000"/><stop offset="0.0606" stop-color="#ea0000"/><stop offset="0.0907" stop-color="#ff1300"/><stop offset="0.1758" stop-color="#ff6800"/><stop offset="0.2447" stop-color="#ffa500"/><stop offset="0.2958" stop-color="#ffd000"/><stop offset="0.3600" stop-color="#ffec00"/><stop offset="0.3813" stop-color="#f7f600"/><stop offset="0.4027" stop-color="#efff08"/><stop offset="0.4482" stop-color="#ceff29"/><stop offset="0.4672" stop-color="#bdff3a"/><stop offset="0.4874" stop-color="#adff4a"/><stop offset="0.5078" stop-color="#9cff5a"/><stop offset="0.5285" stop-color="#8cff6b"/><stop offset="0.5496" stop-color="#7bff7b"/><stop offset="0.5709" stop-color="#6bff8c"/><stop offset="0.5925" stop-color="#5aff9c"/><stop offset="0.6147" stop-color="#4affad"/><stop offset="0.6376" stop-color="#3affbd"/><stop offset="0.6610" stop-color="#29ffce"/><stop offset="0.6872" stop-color="#19ffde"/><stop offset="0.6943" stop-color="#15ffe2"/><stop offset="0.7154" stop-color="#08f0ef"/><stop offset="0.7516" stop-color="#00e5f7"/><stop offset="0.7877" stop-color="#00dbff"/><stop offset="0.8649" stop-color="#00c7ff"/><stop offset="0.9426" stop-color="#00b2ff"/><stop offset="1.0000" stop-color="#00a3ff"/></linearGradient>
<linearGradient id="b33" gradientUnits="userSpaceOnUse" x1="230.20" x2="329.00" y1="0" y2="0"><stop offset="0.0080" stop-color="#8c0000"/><stop offset="0.0334" stop-color="#d50000"/><stop offset="0.0630" stop-color="#ea0000"/><stop offset="0.0926" stop-color="#ff1300"/><stop offset="0.1776" stop-color="#ff6800"/><stop offset="0.2465" stop-color="#ffa500"/><stop offset="0.2968" stop-color="#ffd000"/><stop offset="0.3604" stop-color="#ffec00"/><stop offset="0.3816" stop-color="#f7f600"/><stop offset="0.4028" stop-color="#efff08"/><stop offset="0.4480" stop-color="#ceff29"/><stop offset="0.4670" stop-color="#bdff3a"/><stop offset="0.4871" stop-color="#adff4a"/><stop offset="0.5073" stop-color="#9cff5a"/><stop offset="0.5278" stop-color="#8cff6b"/><stop offset="0.5486" stop-color="#7bff7b"/><stop offset="0.5696" stop-color="#6bff8c"/><stop offset="0.5909" stop-color="#5aff9c"/><stop offset="0.6128" stop-color="#4affad"/><stop offset="0.6352" stop-color="#3affbd"/><stop offset="0.6581" stop-color="#29ffce"/><stop offset="0.6835" stop-color="#19ffde"/><stop offset="0.6902" stop-color="#15ffe2"/><stop offset="0.7104" stop-color="#08f0ef"/><stop offset="0.7456" stop-color="#00e5f7"/><stop offset="0.7807" stop-color="#00dbff"/><stop offset="0.8550" stop-color="#00c7ff"/><stop offset="0.9283" stop-color="#00b2ff"/><stop offset="1.0000" stop-color="#009dff"/></linearGradient>
<linearGradient id="b34" gradientUnits="userSpaceOnUse" x1="231.85" x2="329.00" y1="0" y2="0"><stop offset="0.0000" stop-color="#8c0000"/><stop offset="0.0195" stop-color="#d50000"/><stop offset="0.0492" stop-color="#ea0000"/><stop offset="0.0789" stop-color="#ff1300"/><stop offset="0.1651" stop-color="#ff6800"/><stop offset="0.2353" stop-color="#ffa500"/><stop offset="0.2857" stop-color="#ffd000"/><stop offset="0.3499" stop-color="#ffec00"/><stop offset="0.3713" stop-color="#f7f600"/><stop offset="0.3927" stop-color="#efff08"/><stop offset="0.4385" stop-color="#ceff29"/><stop offset="0.4577" stop-color="#bdff3a"/><stop offset="0.4780" stop-color="#adff4a"/><stop offset="0.4985" stop-color="#9cff5a"/><stop offset="0.5191" stop-color="#8cff6b"/><stop offset="0.5400" stop-color="#7bff7b"/><stop offset="0.5612" stop-color="#6bff8c"/><stop offset="0.5826" stop-color="#5aff9c"/><stop offset="0.6045" stop-color="#4affad"/><stop offset="0.6269" stop-color="#3affbd"/><stop offset="0.6498" stop-color="#29ffce"/><stop offset="0.6748" stop-color="#19ffde"/><stop offset="0.6813" stop-color="#15ffe2"/><stop offset="0.7011" stop-color="#08f0ef"/><stop offset="0.7359" stop-color="#00e5f7"/><stop offset="0.7706" stop-color="#00dbff"/><stop offset="0.8437" stop-color="#00c7ff"/><stop offset="0.9143" stop-color="#00b2ff"/><stop offset="0.9791" stop-color="#009eff"/><stop offset="1.0000" stop-color="#0097ff"/></linearGradient>
<linearGradient id="b35" gradientUnits="userSpaceOnUse" x1="231.85" x2="329.00" y1="0" y2="0"><stop offset="0.0000" stop-color="#8c0000"/><stop offset="0.0218" stop-color="#d50000"/><stop offset="0.0511" stop-color="#ea0000"/><stop offset="0.0804" stop-color="#ff1300"/><stop offset="0.1664" stop-color="#ff6800"/><stop offset="0.2369" stop-color="#ffa500"/><stop offset="0.2865" stop-color="#ffd000"/><stop offset="0.3502" stop-color="#ffec00"/><stop offset="0.3715" stop-color="#f7f600"/><stop offset="0.3927" stop-color="#efff08"/><stop offset="0.4383" stop-color="#ceff29"/><stop offset="0.4575" stop-color="#bdff3a"/><stop offset="0.4777" stop-color="#adff4a"/><stop offset="0.4981" stop-color="#9cff5a"/><stop offset="0.5186" stop-color="#8cff6b"/><stop offset="0.5393" stop-color="#7bff7b"/><stop offset="0.5603" stop-color="#6bff8c"/><stop offset="0.5815" stop-color="#5aff9c"/><stop offset="0.6031" stop-color="#4affad"/><stop offset="0.6250" stop-color="#3affbd"/><stop offset="0.6476" stop-color="#29ffce"/><stop offset="0.6719" stop-color="#19ffde"/><stop offset="0.6782" stop-color="#15ffe2"/><stop offset="0.6973" stop-color="#08f0ef"/><stop offset="0.7312" stop-color="#00e5f7"/><stop offset="0.7651" stop-color="#00dbff"/><stop offset="0.8360" stop-color="#00c7ff"/><stop offset="0.9032" stop-color="#00b2ff"/><stop offset="0.9641" stop-color="#009eff"/><stop offset="1.0000" stop-color="#0091ff"/></linearGradient>
<linearGradient id="b36" gradientUnits="userSpaceOnUse" x1="231.85" x2="329.00" y1="0" y2="0"><stop offset="0.0000" stop-color="#8c0000"/><stop offset="0.0238" stop-color="#d50000"/><stop offset="0.0529" stop-color="#ea0000"/><stop offset="0.0819" stop-color="#ff1300"/><stop offset="0.1676" stop-color="#ff6800"/><stop offset="0.2384" stop-color="#ffa500"/><stop offset="0.2872" stop-color="#ffd000"/><stop offset="0.3505" stop-color="#ffec00"/><stop offset="0.3716" stop-color="#f7f600"/><stop offset="0.3927" stop-color="#efff08"/><stop offset="0.4382" stop-color="#ceff29"/><stop offset="0.4573" stop-color="#bdff3a"/><stop offset="0.4775" stop-color="#adff4a"/><stop offset="0.4978" stop-color="#9cff5a"/><stop offset="0.5182" stop-color="#8cff6b"/><stop offset="0.5387" stop-color="#7bff7b"/><stop offset="0.5596" stop-color="#6bff8c"/><stop offset="0.5806" stop-color="#5aff9c"/><stop offset="0.6019" stop-color="#4affad"/><stop offset="0.6235" stop-color="#3affbd"/><stop offset="0.6458" stop-color="#29ffce"/><stop offset="0.6694" stop-color="#19ffde"/><stop offset="0.6755" stop-color="#15ffe2"/><stop offset="0.6940" stop-color="#08f0ef"/><stop offset="0.7272" stop-color="#00e5f7"/><stop offset="0.7604" stop-color="#00dbff"/><stop offset="0.8293" stop-color="#00c7ff"/><stop offset="0.8935" stop-color="#00b2ff"/><stop offset="0.9512" stop-color="#009eff"/><stop offset="1.0000" stop-color="#008bff"/></linearGradient>
<linearGradient id="b37" gradientUnits="userSpaceOnUse" x1="231.85" x2="329.00" y1="0" y2="0"><stop offset="0.0010" stop-color="#8c0000"/><stop offset="0.0257" stop-color="#d50000"/><stop offset="0.0545" stop-color="#ea0000"/><stop offset="0.0833" stop-color="#ff1300"/><stop offset="0.1688" stop-color="#ff6800"/><stop offset="0.2398" stop-color="#ffa500"/><stop offset="0.2879" stop-color="#ffd000"/><stop offset="0.3508" stop-color="#ffec00"/><stop offset="0.3718" stop-color="#f7f600"/><stop offset="0.3927" stop-color="#efff08"/><stop offset="0.4382" stop-color="#ceff29"/><stop offset="0.4572" stop-color="#bdff3a"/><stop offset="0.4774" stop-color="#adff4a"/><stop offset="0.4976" stop-color="#9cff5a"/><stop offset="0.5178" stop-color="#8cff6b"/><stop offset="0.5383" stop-color="#7bff7b"/><stop offset="0.5590" stop-color="#6bff8c"/><stop offset="0.5798" stop-color="#5aff9c"/><stop offset="0.6009" stop-color="#4affad"/><stop offset="0.6223" stop-color="#3affbd"/><stop offset="0.6443" stop-color="#29ffce"/><stop offset="0.6673" stop-color="#19ffde"/><stop offset="0.6733" stop-color="#15ffe2"/><stop offset="0.6912" stop-color="#08f0ef"/><stop offset="0.7237" stop-color="#00e5f7"/><stop offset="0.7563" stop-color="#00dbff"/><stop offset="0.8235" stop-color="#00c7ff"/><stop offset="0.8851" stop-color="#00b2ff"/><stop offset="0.9399" stop-color="#009eff"/><stop offset="0.9899" stop-color="#008aff"/><stop offset="1.0000" stop-color="#0085ff"/></linearGradient>
<linearGradient id="b38" gradientUnits="userSpaceOnUse" x1="231.85" x2="329.00" y1="0" y2="0"><stop offset="0.0028" stop-color="#8c0000"/><stop offset="0.0273" stop-color="#d50000"/><stop offset="0.0559" stop-color="#ea0000"/><stop offset="0.0845" stop-color="#ff1300"/><stop offset="0.1699" stop-color="#ff6800"/><stop offset="0.2411" stop-color="#ffa500"/><stop offset="0.2885" stop-color="#ffd000"/><stop offset="0.3510" stop-color="#ffec00"/><stop offset="0.3719" stop-color="#f7f600"/><stop offset="0.3927" stop-color="#efff08"/><stop offset="0.4381" stop-color="#ceff29"/><stop offset="0.4572" stop-color="#bdff3a"/><stop offset="0.4773" stop-color="#adff4a"/><stop offset="0.4974" stop-color="#9cff5a"/><stop offset="0.5176" stop-color="#8cff6b"/><stop offset="0.5379" stop-color="#7bff7b"/><stop offset="0.5585" stop-color="#6bff8c"/><stop offset="0.5792" stop-color="#5aff9c"/><stop offset="0.6001" stop-color="#4affad"/><stop offset="0.6212" stop-color="#3affbd"/><stop offset="0.6430" stop-color="#29ffce"/><stop offset="0.6656" stop-color="#19ffde"/><stop offset="0.6714" stop-color="#15ffe2"/><stop offset="0.6888" stop-color="#08f0ef"/><stop offset="0.7208" stop-color="#00e5f7"/><stop offset="0.7528" stop-color="#00dbff"/><stop offset="0.8185" stop-color="#00c7ff"/><stop offset="0.8779" stop-color="#00b2ff"/><stop offset="0.9302" stop-color="#009eff"/><stop offset="0.9778" stop-color="#008aff"/><stop offset="1.0000" stop-color="#007fff"/></linearGradient>
<linearGradient id="b39" gradientUnits="userSpaceOnUse" x1="231.85" x2="329.00" y1="0" y2="0"><stop offset="0.0043" stop-color="#8c0000"/><stop offset="0.0287" stop-color="#d50000"/><stop offset="0.0572" stop-color="#ea0000"/><stop offset="0.0857" stop-color="#ff1300"/><stop offset="0.1709" stop-color="#ff6800"/><stop offset="0.2424" stop-color="#ffa500"/><stop offset="0.2891" stop-color="#ffd000"/><stop offset="0.3513" stop-color="#ffec00"/><stop offset="0.3720" stop-color="#f7f600"/><stop offset="0.3927" stop-color="#efff08"/><stop offset="0.4381" stop-color="#ceff29"/><stop offset="0.4571" stop-color="#bdff3a"/><stop offset="0.4772" stop-color="#adff4a"/><stop offset="0.4973" stop-color="#9cff5a"/><stop offset="0.5174" stop-color="#8cff6b"/><stop offset="0.5377" stop-color="#7bff7b"/><stop offset="0.5582" stop-color="#6bff8c"/><stop offset="0.5787" stop-color="#5aff9c"/><stop offset="0.5995" stop-color="#4affad"/><stop offset="0.6204" stop-color="#3affbd"/><stop offset="0.6420" stop-color="#29ffce"/><stop offset="0.6641" stop-color="#19ffde"/><stop offset="0.6698" stop-color="#15ffe2"/><stop offset="0.6868" stop-color="#08f0ef"/><stop offset="0.7184" stop-color="#00e5f7"/><stop offset="0.7499" stop-color="#00dbff"/><stop offset="0.8143" stop-color="#00c7ff"/><stop offset="0.8718" stop-color="#00b2ff"/><stop offset="0.9219" stop-color="#009eff"/><stop offset="0.9675" stop-color="#008aff"/><stop offset="1.0000" stop-color="#007aff"/></linearGradient>
<linearGradient id="b40" gradientUnits="userSpaceOnUse" x1="231.85" x2="329.00" y1="0" y2="0"><stop offset="0.0055" stop-color="#8c0000"/><stop offset="0.0299" stop-color="#d50000"/><stop offset="0.0583" stop-color="#ea0000"/><stop offset="0.0867" stop-color="#ff1300"/><stop offset="0.1718" stop-color="#ff6800"/><stop offset="0.2436" stop-color="#ffa500"/><stop offset="0.2897" stop-color="#ffd000"/><stop offset="0.3515" stop-color="#ffec00"/><stop offset="0.3721" stop-color="#f7f600"/><stop offset="0.3927" stop-color="#efff08"/><stop offset="0.4380" stop-color="#ceff29"/><stop offset="0.4571" stop-color="#bdff3a"/><stop offset="0.4771" stop-color="#adff4a"/><stop offset="0.4972" stop-color="#9cff5a"/><stop offset="0.5173" stop-color="#8cff6b"/><stop offset="0.5375" stop-color="#7bff7b"/><stop offset="0.5579" stop-color="#6bff8c"/><stop offset="0.5784" stop-color="#5aff9c"/><stop offset="0.5990" stop-color="#4affad"/><stop offset="0.6198" stop-color="#3affbd"/><stop offset="0.6411" stop-color="#29ffce"/><stop offset="0.6630" stop-color="#19ffde"/><stop offset="0.6685" stop-color="#15ffe2"/><stop offset="0.6852" stop-color="#08f0ef"/><stop offset="0.7163" stop-color="#00e5f7"/><stop offset="0.7475" stop-color="#00dbff"/><stop offset="0.8108" stop-color="#00c7ff"/><stop offset="0.8666" stop-color="#00b2ff"/><stop offset="0.9148" stop-color="#009eff"/><stop offset="0.9587" stop-color="#008aff"/><stop offset="1.0000" stop-color="#0075ff"/></linearGradient>
<linearGradient id="b41" gradientUnits="userSpaceOnUse" x1="231.85" x2="329.00" y1="0" y2="0"><stop offset="0.0064" stop-color="#8c0000"/><stop offset="0.0308" stop-color="#d50000"/><stop offset="0.0593" stop-color="#ea0000"/><stop offset="0.0877" stop-color="#ff1300"/><stop offset="0.1726" stop-color="#ff6800"/><stop offset="0.2446" stop-color="#ffa500"/><stop offset="0.2901" stop-color="#ffd000"/><stop offset="0.3515" stop-color="#ffec00"/><stop offset="0.3719" stop-color="#f7f600"/><stop offset="0.3924" stop-color="#efff08"/><stop offset="0.4378" stop-color="#ceff29"/><stop offset="0.4568" stop-color="#bdff3a"/><stop offset="0.4768" stop-color="#adff4a"/><stop offset="0.4969" stop-color="#9cff5a"/><stop offset="0.5170" stop-color="#8cff6b"/><stop offset="0.5372" stop-color="#7bff7b"/><stop offset="0.5575" stop-color="#6bff8c"/><stop offset="0.5780" stop-color="#5aff9c"/><stop offset="0.5985" stop-color="#4affad"/><stop offset="0.6192" stop-color="#3affbd"/><stop offset="0.6404" stop-color="#29ffce"/><stop offset="0.6620" stop-color="#19ffde"/><stop offset="0.6675" stop-color="#15ffe2"/><stop offset="0.6839" stop-color="#08f0ef"/><stop offset="0.7147" stop-color="#00e5f7"/><stop offset="0.7455" stop-color="#00dbff"/><stop offset="0.8079" stop-color="#00c7ff"/><stop offset="0.8623" stop-color="#00b2ff"/><stop offset="0.9088" stop-color="#009eff"/><stop offset="0.9513" stop-color="#008aff"/><stop offset="0.9921" stop-color="#0075ff"/><stop offset="1.0000" stop-color="#0071ff"/></linearGradient>
<linearGradient id="b42" gradientUnits="userSpaceOnUse" x1="231.85" x2="329.00" y1="0" y2="0"><stop offset="0.0073" stop-color="#8c0000"/><stop offset="0.0316" stop-color="#d50000"/><stop offset="0.0601" stop-color="#ea0000"/><stop offset="0.0886" stop-color="#ff1300"/><stop offset="0.1734" stop-color="#ff6800"/><stop offset="0.2456" stop-color="#ffa500"/><stop offset="0.2906" stop-color="#ffd000"/><stop offset="0.3508" stop-color="#ffec00"/><stop offset="0.3709" stop-color="#f7f600"/><stop offset="0.3910" stop-color="#efff08"/><stop offset="0.4365" stop-color="#ceff29"/><stop offset="0.4556" stop-color="#bdff3a"/><stop offset="0.4758" stop-color="#adff4a"/><stop offset="0.4960" stop-color="#9cff5a"/><stop offset="0.5162" stop-color="#8cff6b"/><stop offset="0.5364" stop-color="#7bff7b"/><stop offset="0.5568" stop-color="#6bff8c"/><stop offset="0.5773" stop-color="#5aff9c"/><stop offset="0.5979" stop-color="#4affad"/><stop offset="0.6185" stop-color="#3affbd"/><stop offset="0.6397" stop-color="#29ffce"/><stop offset="0.6611" stop-color="#19ffde"/><stop offset="0.6665" stop-color="#15ffe2"/><stop offset="0.6828" stop-color="#08f0ef"/><stop offset="0.7133" stop-color="#00e5f7"/><stop offset="0.7439" stop-color="#00dbff"/><stop offset="0.8056" stop-color="#00c7ff"/><stop offset="0.8588" stop-color="#00b2ff"/><stop offset="0.9039" stop-color="#009eff"/><stop offset="0.9451" stop-color="#008aff"/><stop offset="0.9840" stop-color="#0075ff"/><stop offset="1.0000" stop-color="#006fff"/></linearGradient>
<linearGradient id="b43" gradientUnits="userSpaceOnUse" x1="231.85" x2="329.00" y1="0" y2="0"><stop offset="0.0077" stop-color="#8c0000"/><stop offset="0.0322" stop-color="#d50000"/><stop offset="0.0607" stop-color="#ea0000"/><stop offset="0.0893" stop-color="#ff1300"/><stop offset="0.1740" stop-color="#ff6800"/><stop offset="0.2464" stop-color="#ffa500"/><stop offset="0.2909" stop-color="#ffd000"/><stop offset="0.3496" stop-color="#ffec00"/><stop offset="0.3692" stop-color="#f7f600"/><stop offset="0.3888" stop-color="#efff08"/><stop offset="0.4344" stop-color="#ceff29"/><stop offset="0.4537" stop-color="#bdff3a"/><stop offset="0.4741" stop-color="#adff4a"/><stop offset="0.4945" stop-color="#9cff5a"/><stop offset="0.5148" stop-color="#8cff6b"/><stop offset="0.5352" stop-color="#7bff7b"/><stop offset="0.5558" stop-color="#6bff8c"/><stop offset="0.5764" stop-color="#5aff9c"/><stop offset="0.5970" stop-color="#4affad"/><stop offset="0.6177" stop-color="#3affbd"/><stop offset="0.6389" stop-color="#29ffce"/><stop offset="0.6603" stop-color="#19ffde"/><stop offset="0.6657" stop-color="#15ffe2"/><stop offset="0.6818" stop-color="#08f0ef"/><stop offset="0.7122" stop-color="#00e5f7"/><stop offset="0.7425" stop-color="#00dbff"/><stop offset="0.8037" stop-color="#00c7ff"/><stop offset="0.8561" stop-color="#00b2ff"/><stop offset="0.9000" stop-color="#009eff"/><stop offset="0.9402" stop-color="#008aff"/><stop offset="0.9776" stop-color="#0075ff"/><stop offset="1.0000" stop-color="#006dff"/></linearGradient>
<linearGradient id="b44" gradientUnits="userSpaceOnUse" x1="231.85" x2="329.00" y1="0" y2="0"><stop offset="0.0076" stop-color="#8c0000"/><stop offset="0.0323" stop-color="#d50000"/><stop offset="0.0611" stop-color="#ea0000"/><stop offset="0.0899" stop-color="#ff1300"/><stop offset="0.1745" stop-color="#ff6800"/><stop offset="0.2471" stop-color="#ffa500"/><stop offset="0.2912" stop-color="#ffd000"/><stop offset="0.3481" stop-color="#ffec00"/><stop offset="0.3670" stop-color="#f7f600"/><stop offset="0.3860" stop-color="#efff08"/><stop offset="0.4318" stop-color="#ceff29"/><stop offset="0.4513" stop-color="#bdff3a"/><stop offset="0.4719" stop-color="#adff4a"/><stop offset="0.4925" stop-color="#9cff5a"/><stop offset="0.5132" stop-color="#8cff6b"/><stop offset="0.5338" stop-color="#7bff7b"/><stop offset="0.5545" stop-color="#6bff8c"/><stop offset="0.5752" stop-color="#5aff9c"/><stop offset="0.5960" stop-color="#4affad"/><stop offset="0.6168" stop-color="#3affbd"/><stop offset="0.6381" stop-color="#29ffce"/><stop offset="0.6595" stop-color="#19ffde"/><stop offset="0.6649" stop-color="#15ffe2"/><stop offset="0.6810" stop-color="#08f0ef"/><stop offset="0.7112" stop-color="#00e5f7"/><stop offset="0.7415" stop-color="#00dbff"/><stop offset="0.8023" stop-color="#00c7ff"/><stop offset="0.8540" stop-color="#00b2ff"/><stop offset="0.8970" stop-color="#009eff"/><stop offset="0.9363" stop-color="#008aff"/><stop offset="0.9725" stop-color="#0075ff"/><stop offset="1.0000" stop-color="#006bff"/></linearGradient>
<linearGradient id="b45" gradientUnits="userSpaceOnUse" x1="231.85" x2="329.00" y1="0" y2="0"><stop offset="0.0068" stop-color="#8c0000"/><stop offset="0.0319" stop-color="#d50000"/><stop offset="0.0611" stop-color="#ea0000"/><stop offset="0.0904" stop-color="#ff1300"/><stop offset="0.1749" stop-color="#ff6800"/><stop offset="0.2477" stop-color="#ffa500"/><stop offset="0.2915" stop-color="#ffd000"/><stop offset="0.3463" stop-color="#ffec00"/><stop offset="0.3645" stop-color="#f7f600"/><stop offset="0.3828" stop-color="#efff08"/><stop offset="0.4289" stop-color="#ceff29"/><stop offset="0.4486" stop-color="#bdff3a"/><stop offset="0.4695" stop-color="#adff4a"/><stop offset="0.4904" stop-color="#9cff5a"/><stop offset="0.5113" stop-color="#8cff6b"/><stop offset="0.5322" stop-color="#7bff7b"/><stop offset="0.5531" stop-color="#6bff8c"/><stop offset="0.5740" stop-color="#5aff9c"/><stop offset="0.5949" stop-color="#4affad"/><stop offset="0.6159" stop-color="#3affbd"/><stop offset="0.6373" stop-color="#29ffce"/><stop offset="0.6588" stop-color="#19ffde"/><stop offset="0.6642" stop-color="#15ffe2"/><stop offset="0.6803" stop-color="#08f0ef"/><stop offset="0.7105" stop-color="#00e5f7"/><stop offset="0.7407" stop-color="#00dbff"/><stop offset="0.8013" stop-color="#00c7ff"/><stop offset="0.8525" stop-color="#00b2ff"/><stop offset="0.8947" stop-color="#009eff"/><stop offset="0.9334" stop-color="#008aff"/><stop offset="0.9688" stop-color="#0075ff"/><stop offset="1.0000" stop-color="#006aff"/></linearGradient>
<linearGradient id="b46" gradientUnits="userSpaceOnUse" x1="231.85" x2="329.00" y1="0" y2="0"><stop offset="0.0056" stop-color="#8c0000"/><stop offset="0.0311" stop-color="#d50000"/><stop offset="0.0609" stop-color="#ea0000"/><stop offset="0.0908" stop-color="#ff1300"/><stop offset="0.1752" stop-color="#ff6800"/><stop offset="0.2482" stop-color="#ffa500"/><stop offset="0.2917" stop-color="#ffd000"/><stop offset="0.3443" stop-color="#ffec00"/><stop offset="0.3619" stop-color="#f7f600"/><stop offset="0.3794" stop-color="#efff08"/><stop offset="0.4257" stop-color="#ceff29"/><stop offset="0.4457" stop-color="#bdff3a"/><stop offset="0.4669" stop-color="#adff4a"/><stop offset="0.4881" stop-color="#9cff5a"/><stop offset="0.5093" stop-color="#8cff6b"/><stop offset="0.5305" stop-color="#7bff7b"/><stop offset="0.5516" stop-color="#6bff8c"/><stop offset="0.5727" stop-color="#5aff9c"/><stop offset="0.5938" stop-color="#4affad"/><stop offset="0.6150" stop-color="#3affbd"/><stop offset="0.6366" stop-color="#29ffce"/><stop offset="0.6582" stop-color="#19ffde"/><stop offset="0.6636" stop-color="#15ffe2"/><stop offset="0.6798" stop-color="#08f0ef"/><stop offset="0.7100" stop-color="#00e5f7"/><stop offset="0.7401" stop-color="#00dbff"/><stop offset="0.8006" stop-color="#00c7ff"/><stop offset="0.8515" stop-color="#00b2ff"/><stop offset="0.8932" stop-color="#009eff"/><stop offset="0.9314" stop-color="#008aff"/><stop offset="0.9662" stop-color="#0075ff"/><stop offset="1.0000" stop-color="#0068ff"/></linearGradient>
<linearGradient id="b47" gradientUnits="userSpaceOnUse" x1="231.85" x2="329.00" y1="0" y2="0"><stop offset="0.0040" stop-color="#8c0000"/><stop offset="0.0301" stop-color="#d50000"/><stop offset="0.0606" stop-color="#ea0000"/><stop offset="0.0910" stop-color="#ff1300"/><stop offset="0.1754" stop-color="#ff6800"/><stop offset="0.2485" stop-color="#ffa500"/><stop offset="0.2918" stop-color="#ffd000"/><stop offset="0.3424" stop-color="#ffec00"/><stop offset="0.3592" stop-color="#f7f600"/><stop offset="0.3761" stop-color="#efff08"/><stop offset="0.4227" stop-color="#ceff29"/><stop offset="0.4429" stop-color="#bdff3a"/><stop offset="0.4644" stop-color="#adff4a"/><stop offset="0.4859" stop-color="#9cff5a"/><stop offset="0.5073" stop-color="#8cff6b"/><stop offset="0.5288" stop-color="#7bff7b"/><stop offset="0.5501" stop-color="#6bff8c"/><stop offset="0.5715" stop-color="#5aff9c"/><stop offset="0.5928" stop-color="#4affad"/><stop offset="0.6141" stop-color="#3affbd"/><stop offset="0.6359" stop-color="#29ffce"/><stop offset="0.6576" stop-color="#19ffde"/><stop offset="0.6630" stop-color="#15ffe2"/><stop offset="0.6793" stop-color="#08f0ef"/><stop offset="0.7095" stop-color="#00e5f7"/><stop offset="0.7397" stop-color="#00dbff"/><stop offset="0.8002" stop-color="#00c7ff"/><stop offset="0.8510" stop-color="#00b2ff"/><stop offset="0.8923" stop-color="#009eff"/><stop offset="0.9302" stop-color="#008aff"/><stop offset="0.9647" stop-color="#0075ff"/><stop offset="1.0000" stop-color="#0067ff"/></linearGradient>
<linearGradient id="b48" gradientUnits="userSpaceOnUse" x1="231.85" x2="329.00" y1="0" y2="0"><stop offset="0.0022" stop-color="#8c0000"/><stop offset="0.0289" stop-color="#d50000"/><stop offset="0.0600" stop-color="#ea0000"/><stop offset="0.0911" stop-color="#ff1300"/><stop offset="0.1755" stop-color="#ff6800"/><stop offset="0.2486" stop-color="#ffa500"/><stop offset="0.2918" stop-color="#ffd000"/><stop offset="0.3406" stop-color="#ffec00"/><stop offset="0.3568" stop-color="#f7f600"/><stop offset="0.3731" stop-color="#efff08"/><stop offset="0.4199" stop-color="#ceff29"/><stop offset="0.4404" stop-color="#bdff3a"/><stop offset="0.4621" stop-color="#adff4a"/><stop offset="0.4838" stop-color="#9cff5a"/><stop offset="0.5056" stop-color="#8cff6b"/><stop offset="0.5273" stop-color="#7bff7b"/><stop offset="0.5488" stop-color="#6bff8c"/><stop offset="0.5703" stop-color="#5aff9c"/><stop offset="0.5918" stop-color="#4affad"/><stop offset="0.6134" stop-color="#3affbd"/><stop offset="0.6353" stop-color="#29ffce"/><stop offset="0.6571" stop-color="#19ffde"/><stop offset="0.6626" stop-color="#15ffe2"/><stop offset="0.6790" stop-color="#08f0ef"/><stop offset="0.7093" stop-color="#00e5f7"/><stop offset="0.7395" stop-color="#00dbff"/><stop offset="0.8000" stop-color="#00c7ff"/><stop offset="0.8508" stop-color="#00b2ff"/><stop offset="0.8920" stop-color="#009eff"/><stop offset="0.9297" stop-color="#008aff"/><stop offset="0.9640" stop-color="#0075ff"/><stop offset="1.0000" stop-color="#0067ff"/></linearGradient>
<linearGradient id="b49" gradientUnits="userSpaceOnUse" x1="231.85" x2="329.00" y1="0" y2="0"><stop offset="0.0001" stop-color="#8c0000"/><stop offset="0.0274" stop-color="#d50000"/><stop offset="0.0592" stop-color="#ea0000"/><stop offset="0.0910" stop-color="#ff1300"/><stop offset="0.1754" stop-color="#ff6800"/><stop offset="0.2485" stop-color="#ffa500"/><stop offset="0.2917" stop-color="#ffd000"/><stop offset="0.3389" stop-color="#ffec00"/><stop offset="0.3546" stop-color="#f7f600"/><stop offset="0.3704" stop-color="#efff08"/><stop offset="0.4174" stop-color="#ceff29"/><stop offset="0.4380" stop-color="#bdff3a"/><stop offset="0.4600" stop-color="#adff4a"/><stop offset="0.4820" stop-color="#9cff5a"/><stop offset="0.5040" stop-color="#8cff6b"/><stop offset="0.5259" stop-color="#7bff7b"/><stop offset="0.5476" stop-color="#6bff8c"/><stop offset="0.5693" stop-color="#5aff9c"/><stop offset="0.5910" stop-color="#4affad"/><stop offset="0.6127" stop-color="#3affbd"/><stop offset="0.6347" stop-color="#29ffce"/><stop offset="0.6567" stop-color="#19ffde"/><stop offset="0.6622" stop-color="#15ffe2"/><stop offset="0.6787" stop-color="#08f0ef"/><stop offset="0.7090" stop-color="#00e5f7"/><stop offset="0.7393" stop-color="#00dbff"/><stop offset="0.7999" stop-color="#00c7ff"/><stop offset="0.8508" stop-color="#00b2ff"/><stop offset="0.8920" stop-color="#009eff"/><stop offset="0.9297" stop-color="#008aff"/><stop offset="0.9640" stop-color="#0075ff"/><stop offset="1.0000" stop-color="#0066ff"/></linearGradient>
<linearGradient id="b50" gradientUnits="userSpaceOnUse" x1="231.85" x2="329.00" y1="0" y2="0"><stop offset="0.0000" stop-color="#8c0000"/><stop offset="0.0251" stop-color="#d50000"/><stop offset="0.0576" stop-color="#ea0000"/><stop offset="0.0901" stop-color="#ff1300"/><stop offset="0.1745" stop-color="#ff6800"/><stop offset="0.2477" stop-color="#ffa500"/><stop offset="0.2910" stop-color="#ffd000"/><stop offset="0.3370" stop-color="#ffec00"/><stop offset="0.3523" stop-color="#f7f600"/><stop offset="0.3677" stop-color="#efff08"/><stop offset="0.4149" stop-color="#ceff29"/><stop offset="0.4357" stop-color="#bdff3a"/><stop offset="0.4579" stop-color="#adff4a"/><stop offset="0.4802" stop-color="#9cff5a"/><stop offset="0.5024" stop-color="#8cff6b"/><stop offset="0.5246" stop-color="#7bff7b"/><stop offset="0.5464" stop-color="#6bff8c"/><stop offset="0.5683" stop-color="#5aff9c"/><stop offset="0.5902" stop-color="#4affad"/><stop offset="0.6120" stop-color="#3affbd"/><stop offset="0.6342" stop-color="#29ffce"/><stop offset="0.6563" stop-color="#19ffde"/><stop offset="0.6619" stop-color="#15ffe2"/><stop offset="0.6785" stop-color="#08f0ef"/><stop offset="0.7088" stop-color="#00e5f7"/><stop offset="0.7392" stop-color="#00dbff"/><stop offset="0.7999" stop-color="#00c7ff"/><stop offset="0.8509" stop-color="#00b2ff"/><stop offset="0.8922" stop-color="#009eff"/><stop offset="0.9300" stop-color="#008aff"/><stop offset="0.9644" stop-color="#0075ff"/><stop offset="1.0000" stop-color="#0066ff"/></linearGradient>
<linearGradient id="b51" gradientUnits="userSpaceOnUse" x1="231.85" x2="329.00" y1="0" y2="0"><stop offset="0.0000" stop-color="#8c0000"/><stop offset="0.0220" stop-color="#d50000"/><stop offset="0.0553" stop-color="#ea0000"/><stop offset="0.0886" stop-color="#ff1300"/><stop offset="0.1729" stop-color="#ff6800"/><stop offset="0.2463" stop-color="#ffa500"/><stop offset="0.2897" stop-color="#ffd000"/><stop offset="0.3348" stop-color="#ffec00"/><stop offset="0.3499" stop-color="#f7f600"/><stop offset="0.3649" stop-color="#efff08"/><stop offset="0.4123" stop-color="#ceff29"/><stop offset="0.4334" stop-color="#bdff3a"/><stop offset="0.4558" stop-color="#adff4a"/><stop offset="0.4783" stop-color="#9cff5a"/><stop offset="0.5008" stop-color="#8cff6b"/><stop offset="0.5232" stop-color="#7bff7b"/><stop offset="0.5452" stop-color="#6bff8c"/><stop offset="0.5673" stop-color="#5aff9c"/><stop offset="0.5893" stop-color="#4affad"/><stop offset="0.6114" stop-color="#3affbd"/><stop offset="0.6337" stop-color="#29ffce"/><stop offset="0.6560" stop-color="#19ffde"/><stop offset="0.6616" stop-color="#15ffe2"/><stop offset="0.6784" stop-color="#08f0ef"/><stop offset="0.7088" stop-color="#00e5f7"/><stop offset="0.7392" stop-color="#00dbff"/><stop offset="0.8001" stop-color="#00c7ff"/><stop offset="0.8513" stop-color="#00b2ff"/><stop offset="0.8928" stop-color="#009eff"/><stop offset="0.9308" stop-color="#008aff"/><stop offset="0.9653" stop-color="#0075ff"/><stop offset="1.0000" stop-color="#0066ff"/></linearGradient>
<linearGradient id="b52" gradientUnits="userSpaceOnUse" x1="230.20" x2="329.00" y1="0" y2="0"><stop offset="0.0060" stop-color="#8c0000"/><stop offset="0.0347" stop-color="#d50000"/><stop offset="0.0682" stop-color="#ea0000"/><stop offset="0.1018" stop-color="#ff1300"/><stop offset="0.1846" stop-color="#ff6800"/><stop offset="0.2570" stop-color="#ffa500"/><stop offset="0.2999" stop-color="#ffd000"/><stop offset="0.3436" stop-color="#ffec00"/><stop offset="0.3582" stop-color="#f7f600"/><stop offset="0.3727" stop-color="#efff08"/><stop offset="0.4196" stop-color="#ceff29"/><stop offset="0.4405" stop-color="#bdff3a"/><stop offset="0.4628" stop-color="#adff4a"/><stop offset="0.4851" stop-color="#9cff5a"/><stop offset="0.5075" stop-color="#8cff6b"/><stop offset="0.5298" stop-color="#7bff7b"/><stop offset="0.5516" stop-color="#6bff8c"/><stop offset="0.5735" stop-color="#5aff9c"/><stop offset="0.5954" stop-color="#4affad"/><stop offset="0.6172" stop-color="#3affbd"/><stop offset="0.6394" stop-color="#29ffce"/><stop offset="0.6615" stop-color="#19ffde"/><stop offset="0.6671" stop-color="#15ffe2"/><stop offset="0.6837" stop-color="#08f0ef"/><stop offset="0.7138" stop-color="#00e5f7"/><stop offset="0.7438" stop-color="#00dbff"/><stop offset="0.8039" stop-color="#00c7ff"/><stop offset="0.8546" stop-color="#00b2ff"/><stop offset="0.8957" stop-color="#009eff"/><stop offset="0.9333" stop-color="#008aff"/><stop offset="0.9674" stop-color="#0075ff"/><stop offset="1.0000" stop-color="#0067ff"/></linearGradient>
<linearGradient id="b53" gradientUnits="userSpaceOnUse" x1="230.20" x2="329.00" y1="0" y2="0"><stop offset="0.0014" stop-color="#8c0000"/><stop offset="0.0307" stop-color="#d50000"/><stop offset="0.0649" stop-color="#ea0000"/><stop offset="0.0991" stop-color="#ff1300"/><stop offset="0.1818" stop-color="#ff6800"/><stop offset="0.2545" stop-color="#ffa500"/><stop offset="0.2977" stop-color="#ffd000"/><stop offset="0.3411" stop-color="#ffec00"/><stop offset="0.3555" stop-color="#f7f600"/><stop offset="0.3700" stop-color="#efff08"/><stop offset="0.4170" stop-color="#ceff29"/><stop offset="0.4382" stop-color="#bdff3a"/><stop offset="0.4607" stop-color="#adff4a"/><stop offset="0.4833" stop-color="#9cff5a"/><stop offset="0.5059" stop-color="#8cff6b"/><stop offset="0.5284" stop-color="#7bff7b"/><stop offset="0.5505" stop-color="#6bff8c"/><stop offset="0.5725" stop-color="#5aff9c"/><stop offset="0.5946" stop-color="#4affad"/><stop offset="0.6167" stop-color="#3affbd"/><stop offset="0.6390" stop-color="#29ffce"/><stop offset="0.6614" stop-color="#19ffde"/><stop offset="0.6671" stop-color="#15ffe2"/><stop offset="0.6840" stop-color="#08f0ef"/><stop offset="0.7141" stop-color="#00e5f7"/><stop offset="0.7443" stop-color="#00dbff"/><stop offset="0.8048" stop-color="#00c7ff"/><stop offset="0.8559" stop-color="#00b2ff"/><stop offset="0.8973" stop-color="#009eff"/><stop offset="0.9352" stop-color="#008aff"/><stop offset="0.9697" stop-color="#0075ff"/><stop offset="1.0000" stop-color="#0069ff"/></linearGradient>
<linearGradient id="b54" gradientUnits="userSpaceOnUse" x1="230.20" x2="329.00" y1="0" y2="0"><stop offset="0.0000" stop-color="#8c0000"/><stop offset="0.0265" stop-color="#d50000"/><stop offset="0.0612" stop-color="#ea0000"/><stop offset="0.0960" stop-color="#ff1300"/><stop offset="0.1786" stop-color="#ff6800"/><stop offset="0.2517" stop-color="#ffa500"/><stop offset="0.2951" stop-color="#ffd000"/><stop offset="0.3384" stop-color="#ffec00"/><stop offset="0.3528" stop-color="#f7f600"/><stop offset="0.3672" stop-color="#efff08"/><stop offset="0.4144" stop-color="#ceff29"/><stop offset="0.4358" stop-color="#bdff3a"/><stop offset="0.4586" stop-color="#adff4a"/><stop offset="0.4814" stop-color="#9cff5a"/><stop offset="0.5042" stop-color="#8cff6b"/><stop offset="0.5271" stop-color="#7bff7b"/><stop offset="0.5493" stop-color="#6bff8c"/><stop offset="0.5716" stop-color="#5aff9c"/><stop offset="0.5939" stop-color="#4affad"/><stop offset="0.6163" stop-color="#3affbd"/><stop offset="0.6389" stop-color="#29ffce"/><stop offset="0.6615" stop-color="#19ffde"/><stop offset="0.6673" stop-color="#15ffe2"/><stop offset="0.6845" stop-color="#08f0ef"/><stop offset="0.7148" stop-color="#00e5f7"/><stop offset="0.7452" stop-color="#00dbff"/><stop offset="0.8061" stop-color="#00c7ff"/><stop offset="0.8577" stop-color="#00b2ff"/><stop offset="0.8995" stop-color="#009eff"/><stop offset="0.9379" stop-color="#008aff"/><stop offset="0.9728" stop-color="#0075ff"/><stop offset="1.0000" stop-color="#006aff"/></linearGradient>
<linearGradient id="b55" gradientUnits="userSpaceOnUse" x1="228.55" x2="329.00" y1="0" y2="0"><stop offset="0.0081" stop-color="#8c0000"/><stop offset="0.0378" stop-color="#d50000"/><stop offset="0.0725" stop-color="#ea0000"/><stop offset="0.1073" stop-color="#ff1300"/><stop offset="0.1884" stop-color="#ff6800"/><stop offset="0.2607" stop-color="#ffa500"/><stop offset="0.3038" stop-color="#ffd000"/><stop offset="0.3464" stop-color="#ffec00"/><stop offset="0.3606" stop-color="#f7f600"/><stop offset="0.3748" stop-color="#efff08"/><stop offset="0.4215" stop-color="#ceff29"/><stop offset="0.4427" stop-color="#bdff3a"/><stop offset="0.4654" stop-color="#adff4a"/><stop offset="0.4881" stop-color="#9cff5a"/><stop offset="0.5108" stop-color="#8cff6b"/><stop offset="0.5336" stop-color="#7bff7b"/><stop offset="0.5557" stop-color="#6bff8c"/><stop offset="0.5778" stop-color="#5aff9c"/><stop offset="0.6000" stop-color="#4affad"/><stop offset="0.6223" stop-color="#3affbd"/><stop offset="0.6448" stop-color="#29ffce"/><stop offset="0.6674" stop-color="#19ffde"/><stop offset="0.6732" stop-color="#15ffe2"/><stop offset="0.6905" stop-color="#08f0ef"/><stop offset="0.7205" stop-color="#00e5f7"/><stop offset="0.7506" stop-color="#00dbff"/><stop offset="0.8110" stop-color="#00c7ff"/><stop offset="0.8623" stop-color="#00b2ff"/><stop offset="0.9040" stop-color="#009eff"/><stop offset="0.9422" stop-color="#008aff"/><stop offset="0.9772" stop-color="#0075ff"/><stop offset="1.0000" stop-color="#006cff"/></linearGradient>
<linearGradient id="b56" gradientUnits="userSpaceOnUse" x1="228.55" x2="329.00" y1="0" y2="0"><stop offset="0.0022" stop-color="#8c0000"/><stop offset="0.0325" stop-color="#d50000"/><stop offset="0.0679" stop-color="#ea0000"/><stop offset="0.1033" stop-color="#ff1300"/><stop offset="0.1843" stop-color="#ff6800"/><stop offset="0.2571" stop-color="#ffa500"/><stop offset="0.3007" stop-color="#ffd000"/><stop offset="0.3435" stop-color="#ffec00"/><stop offset="0.3577" stop-color="#f7f600"/><stop offset="0.3720" stop-color="#efff08"/><stop offset="0.4189" stop-color="#ceff29"/><stop offset="0.4404" stop-color="#bdff3a"/><stop offset="0.4633" stop-color="#adff4a"/><stop offset="0.4863" stop-color="#9cff5a"/><stop offset="0.5093" stop-color="#8cff6b"/><stop offset="0.5323" stop-color="#7bff7b"/><stop offset="0.5547" stop-color="#6bff8c"/><stop offset="0.5771" stop-color="#5aff9c"/><stop offset="0.5996" stop-color="#4affad"/><stop offset="0.6223" stop-color="#3affbd"/><stop offset="0.6450" stop-color="#29ffce"/><stop offset="0.6680" stop-color="#19ffde"/><stop offset="0.6739" stop-color="#15ffe2"/><stop offset="0.6916" stop-color="#08f0ef"/><stop offset="0.7220" stop-color="#00e5f7"/><stop offset="0.7523" stop-color="#00dbff"/><stop offset="0.8134" stop-color="#00c7ff"/><stop offset="0.8653" stop-color="#00b2ff"/><stop offset="0.9075" stop-color="#009eff"/><stop offset="0.9464" stop-color="#008aff"/><stop offset="0.9821" stop-color="#0075ff"/><stop offset="1.0000" stop-color="#006fff"/></linearGradient>
<linearGradient id="b57" gradientUnits="userSpaceOnUse" x1="228.55" x2="329.00" y1="0" y2="0"><stop offset="0.0000" stop-color="#8c0000"/><stop offset="0.0268" stop-color="#d50000"/><stop offset="0.0629" stop-color="#ea0000"/><stop offset="0.0990" stop-color="#ff1300"/><stop offset="0.1799" stop-color="#ff6800"/><stop offset="0.2533" stop-color="#ffa500"/><stop offset="0.2973" stop-color="#ffd000"/><stop offset="0.3405" stop-color="#ffec00"/><stop offset="0.3548" stop-color="#f7f600"/><stop offset="0.3692" stop-color="#efff08"/><stop offset="0.4164" stop-color="#ceff29"/><stop offset="0.4380" stop-color="#bdff3a"/><stop offset="0.4613" stop-color="#adff4a"/><stop offset="0.4845" stop-color="#9cff5a"/><stop offset="0.5078" stop-color="#8cff6b"/><stop offset="0.5312" stop-color="#7bff7b"/><stop offset="0.5538" stop-color="#6bff8c"/><stop offset="0.5765" stop-color="#5aff9c"/><stop offset="0.5994" stop-color="#4affad"/><stop offset="0.6224" stop-color="#3affbd"/><stop offset="0.6455" stop-color="#29ffce"/><stop offset="0.6690" stop-color="#19ffde"/><stop offset="0.6750" stop-color="#15ffe2"/><stop offset="0.6933" stop-color="#08f0ef"/><stop offset="0.7239" stop-color="#00e5f7"/><stop offset="0.7546" stop-color="#00dbff"/><stop offset="0.8163" stop-color="#00c7ff"/><stop offset="0.8689" stop-color="#00b2ff"/><stop offset="0.9117" stop-color="#009eff"/><stop offset="0.9513" stop-color="#008aff"/><stop offset="0.9880" stop-color="#0075ff"/><stop offset="1.0000" stop-color="#0071ff"/></linearGradient>
<linearGradient id="b58" gradientUnits="userSpaceOnUse" x1="226.91" x2="329.00" y1="0" y2="0"><stop offset="0.0057" stop-color="#8c0000"/><stop offset="0.0367" stop-color="#d50000"/><stop offset="0.0729" stop-color="#ea0000"/><stop offset="0.1090" stop-color="#ff1300"/><stop offset="0.1885" stop-color="#ff6800"/><stop offset="0.2613" stop-color="#ffa500"/><stop offset="0.3051" stop-color="#ffd000"/><stop offset="0.3481" stop-color="#ffec00"/><stop offset="0.3624" stop-color="#f7f600"/><stop offset="0.3767" stop-color="#efff08"/><stop offset="0.4233" stop-color="#ceff29"/><stop offset="0.4449" stop-color="#bdff3a"/><stop offset="0.4680" stop-color="#adff4a"/><stop offset="0.4911" stop-color="#9cff5a"/><stop offset="0.5144" stop-color="#8cff6b"/><stop offset="0.5377" stop-color="#7bff7b"/><stop offset="0.5603" stop-color="#6bff8c"/><stop offset="0.5829" stop-color="#5aff9c"/><stop offset="0.6058" stop-color="#4affad"/><stop offset="0.6289" stop-color="#3affbd"/><stop offset="0.6520" stop-color="#29ffce"/><stop offset="0.6756" stop-color="#19ffde"/><stop offset="0.6818" stop-color="#15ffe2"/><stop offset="0.7003" stop-color="#08f0ef"/><stop offset="0.7308" stop-color="#00e5f7"/><stop offset="0.7614" stop-color="#00dbff"/><stop offset="0.8228" stop-color="#00c7ff"/><stop offset="0.8753" stop-color="#00b2ff"/><stop offset="0.9182" stop-color="#009eff"/><stop offset="0.9579" stop-color="#008aff"/><stop offset="1.0000" stop-color="#0074ff"/></linearGradient>
<linearGradient id="b59" gradientUnits="userSpaceOnUse" x1="226.91" x2="329.00" y1="0" y2="0"><stop offset="0.0000" stop-color="#8c0000"/><stop offset="0.0310" stop-color="#d50000"/><stop offset="0.0676" stop-color="#ea0000"/><stop offset="0.1043" stop-color="#ff1300"/><stop offset="0.1837" stop-color="#ff6800"/><stop offset="0.2570" stop-color="#ffa500"/><stop offset="0.3015" stop-color="#ffd000"/><stop offset="0.3450" stop-color="#ffec00"/><stop offset="0.3595" stop-color="#f7f600"/><stop offset="0.3740" stop-color="#efff08"/><stop offset="0.4209" stop-color="#ceff29"/><stop offset="0.4426" stop-color="#bdff3a"/><stop offset="0.4660" stop-color="#adff4a"/><stop offset="0.4895" stop-color="#9cff5a"/><stop offset="0.5131" stop-color="#8cff6b"/><stop offset="0.5369" stop-color="#7bff7b"/><stop offset="0.5597" stop-color="#6bff8c"/><stop offset="0.5827" stop-color="#5aff9c"/><stop offset="0.6060" stop-color="#4affad"/><stop offset="0.6296" stop-color="#3affbd"/><stop offset="0.6532" stop-color="#29ffce"/><stop offset="0.6773" stop-color="#19ffde"/><stop offset="0.6837" stop-color="#15ffe2"/><stop offset="0.7029" stop-color="#08f0ef"/><stop offset="0.7339" stop-color="#00e5f7"/><stop offset="0.7648" stop-color="#00dbff"/><stop offset="0.8271" stop-color="#00c7ff"/><stop offset="0.8805" stop-color="#00b2ff"/><stop offset="0.9240" stop-color="#009eff"/><stop offset="0.9646" stop-color="#008aff"/><stop offset="1.0000" stop-color="#0076ff"/></linearGradient>
<linearGradient id="b60" gradientUnits="userSpaceOnUse" x1="226.91" x2="329.00" y1="0" y2="0"><stop offset="0.0000" stop-color="#8c0000"/><stop offset="0.0254" stop-color="#d50000"/><stop offset="0.0623" stop-color="#ea0000"/><stop offset="0.0993" stop-color="#ff1300"/><stop offset="0.1786" stop-color="#ff6800"/><stop offset="0.2526" stop-color="#ffa500"/><stop offset="0.2978" stop-color="#ffd000"/><stop offset="0.3419" stop-color="#ffec00"/><stop offset="0.3566" stop-color="#f7f600"/><stop offset="0.3713" stop-color="#efff08"/><stop offset="0.4185" stop-color="#ceff29"/><stop offset="0.4405" stop-color="#bdff3a"/><stop offset="0.4642" stop-color="#adff4a"/><stop offset="0.4880" stop-color="#9cff5a"/><stop offset="0.5120" stop-color="#8cff6b"/><stop offset="0.5361" stop-color="#7bff7b"/><stop offset="0.5593" stop-color="#6bff8c"/><stop offset="0.5828" stop-color="#5aff9c"/><stop offset="0.6065" stop-color="#4affad"/><stop offset="0.6307" stop-color="#3affbd"/><stop offset="0.6548" stop-color="#29ffce"/><stop offset="0.6795" stop-color="#19ffde"/><stop offset="0.6862" stop-color="#15ffe2"/><stop offset="0.7062" stop-color="#08f0ef"/><stop offset="0.7376" stop-color="#00e5f7"/><stop offset="0.7690" stop-color="#00dbff"/><stop offset="0.8322" stop-color="#00c7ff"/><stop offset="0.8865" stop-color="#00b2ff"/><stop offset="0.9308" stop-color="#009eff"/><stop offset="0.9725" stop-color="#008aff"/><stop offset="1.0000" stop-color="#007aff"/></linearGradient>
<linearGradient id="b61" gradientUnits="userSpaceOnUse" x1="225.26" x2="329.00" y1="0" y2="0"><stop offset="0.0038" stop-color="#8c0000"/><stop offset="0.0352" stop-color="#d50000"/><stop offset="0.0719" stop-color="#ea0000"/><stop offset="0.1085" stop-color="#ff1300"/><stop offset="0.1866" stop-color="#ff6800"/><stop offset="0.2600" stop-color="#ffa500"/><stop offset="0.3052" stop-color="#ffd000"/><stop offset="0.3493" stop-color="#ffec00"/><stop offset="0.3640" stop-color="#f7f600"/><stop offset="0.3787" stop-color="#efff08"/><stop offset="0.4254" stop-color="#ceff29"/><stop offset="0.4474" stop-color="#bdff3a"/><stop offset="0.4710" stop-color="#adff4a"/><stop offset="0.4948" stop-color="#9cff5a"/><stop offset="0.5187" stop-color="#8cff6b"/><stop offset="0.5430" stop-color="#7bff7b"/><stop offset="0.5663" stop-color="#6bff8c"/><stop offset="0.5897" stop-color="#5aff9c"/><stop offset="0.6136" stop-color="#4affad"/><stop offset="0.6380" stop-color="#3affbd"/><stop offset="0.6622" stop-color="#29ffce"/><stop offset="0.6873" stop-color="#19ffde"/><stop offset="0.6941" stop-color="#15ffe2"/><stop offset="0.7147" stop-color="#08f0ef"/><stop offset="0.7461" stop-color="#00e5f7"/><stop offset="0.7775" stop-color="#00dbff"/><stop offset="0.8408" stop-color="#00c7ff"/><stop offset="0.8951" stop-color="#00b2ff"/><stop offset="0.9396" stop-color="#009eff"/><stop offset="0.9817" stop-color="#008aff"/><stop offset="1.0000" stop-color="#007eff"/></linearGradient>
<linearGradient id="b62" gradientUnits="userSpaceOnUse" x1="225.26" x2="329.00" y1="0" y2="0"><stop offset="0.0000" stop-color="#8c0000"/><stop offset="0.0293" stop-color="#d50000"/><stop offset="0.0663" stop-color="#ea0000"/><stop offset="0.1033" stop-color="#ff1300"/><stop offset="0.1814" stop-color="#ff6800"/><stop offset="0.2555" stop-color="#ffa500"/><stop offset="0.3015" stop-color="#ffd000"/><stop offset="0.3463" stop-color="#ffec00"/><stop offset="0.3612" stop-color="#f7f600"/><stop offset="0.3761" stop-color="#efff08"/><stop offset="0.4232" stop-color="#ceff29"/><stop offset="0.4454" stop-color="#bdff3a"/><stop offset="0.4694" stop-color="#adff4a"/><stop offset="0.4936" stop-color="#9cff5a"/><stop offset="0.5180" stop-color="#8cff6b"/><stop offset="0.5427" stop-color="#7bff7b"/><stop offset="0.5664" stop-color="#6bff8c"/><stop offset="0.5904" stop-color="#5aff9c"/><stop offset="0.6149" stop-color="#4affad"/><stop offset="0.6399" stop-color="#3affbd"/><stop offset="0.6647" stop-color="#29ffce"/><stop offset="0.6906" stop-color="#19ffde"/><stop offset="0.6978" stop-color="#15ffe2"/><stop offset="0.7193" stop-color="#08f0ef"/><stop offset="0.7513" stop-color="#00e5f7"/><stop offset="0.7832" stop-color="#00dbff"/><stop offset="0.8477" stop-color="#00c7ff"/><stop offset="0.9030" stop-color="#00b2ff"/><stop offset="0.9484" stop-color="#009eff"/><stop offset="0.9918" stop-color="#008aff"/><stop offset="1.0000" stop-color="#0084ff"/></linearGradient>
<linearGradient id="b63" gradientUnits="userSpaceOnUse" x1="223.61" x2="329.00" y1="0" y2="0"><stop offset="0.0068" stop-color="#8c0000"/><stop offset="0.0384" stop-color="#d50000"/><stop offset="0.0753" stop-color="#ea0000"/><stop offset="0.1122" stop-color="#ff1300"/><stop offset="0.1890" stop-color="#ff6800"/><stop offset="0.2628" stop-color="#ffa500"/><stop offset="0.3089" stop-color="#ffd000"/><stop offset="0.3536" stop-color="#ffec00"/><stop offset="0.3685" stop-color="#f7f600"/><stop offset="0.3834" stop-color="#efff08"/><stop offset="0.4302" stop-color="#ceff29"/><stop offset="0.4524" stop-color="#bdff3a"/><stop offset="0.4763" stop-color="#adff4a"/><stop offset="0.5005" stop-color="#9cff5a"/><stop offset="0.5249" stop-color="#8cff6b"/><stop offset="0.5499" stop-color="#7bff7b"/><stop offset="0.5736" stop-color="#6bff8c"/><stop offset="0.5978" stop-color="#5aff9c"/><stop offset="0.6225" stop-color="#4affad"/><stop offset="0.6479" stop-color="#3affbd"/><stop offset="0.6730" stop-color="#29ffce"/><stop offset="0.6993" stop-color="#19ffde"/><stop offset="0.7067" stop-color="#15ffe2"/><stop offset="0.7290" stop-color="#08f0ef"/><stop offset="0.7611" stop-color="#00e5f7"/><stop offset="0.7932" stop-color="#00dbff"/><stop offset="0.8579" stop-color="#00c7ff"/><stop offset="0.9135" stop-color="#00b2ff"/><stop offset="0.9591" stop-color="#009eff"/><stop offset="1.0000" stop-color="#0089ff"/></linearGradient>
<linearGradient id="b64" gradientUnits="userSpaceOnUse" x1="223.61" x2="329.00" y1="0" y2="0"><stop offset="0.0000" stop-color="#8c0000"/><stop offset="0.0320" stop-color="#d50000"/><stop offset="0.0694" stop-color="#ea0000"/><stop offset="0.1069" stop-color="#ff1300"/><stop offset="0.1838" stop-color="#ff6800"/><stop offset="0.2582" stop-color="#ffa500"/><stop offset="0.3053" stop-color="#ffd000"/><stop offset="0.3507" stop-color="#ffec00"/><stop offset="0.3658" stop-color="#f7f600"/><stop offset="0.3809" stop-color="#efff08"/><stop offset="0.4282" stop-color="#ceff29"/><stop offset="0.4507" stop-color="#bdff3a"/><stop offset="0.4751" stop-color="#adff4a"/><stop offset="0.4997" stop-color="#9cff5a"/><stop offset="0.5247" stop-color="#8cff6b"/><stop offset="0.5502" stop-color="#7bff7b"/><stop offset="0.5745" stop-color="#6bff8c"/><stop offset="0.5993" stop-color="#5aff9c"/><stop offset="0.6247" stop-color="#4affad"/><stop offset="0.6508" stop-color="#3affbd"/><stop offset="0.6767" stop-color="#29ffce"/><stop offset="0.7039" stop-color="#19ffde"/><stop offset="0.7117" stop-color="#15ffe2"/><stop offset="0.7353" stop-color="#08f0ef"/><stop offset="0.7680" stop-color="#00e5f7"/><stop offset="0.8008" stop-color="#00dbff"/><stop offset="0.8669" stop-color="#00c7ff"/><stop offset="0.9236" stop-color="#00b2ff"/><stop offset="0.9702" stop-color="#009eff"/><stop offset="1.0000" stop-color="#008fff"/></linearGradient>
<linearGradient id="b65" gradientUnits="userSpaceOnUse" x1="223.61" x2="329.00" y1="0" y2="0"><stop offset="0.0000" stop-color="#8c0000"/><stop offset="0.0249" stop-color="#d50000"/><stop offset="0.0629" stop-color="#ea0000"/><stop offset="0.1008" stop-color="#ff1300"/><stop offset="0.1778" stop-color="#ff6800"/><stop offset="0.2530" stop-color="#ffa500"/><stop offset="0.3014" stop-color="#ffd000"/><stop offset="0.3477" stop-color="#ffec00"/><stop offset="0.3631" stop-color="#f7f600"/><stop offset="0.3785" stop-color="#efff08"/><stop offset="0.4264" stop-color="#ceff29"/><stop offset="0.4493" stop-color="#bdff3a"/><stop offset="0.4741" stop-color="#adff4a"/><stop offset="0.4991" stop-color="#9cff5a"/><stop offset="0.5247" stop-color="#8cff6b"/><stop offset="0.5509" stop-color="#7bff7b"/><stop offset="0.5758" stop-color="#6bff8c"/><stop offset="0.6012" stop-color="#5aff9c"/><stop offset="0.6274" stop-color="#4affad"/><stop offset="0.6544" stop-color="#3affbd"/><stop offset="0.6810" stop-color="#29ffce"/><stop offset="0.7092" stop-color="#19ffde"/><stop offset="0.7175" stop-color="#15ffe2"/><stop offset="0.7425" stop-color="#08f0ef"/><stop offset="0.7760" stop-color="#00e5f7"/><stop offset="0.8096" stop-color="#00dbff"/><stop offset="0.8772" stop-color="#00c7ff"/><stop offset="0.9352" stop-color="#00b2ff"/><stop offset="0.9829" stop-color="#009eff"/><stop offset="1.0000" stop-color="#0095ff"/></linearGradient>
<linearGradient id="b66" gradientUnits="userSpaceOnUse" x1="221.97" x2="329.00" y1="0" y2="0"><stop offset="0.0002" stop-color="#8c0000"/><stop offset="0.0325" stop-color="#d50000"/><stop offset="0.0702" stop-color="#ea0000"/><stop offset="0.1079" stop-color="#ff1300"/><stop offset="0.1838" stop-color="#ff6800"/><stop offset="0.2588" stop-color="#ffa500"/><stop offset="0.3081" stop-color="#ffd000"/><stop offset="0.3546" stop-color="#ffec00"/><stop offset="0.3702" stop-color="#f7f600"/><stop offset="0.3857" stop-color="#efff08"/><stop offset="0.4336" stop-color="#ceff29"/><stop offset="0.4565" stop-color="#bdff3a"/><stop offset="0.4814" stop-color="#adff4a"/><stop offset="0.5066" stop-color="#9cff5a"/><stop offset="0.5324" stop-color="#8cff6b"/><stop offset="0.5589" stop-color="#7bff7b"/><stop offset="0.5840" stop-color="#6bff8c"/><stop offset="0.6098" stop-color="#5aff9c"/><stop offset="0.6364" stop-color="#4affad"/><stop offset="0.6639" stop-color="#3affbd"/><stop offset="0.6910" stop-color="#29ffce"/><stop offset="0.7198" stop-color="#19ffde"/><stop offset="0.7286" stop-color="#15ffe2"/><stop offset="0.7547" stop-color="#08f0ef"/><stop offset="0.7886" stop-color="#00e5f7"/><stop offset="0.8226" stop-color="#00dbff"/><stop offset="0.8907" stop-color="#00c7ff"/><stop offset="0.9492" stop-color="#00b2ff"/><stop offset="1.0000" stop-color="#009cff"/></linearGradient>
<linearGradient id="b67" gradientUnits="userSpaceOnUse" x1="220.32" x2="329.00" y1="0" y2="0"><stop offset="0.0073" stop-color="#8c0000"/><stop offset="0.0393" stop-color="#d50000"/><stop offset="0.0766" stop-color="#ea0000"/><stop offset="0.1139" stop-color="#ff1300"/><stop offset="0.1889" stop-color="#ff6800"/><stop offset="0.2637" stop-color="#ffa500"/><stop offset="0.3142" stop-color="#ffd000"/><stop offset="0.3613" stop-color="#ffec00"/><stop offset="0.3770" stop-color="#f7f600"/><stop offset="0.3927" stop-color="#efff08"/><stop offset="0.4408" stop-color="#ceff29"/><stop offset="0.4638" stop-color="#bdff3a"/><stop offset="0.4887" stop-color="#adff4a"/><stop offset="0.5141" stop-color="#9cff5a"/><stop offset="0.5402" stop-color="#8cff6b"/><stop offset="0.5671" stop-color="#7bff7b"/><stop offset="0.5926" stop-color="#6bff8c"/><stop offset="0.6187" stop-color="#5aff9c"/><stop offset="0.6458" stop-color="#4affad"/><stop offset="0.6739" stop-color="#3affbd"/><stop offset="0.7014" stop-color="#29ffce"/><stop offset="0.7311" stop-color="#19ffde"/><stop offset="0.7402" stop-color="#15ffe2"/><stop offset="0.7677" stop-color="#08f0ef"/><stop offset="0.8022" stop-color="#00e5f7"/><stop offset="0.8367" stop-color="#00dbff"/><stop offset="0.9054" stop-color="#00c7ff"/><stop offset="0.9646" stop-color="#00b2ff"/><stop offset="1.0000" stop-color="#00a3ff"/></linearGradient>
<linearGradient id="b68" gradientUnits="userSpaceOnUse" x1="220.32" x2="329.00" y1="0" y2="0"><stop offset="0.0000" stop-color="#8c0000"/><stop offset="0.0310" stop-color="#d50000"/><stop offset="0.0684" stop-color="#ea0000"/><stop offset="0.1058" stop-color="#ff1300"/><stop offset="0.1810" stop-color="#ff6800"/><stop offset="0.2569" stop-color="#ffa500"/><stop offset="0.3096" stop-color="#ffd000"/><stop offset="0.3581" stop-color="#ffec00"/><stop offset="0.3742" stop-color="#f7f600"/><stop offset="0.3904" stop-color="#efff08"/><stop offset="0.4396" stop-color="#ceff29"/><stop offset="0.4630" stop-color="#bdff3a"/><stop offset="0.4885" stop-color="#adff4a"/><stop offset="0.5146" stop-color="#9cff5a"/><stop offset="0.5413" stop-color="#8cff6b"/><stop offset="0.5691" stop-color="#7bff7b"/><stop offset="0.5954" stop-color="#6bff8c"/><stop offset="0.6224" stop-color="#5aff9c"/><stop offset="0.6505" stop-color="#4affad"/><stop offset="0.6796" stop-color="#3affbd"/><stop offset="0.7082" stop-color="#29ffce"/><stop offset="0.7391" stop-color="#19ffde"/><stop offset="0.7490" stop-color="#15ffe2"/><stop offset="0.7784" stop-color="#08f0ef"/><stop offset="0.8141" stop-color="#00e5f7"/><stop offset="0.8497" stop-color="#00dbff"/><stop offset="0.9204" stop-color="#00c7ff"/><stop offset="0.9813" stop-color="#00b2ff"/><stop offset="1.0000" stop-color="#00aaff"/></linearGradient>
<linearGradient id="b69" gradientUnits="userSpaceOnUse" x1="218.67" x2="329.00" y1="0" y2="0"><stop offset="0.0052" stop-color="#8c0000"/><stop offset="0.0368" stop-color="#d50000"/><stop offset="0.0736" stop-color="#ea0000"/><stop offset="0.1104" stop-color="#ff1300"/><stop offset="0.1850" stop-color="#ff6800"/><stop offset="0.2609" stop-color="#ffa500"/><stop offset="0.3151" stop-color="#ffd000"/><stop offset="0.3644" stop-color="#ffec00"/><stop offset="0.3808" stop-color="#f7f600"/><stop offset="0.3973" stop-color="#efff08"/><stop offset="0.4470" stop-color="#ceff29"/><stop offset="0.4706" stop-color="#bdff3a"/><stop offset="0.4963" stop-color="#adff4a"/><stop offset="0.5226" stop-color="#9cff5a"/><stop offset="0.5498" stop-color="#8cff6b"/><stop offset="0.5782" stop-color="#7bff7b"/><stop offset="0.6048" stop-color="#6bff8c"/><stop offset="0.6324" stop-color="#5aff9c"/><stop offset="0.6611" stop-color="#4affad"/><stop offset="0.6910" stop-color="#3affbd"/><stop offset="0.7202" stop-color="#29ffce"/><stop offset="0.7521" stop-color="#19ffde"/><stop offset="0.7625" stop-color="#15ffe2"/><stop offset="0.7937" stop-color="#08f0ef"/><stop offset="0.8302" stop-color="#00e5f7"/><stop offset="0.8667" stop-color="#00dbff"/><stop offset="0.9385" stop-color="#00c7ff"/><stop offset="1.0000" stop-color="#00b2ff"/></linearGradient>
<linearGradient id="b70" gradientUnits="userSpaceOnUse" x1="218.67" x2="329.00" y1="0" y2="0"><stop offset="0.0000" stop-color="#8c0000"/><stop offset="0.0275" stop-color="#d50000"/><stop offset="0.0643" stop-color="#ea0000"/><stop offset="0.1011" stop-color="#ff1300"/><stop offset="0.1761" stop-color="#ff6800"/><stop offset="0.2534" stop-color="#ffa500"/><stop offset="0.3102" stop-color="#ffd000"/><stop offset="0.3611" stop-color="#ffec00"/><stop offset="0.3781" stop-color="#f7f600"/><stop offset="0.3951" stop-color="#efff08"/><stop offset="0.4463" stop-color="#ceff29"/><stop offset="0.4705" stop-color="#bdff3a"/><stop offset="0.4969" stop-color="#adff4a"/><stop offset="0.5239" stop-color="#9cff5a"/><stop offset="0.5520" stop-color="#8cff6b"/><stop offset="0.5814" stop-color="#7bff7b"/><stop offset="0.6090" stop-color="#6bff8c"/><stop offset="0.6376" stop-color="#5aff9c"/><stop offset="0.6675" stop-color="#4affad"/><stop offset="0.6987" stop-color="#3affbd"/><stop offset="0.7290" stop-color="#29ffce"/><stop offset="0.7626" stop-color="#19ffde"/><stop offset="0.7738" stop-color="#15ffe2"/><stop offset="0.8076" stop-color="#08f0ef"/><stop offset="0.8457" stop-color="#00e5f7"/><stop offset="0.8837" stop-color="#00dbff"/><stop offset="0.9582" stop-color="#00c7ff"/><stop offset="1.0000" stop-color="#00baff"/></linearGradient>
<linearGradient id="b71" gradientUnits="userSpaceOnUse" x1="217.03" x2="329.00" y1="0" y2="0"><stop offset="0.0010" stop-color="#8c0000"/><stop offset="0.0321" stop-color="#d50000"/><stop offset="0.0683" stop-color="#ea0000"/><stop offset="0.1046" stop-color="#ff1300"/><stop offset="0.1791" stop-color="#ff6800"/><stop offset="0.2567" stop-color="#ffa500"/><stop offset="0.3153" stop-color="#ffd000"/><stop offset="0.3672" stop-color="#ffec00"/><stop offset="0.3845" stop-color="#f7f600"/><stop offset="0.4018" stop-color="#efff08"/><stop offset="0.4540" stop-color="#ceff29"/><stop offset="0.4786" stop-color="#bdff3a"/><stop offset="0.5053" stop-color="#adff4a"/><stop offset="0.5328" stop-color="#9cff5a"/><stop offset="0.5614" stop-color="#8cff6b"/><stop offset="0.5915" stop-color="#7bff7b"/><stop offset="0.6197" stop-color="#6bff8c"/><stop offset="0.6489" stop-color="#5aff9c"/><stop offset="0.6798" stop-color="#4affad"/><stop offset="0.7118" stop-color="#3affbd"/><stop offset="0.7430" stop-color="#29ffce"/><stop offset="0.7779" stop-color="#19ffde"/><stop offset="0.7900" stop-color="#15ffe2"/><stop offset="0.8263" stop-color="#08f0ef"/><stop offset="0.8656" stop-color="#00e5f7"/><stop offset="0.9048" stop-color="#00dbff"/><stop offset="0.9813" stop-color="#00c7ff"/><stop offset="1.0000" stop-color="#00c1ff"/></linearGradient>
<linearGradient id="b72" gradientUnits="userSpaceOnUse" x1="215.38" x2="329.00" y1="0" y2="0"><stop offset="0.0051" stop-color="#8c0000"/><stop offset="0.0358" stop-color="#d50000"/><stop offset="0.0716" stop-color="#ea0000"/><stop offset="0.1075" stop-color="#ff1300"/><stop offset="0.1817" stop-color="#ff6800"/><stop offset="0.2596" stop-color="#ffa500"/><stop offset="0.3201" stop-color="#ffd000"/><stop offset="0.3730" stop-color="#ffec00"/><stop offset="0.3907" stop-color="#f7f600"/><stop offset="0.4083" stop-color="#efff08"/><stop offset="0.4619" stop-color="#ceff29"/><stop offset="0.4869" stop-color="#bdff3a"/><stop offset="0.5140" stop-color="#adff4a"/><stop offset="0.5420" stop-color="#9cff5a"/><stop offset="0.5712" stop-color="#8cff6b"/><stop offset="0.6021" stop-color="#7bff7b"/><stop offset="0.6310" stop-color="#6bff8c"/><stop offset="0.6611" stop-color="#5aff9c"/><stop offset="0.6929" stop-color="#4affad"/><stop offset="0.7260" stop-color="#3affbd"/><stop offset="0.7581" stop-color="#29ffce"/><stop offset="0.7944" stop-color="#19ffde"/><stop offset="0.8076" stop-color="#15ffe2"/><stop offset="0.8473" stop-color="#08f0ef"/><stop offset="0.8879" stop-color="#00e5f7"/><stop offset="0.9286" stop-color="#00dbff"/><stop offset="1.0000" stop-color="#00c9ff"/></linearGradient>
<linearGradient id="b73" gradientUnits="userSpaceOnUse" x1="215.38" x2="329.00" y1="0" y2="0"><stop offset="0.0000" stop-color="#8c0000"/><stop offset="0.0248" stop-color="#d50000"/><stop offset="0.0609" stop-color="#ea0000"/><stop offset="0.0969" stop-color="#ff1300"/><stop offset="0.1720" stop-color="#ff6800"/><stop offset="0.2516" stop-color="#ffa500"/><stop offset="0.3149" stop-color="#ffd000"/><stop offset="0.3697" stop-color="#ffec00"/><stop offset="0.3879" stop-color="#f7f600"/><stop offset="0.4062" stop-color="#efff08"/><stop offset="0.4624" stop-color="#ceff29"/><stop offset="0.4882" stop-color="#bdff3a"/><stop offset="0.5161" stop-color="#adff4a"/><stop offset="0.5451" stop-color="#9cff5a"/><stop offset="0.5755" stop-color="#8cff6b"/><stop offset="0.6078" stop-color="#7bff7b"/><stop offset="0.6380" stop-color="#6bff8c"/><stop offset="0.6693" stop-color="#5aff9c"/><stop offset="0.7027" stop-color="#4affad"/><stop offset="0.7375" stop-color="#3affbd"/><stop offset="0.7712" stop-color="#29ffce"/><stop offset="0.8097" stop-color="#19ffde"/><stop offset="0.8245" stop-color="#15ffe2"/><stop offset="0.8687" stop-color="#08f0ef"/><stop offset="0.9120" stop-color="#00e5f7"/><stop offset="0.9552" stop-color="#00dbff"/><stop offset="1.0000" stop-color="#00d1ff"/></linearGradient>
<linearGradient id="b74" gradientUnits="userSpaceOnUse" x1="213.73" x2="329.00" y1="0" y2="0"><stop offset="0.0000" stop-color="#8c0000"/><stop offset="0.0273" stop-color="#d50000"/><stop offset="0.0632" stop-color="#ea0000"/><stop offset="0.0990" stop-color="#ff1300"/><stop offset="0.1741" stop-color="#ff6800"/><stop offset="0.2543" stop-color="#ffa500"/><stop offset="0.3196" stop-color="#ffd000"/><stop offset="0.3754" stop-color="#ffec00"/><stop offset="0.3940" stop-color="#f7f600"/><stop offset="0.4126" stop-color="#efff08"/><stop offset="0.4709" stop-color="#ceff29"/><stop offset="0.4973" stop-color="#bdff3a"/><stop offset="0.5258" stop-color="#adff4a"/><stop offset="0.5555" stop-color="#9cff5a"/><stop offset="0.5868" stop-color="#8cff6b"/><stop offset="0.6201" stop-color="#7bff7b"/><stop offset="0.6512" stop-color="#6bff8c"/><stop offset="0.6836" stop-color="#5aff9c"/><stop offset="0.7182" stop-color="#4affad"/><stop offset="0.7544" stop-color="#3affbd"/><stop offset="0.7893" stop-color="#29ffce"/><stop offset="0.8306" stop-color="#19ffde"/><stop offset="0.8469" stop-color="#15ffe2"/><stop offset="0.8956" stop-color="#08f0ef"/><stop offset="0.9412" stop-color="#00e5f7"/><stop offset="0.9869" stop-color="#00dbff"/><stop offset="1.0000" stop-color="#00d8ff"/></linearGradient>
<linearGradient id="b75" gradientUnits="userSpaceOnUse" x1="212.09" x2="329.00" y1="0" y2="0"><stop offset="0.0000" stop-color="#8c0000"/><stop offset="0.0294" stop-color="#d50000"/><stop offset="0.0650" stop-color="#ea0000"/><stop offset="0.1006" stop-color="#ff1300"/><stop offset="0.1759" stop-color="#ff6800"/><stop offset="0.2569" stop-color="#ffa500"/><stop offset="0.3241" stop-color="#ffd000"/><stop offset="0.3809" stop-color="#ffec00"/><stop offset="0.3999" stop-color="#f7f600"/><stop offset="0.4188" stop-color="#efff08"/><stop offset="0.4798" stop-color="#ceff29"/><stop offset="0.5069" stop-color="#bdff3a"/><stop offset="0.5361" stop-color="#adff4a"/><stop offset="0.5665" stop-color="#9cff5a"/><stop offset="0.5988" stop-color="#8cff6b"/><stop offset="0.6333" stop-color="#7bff7b"/><stop offset="0.6655" stop-color="#6bff8c"/><stop offset="0.6991" stop-color="#5aff9c"/><stop offset="0.7352" stop-color="#4affad"/><stop offset="0.7729" stop-color="#3affbd"/><stop offset="0.8093" stop-color="#29ffce"/><stop offset="0.8543" stop-color="#19ffde"/><stop offset="0.8723" stop-color="#15ffe2"/><stop offset="0.9266" stop-color="#08f0ef"/><stop offset="0.9758" stop-color="#00e5f7"/><stop offset="1.0000" stop-color="#00e0fb"/></linearGradient>
<linearGradient id="b76" gradientUnits="userSpaceOnUse" x1="210.44" x2="329.00" y1="0" y2="0"><stop offset="0.0006" stop-color="#8c0000"/><stop offset="0.0310" stop-color="#d50000"/><stop offset="0.0664" stop-color="#ea0000"/><stop offset="0.1019" stop-color="#ff1300"/><stop offset="0.1775" stop-color="#ff6800"/><stop offset="0.2594" stop-color="#ffa500"/><stop offset="0.3284" stop-color="#ffd000"/><stop offset="0.3863" stop-color="#ffec00"/><stop offset="0.4056" stop-color="#f7f600"/><stop offset="0.4248" stop-color="#efff08"/><stop offset="0.4891" stop-color="#ceff29"/><stop offset="0.5170" stop-color="#bdff3a"/><stop offset="0.5470" stop-color="#adff4a"/><stop offset="0.5783" stop-color="#9cff5a"/><stop offset="0.6117" stop-color="#8cff6b"/><stop offset="0.6475" stop-color="#7bff7b"/><stop offset="0.6810" stop-color="#6bff8c"/><stop offset="0.7161" stop-color="#5aff9c"/><stop offset="0.7539" stop-color="#4affad"/><stop offset="0.7934" stop-color="#3affbd"/><stop offset="0.8326" stop-color="#29ffce"/><stop offset="0.8811" stop-color="#19ffde"/><stop offset="0.9018" stop-color="#15ffe2"/><stop offset="0.9639" stop-color="#08f0ef"/><stop offset="1.0000" stop-color="#03e9f4"/></linearGradient>
<linearGradient id="b77" gradientUnits="userSpaceOnUse" x1="208.79" x2="329.00" y1="0" y2="0"><stop offset="0.0007" stop-color="#8c0000"/><stop offset="0.0313" stop-color="#d50000"/><stop offset="0.0671" stop-color="#ea0000"/><stop offset="0.1028" stop-color="#ff1300"/><stop offset="0.1790" stop-color="#ff6800"/><stop offset="0.2619" stop-color="#ffa500"/><stop offset="0.3327" stop-color="#ffd000"/><stop offset="0.3915" stop-color="#ffec00"/><stop offset="0.4111" stop-color="#f7f600"/><stop offset="0.4307" stop-color="#efff08"/><stop offset="0.4989" stop-color="#ceff29"/><stop offset="0.5278" stop-color="#bdff3a"/><stop offset="0.5586" stop-color="#adff4a"/><stop offset="0.5911" stop-color="#9cff5a"/><stop offset="0.6257" stop-color="#8cff6b"/><stop offset="0.6631" stop-color="#7bff7b"/><stop offset="0.6981" stop-color="#6bff8c"/><stop offset="0.7349" stop-color="#5aff9c"/><stop offset="0.7748" stop-color="#4affad"/><stop offset="0.8170" stop-color="#3affbd"/><stop offset="0.8599" stop-color="#29ffce"/><stop offset="0.9124" stop-color="#19ffde"/><stop offset="0.9362" stop-color="#15ffe2"/><stop offset="1.0000" stop-color="#0af1ed"/></linearGradient>
<linearGradient id="b78" gradientUnits="userSpaceOnUse" x1="207.15" x2="329.00" y1="0" y2="0"><stop offset="0.0000" stop-color="#8c0000"/><stop offset="0.0296" stop-color="#d50000"/><stop offset="0.0666" stop-color="#ea0000"/><stop offset="0.1035" stop-color="#ff1300"/><stop offset="0.1804" stop-color="#ff6800"/><stop offset="0.2645" stop-color="#ffa500"/><stop offset="0.3370" stop-color="#ffd000"/><stop offset="0.3967" stop-color="#ffec00"/><stop offset="0.4166" stop-color="#f7f600"/><stop offset="0.4364" stop-color="#efff08"/><stop offset="0.5093" stop-color="#ceff29"/><stop offset="0.5393" stop-color="#bdff3a"/><stop offset="0.5713" stop-color="#adff4a"/><stop offset="0.6049" stop-color="#9cff5a"/><stop offset="0.6411" stop-color="#8cff6b"/><stop offset="0.6804" stop-color="#7bff7b"/><stop offset="0.7172" stop-color="#6bff8c"/><stop offset="0.7560" stop-color="#5aff9c"/><stop offset="0.7984" stop-color="#4affad"/><stop offset="0.8452" stop-color="#3affbd"/><stop offset="0.8917" stop-color="#29ffce"/><stop offset="0.9502" stop-color="#19ffde"/><stop offset="0.9740" stop-color="#15ffe2"/><stop offset="1.0000" stop-color="#10f9e7"/></linearGradient>
<linearGradient id="b79" gradientUnits="userSpaceOnUse" x1="203.85" x2="329.00" y1="0" y2="0"><stop offset="0.0041" stop-color="#8c0000"/><stop offset="0.0376" stop-color="#d50000"/><stop offset="0.0766" stop-color="#ea0000"/><stop offset="0.1157" stop-color="#ff1300"/><stop offset="0.1926" stop-color="#ff6800"/><stop offset="0.2768" stop-color="#ffa500"/><stop offset="0.3498" stop-color="#ffd000"/><stop offset="0.4096" stop-color="#ffec00"/><stop offset="0.4295" stop-color="#f7f600"/><stop offset="0.4494" stop-color="#efff08"/><stop offset="0.5268" stop-color="#ceff29"/><stop offset="0.5578" stop-color="#bdff3a"/><stop offset="0.5906" stop-color="#adff4a"/><stop offset="0.6252" stop-color="#9cff5a"/><stop offset="0.6627" stop-color="#8cff6b"/><stop offset="0.7036" stop-color="#7bff7b"/><stop offset="0.7422" stop-color="#6bff8c"/><stop offset="0.7830" stop-color="#5aff9c"/><stop offset="0.8295" stop-color="#4affad"/><stop offset="0.8811" stop-color="#3affbd"/><stop offset="0.9313" stop-color="#29ffce"/><stop offset="1.0000" stop-color="#17ffdf"/></linearGradient>
<linearGradient id="b80" gradientUnits="userSpaceOnUse" x1="202.21" x2="329.00" y1="0" y2="0"><stop offset="0.0000" stop-color="#8c0000"/><stop offset="0.0319" stop-color="#d50000"/><stop offset="0.0734" stop-color="#ea0000"/><stop offset="0.1149" stop-color="#ff1300"/><stop offset="0.1934" stop-color="#ff6800"/><stop offset="0.2792" stop-color="#ffa500"/><stop offset="0.3537" stop-color="#ffd000"/><stop offset="0.4143" stop-color="#ffec00"/><stop offset="0.4344" stop-color="#f7f600"/><stop offset="0.4546" stop-color="#efff08"/><stop offset="0.5387" stop-color="#ceff29"/><stop offset="0.5713" stop-color="#bdff3a"/><stop offset="0.6056" stop-color="#adff4a"/><stop offset="0.6420" stop-color="#9cff5a"/><stop offset="0.6816" stop-color="#8cff6b"/><stop offset="0.7252" stop-color="#7bff7b"/><stop offset="0.7667" stop-color="#6bff8c"/><stop offset="0.8112" stop-color="#5aff9c"/><stop offset="0.8655" stop-color="#4affad"/><stop offset="0.9230" stop-color="#3affbd"/><stop offset="0.9801" stop-color="#29ffce"/><stop offset="1.0000" stop-color="#21ffd5"/></linearGradient>
<linearGradient id="b81" gradientUnits="userSpaceOnUse" x1="198.91" x2="329.00" y1="0" y2="0"><stop offset="0.0023" stop-color="#8c0000"/><stop offset="0.0390" stop-color="#d50000"/><stop offset="0.0817" stop-color="#ea0000"/><stop offset="0.1245" stop-color="#ff1300"/><stop offset="0.2040" stop-color="#ff6800"/><stop offset="0.2905" stop-color="#ffa500"/><stop offset="0.3656" stop-color="#ffd000"/><stop offset="0.4262" stop-color="#ffec00"/><stop offset="0.4464" stop-color="#f7f600"/><stop offset="0.4666" stop-color="#efff08"/><stop offset="0.5575" stop-color="#ceff29"/><stop offset="0.5916" stop-color="#bdff3a"/><stop offset="0.6272" stop-color="#adff4a"/><stop offset="0.6653" stop-color="#9cff5a"/><stop offset="0.7071" stop-color="#8cff6b"/><stop offset="0.7535" stop-color="#7bff7b"/><stop offset="0.7980" stop-color="#6bff8c"/><stop offset="0.8503" stop-color="#5aff9c"/><stop offset="0.9132" stop-color="#4affad"/><stop offset="0.9791" stop-color="#3affbd"/><stop offset="1.0000" stop-color="#31ffc6"/></linearGradient>
<linearGradient id="b82" gradientUnits="userSpaceOnUse" x1="197.27" x2="329.00" y1="0" y2="0"><stop offset="0.0000" stop-color="#8c0000"/><stop offset="0.0334" stop-color="#d50000"/><stop offset="0.0776" stop-color="#ea0000"/><stop offset="0.1218" stop-color="#ff1300"/><stop offset="0.2039" stop-color="#ff6800"/><stop offset="0.2924" stop-color="#ffa500"/><stop offset="0.3691" stop-color="#ffd000"/><stop offset="0.4305" stop-color="#ffec00"/><stop offset="0.4510" stop-color="#f7f600"/><stop offset="0.4714" stop-color="#efff08"/><stop offset="0.5718" stop-color="#ceff29"/><stop offset="0.6084" stop-color="#bdff3a"/><stop offset="0.6463" stop-color="#adff4a"/><stop offset="0.6870" stop-color="#9cff5a"/><stop offset="0.7323" stop-color="#8cff6b"/><stop offset="0.7833" stop-color="#7bff7b"/><stop offset="0.8362" stop-color="#6bff8c"/><stop offset="0.9012" stop-color="#5aff9c"/><stop offset="0.9778" stop-color="#4affad"/><stop offset="1.0000" stop-color="#43ffb4"/></linearGradient>
<linearGradient id="b83" gradientUnits="userSpaceOnUse" x1="193.97" x2="329.00" y1="0" y2="0"><stop offset="0.0004" stop-color="#8c0000"/><stop offset="0.0390" stop-color="#d50000"/><stop offset="0.0841" stop-color="#ea0000"/><stop offset="0.1292" stop-color="#ff1300"/><stop offset="0.2131" stop-color="#ff6800"/><stop offset="0.3028" stop-color="#ffa500"/><stop offset="0.3800" stop-color="#ffd000"/><stop offset="0.4416" stop-color="#ffec00"/><stop offset="0.4621" stop-color="#f7f600"/><stop offset="0.4826" stop-color="#efff08"/><stop offset="0.5930" stop-color="#ceff29"/><stop offset="0.6323" stop-color="#bdff3a"/><stop offset="0.6726" stop-color="#adff4a"/><stop offset="0.7164" stop-color="#9cff5a"/><stop offset="0.7659" stop-color="#8cff6b"/><stop offset="0.8252" stop-color="#7bff7b"/><stop offset="0.8951" stop-color="#6bff8c"/><stop offset="0.9762" stop-color="#5aff9c"/><stop offset="1.0000" stop-color="#56ffa1"/></linearGradient>
<linearGradient id="b84" gradientUnits="userSpaceOnUse" x1="190.68" x2="329.00" y1="0" y2="0"><stop offset="0.0051" stop-color="#8c0000"/><stop offset="0.0442" stop-color="#d50000"/><stop offset="0.0898" stop-color="#ea0000"/><stop offset="0.1355" stop-color="#ff1300"/><stop offset="0.2216" stop-color="#ff6800"/><stop offset="0.3126" stop-color="#ffa500"/><stop offset="0.3904" stop-color="#ffd000"/><stop offset="0.4521" stop-color="#ffec00"/><stop offset="0.4726" stop-color="#f7f600"/><stop offset="0.4932" stop-color="#efff08"/><stop offset="0.6161" stop-color="#ceff29"/><stop offset="0.6590" stop-color="#bdff3a"/><stop offset="0.7029" stop-color="#adff4a"/><stop offset="0.7511" stop-color="#9cff5a"/><stop offset="0.8082" stop-color="#8cff6b"/><stop offset="0.8888" stop-color="#7bff7b"/><stop offset="0.9854" stop-color="#6bff8c"/><stop offset="1.0000" stop-color="#68ff8f"/></linearGradient>
<linearGradient id="b85" gradientUnits="userSpaceOnUse" x1="189.03" x2="329.00" y1="0" y2="0"><stop offset="0.0010" stop-color="#8c0000"/><stop offset="0.0399" stop-color="#d50000"/><stop offset="0.0854" stop-color="#ea0000"/><stop offset="0.1308" stop-color="#ff1300"/><stop offset="0.2204" stop-color="#ff6800"/><stop offset="0.3139" stop-color="#ffa500"/><stop offset="0.3933" stop-color="#ffd000"/><stop offset="0.4558" stop-color="#ffec00"/><stop offset="0.4766" stop-color="#f7f600"/><stop offset="0.4974" stop-color="#efff08"/><stop offset="0.6377" stop-color="#ceff29"/><stop offset="0.6865" stop-color="#bdff3a"/><stop offset="0.7364" stop-color="#adff4a"/><stop offset="0.7938" stop-color="#9cff5a"/><stop offset="0.8776" stop-color="#8cff6b"/><stop offset="1.0000" stop-color="#7bff7c"/></linearGradient>
<linearGradient id="b86" gradientUnits="userSpaceOnUse" x1="187.39" x2="329.00" y1="0" y2="0"><stop offset="0.0000" stop-color="#8c0000"/><stop offset="0.0370" stop-color="#d50000"/><stop offset="0.0813" stop-color="#ea0000"/><stop offset="0.1256" stop-color="#ff1300"/><stop offset="0.2189" stop-color="#ff6800"/><stop offset="0.3150" stop-color="#ffa500"/><stop offset="0.3960" stop-color="#ffd000"/><stop offset="0.4594" stop-color="#ffec00"/><stop offset="0.4805" stop-color="#f7f600"/><stop offset="0.5016" stop-color="#efff08"/><stop offset="0.6644" stop-color="#ceff29"/><stop offset="0.7220" stop-color="#bdff3a"/><stop offset="0.7832" stop-color="#adff4a"/><stop offset="0.8745" stop-color="#9cff5a"/><stop offset="1.0000" stop-color="#8eff69"/></linearGradient>
<linearGradient id="b87" gradientUnits="userSpaceOnUse" x1="185.74" x2="329.00" y1="0" y2="0"><stop offset="0.0019" stop-color="#8c0000"/><stop offset="0.0373" stop-color="#d50000"/><stop offset="0.0787" stop-color="#ea0000"/><stop offset="0.1200" stop-color="#ff1300"/><stop offset="0.2173" stop-color="#ff6800"/><stop offset="0.3161" stop-color="#ffa500"/><stop offset="0.3986" stop-color="#ffd000"/><stop offset="0.4629" stop-color="#ffec00"/><stop offset="0.4843" stop-color="#f7f600"/><stop offset="0.5057" stop-color="#efff08"/><stop offset="0.6990" stop-color="#ceff29"/><stop offset="0.7781" stop-color="#bdff3a"/><stop offset="0.8908" stop-color="#adff4a"/><stop offset="1.0000" stop-color="#a4ff53"/></linearGradient>
<linearGradient id="b88" gradientUnits="userSpaceOnUse" x1="185.74" x2="329.00" y1="0" y2="0"><stop offset="0.0000" stop-color="#8c0000"/><stop offset="0.0289" stop-color="#d50000"/><stop offset="0.0664" stop-color="#ea0000"/><stop offset="0.1039" stop-color="#ff1300"/><stop offset="0.2064" stop-color="#ff6800"/><stop offset="0.3092" stop-color="#ffa500"/><stop offset="0.3943" stop-color="#ffd000"/><stop offset="0.4602" stop-color="#ffec00"/><stop offset="0.4821" stop-color="#f7f600"/><stop offset="0.5041" stop-color="#efff08"/><stop offset="0.7498" stop-color="#ceff29"/><stop offset="1.0000" stop-color="#bbff3b"/></linearGradient>
<linearGradient id="b89" gradientUnits="userSpaceOnUse" x1="184.09" x2="329.00" y1="0" y2="0"><stop offset="0.0040" stop-color="#8c0000"/><stop offset="0.0322" stop-color="#d50000"/><stop offset="0.0650" stop-color="#ea0000"/><stop offset="0.0978" stop-color="#ff1300"/><stop offset="0.2045" stop-color="#ff6800"/><stop offset="0.3102" stop-color="#ffa500"/><stop offset="0.3968" stop-color="#ffd000"/><stop offset="0.4636" stop-color="#ffec00"/><stop offset="0.4858" stop-color="#f7f600"/><stop offset="0.5081" stop-color="#efff08"/><stop offset="0.8996" stop-color="#ceff29"/><stop offset="1.0000" stop-color="#cbff2c"/></linearGradient>
<linearGradient id="b90" gradientUnits="userSpaceOnUse" x1="184.09" x2="329.00" y1="0" y2="0"><stop offset="0.0000" stop-color="#8c0000"/><stop offset="0.0244" stop-color="#d50000"/><stop offset="0.0533" stop-color="#ea0000"/><stop offset="0.0822" stop-color="#ff1300"/><stop offset="0.1940" stop-color="#ff6800"/><stop offset="0.3037" stop-color="#ffa500"/><stop offset="0.3927" stop-color="#ffd000"/><stop offset="0.4610" stop-color="#ffec00"/><stop offset="0.4838" stop-color="#f7f600"/><stop offset="0.5066" stop-color="#efff08"/><stop offset="1.0000" stop-color="#d9ff1e"/></linearGradient>
<linearGradient id="cb" x1="0" x2="1" y1="0" y2="0"><stop offset="0.0000" stop-color="#0000b8"/><stop offset="0.0500" stop-color="#0000d8"/><stop offset="0.1000" stop-color="#0000f9"/><stop offset="0.1100" stop-color="#0000ff"/><stop offset="0.1250" stop-color="#0000ff"/><stop offset="0.1500" stop-color="#0019ff"/><stop offset="0.2000" stop-color="#004dff"/><stop offset="0.2500" stop-color="#0080ff"/><stop offset="0.3000" stop-color="#00b2ff"/><stop offset="0.3400" stop-color="#00dbff"/><stop offset="0.3500" stop-color="#00e5f7"/><stop offset="0.3750" stop-color="#15ffe2"/><stop offset="0.4000" stop-color="#29ffce"/><stop offset="0.4500" stop-color="#52ffa5"/><stop offset="0.5000" stop-color="#7bff7b"/><stop offset="0.5500" stop-color="#a5ff52"/><stop offset="0.6000" stop-color="#ceff29"/><stop offset="0.6400" stop-color="#efff08"/><stop offset="0.6500" stop-color="#f7f600"/><stop offset="0.6600" stop-color="#ffec00"/><stop offset="0.7000" stop-color="#ffc600"/><stop offset="0.7500" stop-color="#ff9700"/><stop offset="0.8000" stop-color="#ff6800"/><stop offset="0.8500" stop-color="#ff3900"/><stop offset="0.8900" stop-color="#ff1300"/><stop offset="0.9000" stop-color="#f50900"/><stop offset="0.9100" stop-color="#ea0000"/><stop offset="0.9500" stop-color="#c00000"/><stop offset="1.0000" stop-color="#8c0000"/></linearGradient>
</defs>
<g shape-rendering="crispEdges">
<rect x="172.57" y="165.96" width="156.43" height="1.19" fill="url(#a0)"/>
<rect x="172.57" y="164.17" width="156.43" height="2.09" fill="url(#a1)"/>
<rect x="174.21" y="162.38" width="154.79" height="2.09" fill="url(#a2)"/>
<rect x="175.86" y="160.59" width="153.14" height="2.09" fill="url(#a3)"/>
<rect x="177.51" y="158.80" width="151.49" height="2.09" fill="url(#a4)"/>
<rect x="179.15" y="157.01" width="149.85" height="2.09" fill="url(#a5)"/>
<rect x="180.80" y="155.23" width="148.20" height="2.09" fill="url(#a6)"/>
<rect x="184.09" y="153.44" width="144.91" height="2.09" fill="url(#a7)"/>
<rect x="185.74" y="151.65" width="143.26" height="2.09" fill="url(#a8)"/>
<rect x="189.03" y="149.86" width="139.97" height="2.09" fill="url(#a9)"/>
<rect x="192.33" y="148.07" width="136.67" height="2.09" fill="url(#a10)"/>
<rect x="195.62" y="146.28" width="133.38" height="2.09" fill="url(#a11)"/>
<rect x="198.91" y="144.50" width="130.09" height="2.09" fill="url(#a12)"/>
<rect x="202.21" y="142.71" width="126.79" height="2.09" fill="url(#a13)"/>
<rect x="205.50" y="140.92" width="123.50" height="2.09" fill="url(#a14)"/>
<rect x="208.79" y="139.13" width="120.21" height="2.09" fill="url(#a15)"/>
<rect x="212.09" y="137.34" width="116.91" height="2.09" fill="url(#a16)"/>
<rect x="215.38" y="135.55" width="113.62" height="2.09" fill="url(#a17)"/>
<rect x="217.03" y="133.77" width="111.97" height="2.09" fill="url(#a18)"/>
<rect x="220.32" y="131.98" width="108.68" height="2.09" fill="url(#a19)"/>
<rect x="221.97" y="130.19" width="107.03" height="2.09" fill="url(#a20)"/>
<rect x="223.61" y="128.40" width="105.39" height="2.09" fill="url(#a21)"/>
<rect x="225.26" y="126.61" width="103.74" height="2.09" fill="url(#a22)"/>
<rect x="225.26" y="124.82" width="103.74" height="2.09" fill="url(#a23)"/>
<rect x="226.91" y="123.04" width="102.09" height="2.09" fill="url(#a24)"/>
<rect x="228.55" y="121.25" width="100.45" height="2.09" fill="url(#a25)"/>
<rect x="228.55" y="119.46" width="100.45" height="2.09" fill="url(#a26)"/>
<rect x="230.20" y="117.67" width="98.80" height="2.09" fill="url(#a27)"/>
<rect x="230.20" y="115.88" width="98.80" height="2.09" fill="url(#a28)"/>
<rect x="231.85" y="114.09" width="97.15" height="2.09" fill="url(#a29)"/>
<rect x="231.85" y="112.31" width="97.15" height="2.09" fill="url(#a30)"/>
<rect x="231.85" y="110.52" width="97.15" height="2.09" fill="url(#a31)"/>
<rect x="233.49" y="108.73" width="95.51" height="2.09" fill="url(#a32)"/>
<rect x="233.49" y="106.94" width="95.51" height="2.09" fill="url(#a33)"/>
<rect x="233.49" y="105.15" width="95.51" height="2.09" fill="url(#a34)"/>
<rect x="233.49" y="103.36" width="95.51" height="2.09" fill="url(#a35)"/>
<rect x="233.49" y="101.58" width="95.51" height="2.09" fill="url(#a36)"/>
<rect x="233.49" y="99.79" width="95.51" height="2.09" fill="url(#a37)"/>
<rect x="233.49" y="98.00" width="95.51" height="2.09" fill="url(#a38)"/>
<rect x="233.49" y="96.21" width="95.51" height="2.09" fill="url(#a39)"/>
<rect x="233.49" y="94.42" width="95.51" height="2.09" fill="url(#a40)"/>
<rect x="233.49" y="92.63" width="95.51" height="2.09" fill="url(#a41)"/>
<rect x="233.49" y="90.85" width="95.51" height="2.09" fill="url(#a42)"/>
<rect x="233.49" y="89.06" width="95.51" height="2.09" fill="url(#a43)"/>
<rect x="233.49" y="87.27" width="95.51" height="2.09" fill="url(#a44)"/>
<rect x="233.49" y="85.48" width="95.51" height="2.09" fill="url(#a45)"/>
<rect x="233.49" y="83.69" width="95.51" height="2.09" fill="url(#a46)"/>
<rect x="233.49" y="81.90" width="95.51" height="2.09" fill="url(#a47)"/>
<rect x="233.49" y="80.12" width="95.51" height="2.09" fill="url(#a48)"/>
<rect x="233.49" y="78.33" width="95.51" height="2.09" fill="url(#a49)"/>
<rect x="231.85" y="76.54" width="97.15" height="2.09" fill="url(#a50)"/>
<rect x="231.85" y="74.75" width="97.15" height="2.09" fill="url(#a51)"/>
<rect x="231.85" y="72.96" width="97.15" height="2.09" fill="url(#a52)"/>
<rect x="231.85" y="71.17" width="97.15" height="2.09" fill="url(#a53)"/>
<rect x="230.20" y="69.39" width="98.80" height="2.09" fill="url(#a54)"/>
<rect x="230.20" y="67.60" width="98.80" height="2.09" fill="url(#a55)"/>
<rect x="230.20" y="65.81" width="98.80" height="2.09" fill="url(#a56)"/>
<rect x="228.55" y="64.02" width="100.45" height="2.09" fill="url(#a57)"/>
<rect x="228.55" y="62.23" width="100.45" height="2.09" fill="url(#a58)"/>
<rect x="228.55" y="60.44" width="100.45" height="2.09" fill="url(#a59)"/>
<rect x="226.91" y="58.66" width="102.09" height="2.09" fill="url(#a60)"/>
<rect x="226.91" y="56.87" width="102.09" height="2.09" fill="url(#a61)"/>
<rect x="226.91" y="55.08" width="102.09" height="2.09" fill="url(#a62)"/>
<rect x="225.26" y="53.29" width="103.74" height="2.09" fill="url(#a63)"/>
<rect x="225.26" y="51.50" width="103.74" height="2.09" fill="url(#a64)"/>
<rect x="223.61" y="49.71" width="105.39" height="2.09" fill="url(#a65)"/>
<rect x="223.61" y="47.93" width="105.39" height="2.09" fill="url(#a66)"/>
<rect x="221.97" y="46.14" width="107.03" height="2.09" fill="url(#a67)"/>
<rect x="221.97" y="44.35" width="107.03" height="2.09" fill="url(#a68)"/>
<rect x="220.32" y="42.56" width="108.68" height="2.09" fill="url(#a69)"/>
<rect x="220.32" y="40.77" width="108.68" height="2.09" fill="url(#a70)"/>
<rect x="218.67" y="38.98" width="110.33" height="2.09" fill="url(#a71)"/>
<rect x="217.03" y="37.20" width="111.97" height="2.09" fill="url(#a72)"/>
<rect x="215.38" y="35.41" width="113.62" height="2.09" fill="url(#a73)"/>
<rect x="213.73" y="33.62" width="115.27" height="2.09" fill="url(#a74)"/>
<rect x="212.09" y="31.83" width="116.91" height="2.09" fill="url(#a75)"/>
<rect x="210.44" y="30.04" width="118.56" height="2.09" fill="url(#a76)"/>
<rect x="208.79" y="28.25" width="120.21" height="2.09" fill="url(#a77)"/>
<rect x="207.15" y="26.47" width="121.85" height="2.09" fill="url(#a78)"/>
<rect x="203.85" y="24.68" width="125.15" height="2.09" fill="url(#a79)"/>
<rect x="202.21" y="22.89" width="126.79" height="2.09" fill="url(#a80)"/>
<rect x="200.56" y="21.10" width="128.44" height="2.09" fill="url(#a81)"/>
<rect x="197.27" y="19.31" width="131.73" height="2.09" fill="url(#a82)"/>
<rect x="195.62" y="17.52" width="133.38" height="2.09" fill="url(#a83)"/>
<rect x="193.97" y="15.74" width="135.03" height="2.09" fill="url(#a84)"/>
<rect x="190.68" y="13.95" width="138.32" height="2.09" fill="url(#a85)"/>
<rect x="190.68" y="12.16" width="138.32" height="2.09" fill="url(#a86)"/>
<rect x="189.03" y="10.37" width="139.97" height="2.09" fill="url(#a87)"/>
<rect x="187.39" y="8.58" width="141.61" height="2.09" fill="url(#a88)"/>
<rect x="187.39" y="6.79" width="141.61" height="2.09" fill="url(#a89)"/>
<rect x="187.39" y="5.90" width="141.61" height="1.19" fill="url(#a90)"/>
<rect x="169.27" y="366.61" width="159.73" height="1.19" fill="url(#b0)"/>
<rect x="170.92" y="364.82" width="158.08" height="2.09" fill="url(#b1)"/>
<rect x="170.92" y="363.03" width="158.08" height="2.09" fill="url(#b2)"/>
<rect x="172.57" y="361.24" width="156.43" height="2.09" fill="url(#b3)"/>
<rect x="174.21" y="359.45" width="154.79" height="2.09" fill="url(#b4)"/>
<rect x="175.86" y="357.66" width="153.14" height="2.09" fill="url(#b5)"/>
<rect x="179.15" y="355.88" width="149.85" height="2.09" fill="url(#b6)"/>
<rect x="180.80" y="354.09" width="148.20" height="2.09" fill="url(#b7)"/>
<rect x="184.09" y="352.30" width="144.91" height="2.09" fill="url(#b8)"/>
<rect x="187.39" y="350.51" width="141.61" height="2.09" fill="url(#b9)"/>
<rect x="192.33" y="348.72" width="136.67" height="2.09" fill="url(#b10)"/>
<rect x="195.62" y="346.93" width="133.38" height="2.09" fill="url(#b11)"/>
<rect x="198.91" y="345.15" width="130.09" height="2.09" fill="url(#b12)"/>
<rect x="202.21" y="343.36" width="126.79" height="2.09" fill="url(#b13)"/>
<rect x="205.50" y="341.57" width="123.50" height="2.09" fill="url(#b14)"/>
<rect x="208.79" y="339.78" width="120.21" height="2.09" fill="url(#b15)"/>
<rect x="213.73" y="337.99" width="115.27" height="2.09" fill="url(#b16)"/>
<rect x="215.38" y="336.20" width="113.62" height="2.09" fill="url(#b17)"/>
<rect x="218.67" y="334.42" width="110.33" height="2.09" fill="url(#b18)"/>
<rect x="220.32" y="332.63" width="108.68" height="2.09" fill="url(#b19)"/>
<rect x="220.32" y="330.84" width="108.68" height="2.09" fill="url(#b20)"/>
<rect x="221.97" y="329.05" width="107.03" height="2.09" fill="url(#b21)"/>
<rect x="223.61" y="327.26" width="105.39" height="2.09" fill="url(#b22)"/>
<rect x="225.26" y="325.47" width="103.74" height="2.09" fill="url(#b23)"/>
<rect x="225.26" y="323.69" width="103.74" height="2.09" fill="url(#b24)"/>
<rect x="226.91" y="321.90" width="102.09" height="2.09" fill="url(#b25)"/>
<rect x="226.91" y="320.11" width="102.09" height="2.09" fill="url(#b26)"/>
<rect x="228.55" y="318.32" width="100.45" height="2.09" fill="url(#b27)"/>
<rect x="228.55" y="316.53" width="100.45" height="2.09" fill="url(#b28)"/>
<rect x="228.55" y="314.74" width="100.45" height="2.09" fill="url(#b29)"/>
<rect x="230.20" y="312.96" width="98.80" height="2.09" fill="url(#b30)"/>
<rect x="230.20" y="311.17" width="98.80" height="2.09" fill="url(#b31)"/>
<rect x="230.20" y="309.38" width="98.80" height="2.09" fill="url(#b32)"/>
<rect x="230.20" y="307.59" width="98.80" height="2.09" fill="url(#b33)"/>
<rect x="231.85" y="305.80" width="97.15" height="2.09" fill="url(#b34)"/>
<rect x="231.85" y="304.01" width="97.15" height="2.09" fill="url(#b35)"/>
<rect x="231.85" y="302.23" width="97.15" height="2.09" fill="url(#b36)"/>
<rect x="231.85" y="300.44" width="97.15" height="2.09" fill="url(#b37)"/>
<rect x="231.85" y="298.65" width="97.15" height="2.09" fill="url(#b38)"/>
<rect x="231.85" y="296.86" width="97.15" height="2.09" fill="url(#b39)"/>
<rect x="231.85" y="295.07" width="97.15" height="2.09" fill="url(#b40)"/>
<rect x="231.85" y="293.28" width="97.15" height="2.09" fill="url(#b41)"/>
<rect x="231.85" y="291.50" width="97.15" height="2.09" fill="url(#b42)"/>
<rect x="231.85" y="289.71" width="97.15" height="2.09" fill="url(#b43)"/>
<rect x="231.85" y="287.92" width="97.15" height="2.09" fill="url(#b44)"/>
<rect x="231.85" y="286.13" width="97.15" height="2.09" fill="url(#b45)"/>
<rect x="231.85" y="284.34" width="97.15" height="2.09" fill="url(#b46)"/>
<rect x="231.85" y="282.55" width="97.15" height="2.09" fill="url(#b47)"/>
<rect x="231.85" y="280.77" width="97.15" height="2.09" fill="url(#b48)"/>
<rect x="231.85" y="278.98" width="97.15" height="2.09" fill="url(#b49)"/>
<rect x="231.85" y="277.19" width="97.15" height="2.09" fill="url(#b50)"/>
<rect x="231.85" y="275.40" width="97.15" height="2.09" fill="url(#b51)"/>
<rect x="230.20" y="273.61" width="98.80" height="2.09" fill="url(#b52)"/>
<rect x="230.20" y="271.82" width="98.80" height="2.09" fill="url(#b53)"/>
<rect x="230.20" y="270.04" width="98.80" height="2.09" fill="url(#b54)"/>
<rect x="228.55" y="268.25" width="100.45" height="2.09" fill="url(#b55)"/>
<rect x="228.55" y="266.46" width="100.45" height="2.09" fill="url(#b56)"/>
<rect x="228.55" y="264.67" width="100.45" height="2.09" fill="url(#b57)"/>
<rect x="226.91" y="262.88" width="102.09" height="2.09" fill="url(#b58)"/>
<rect x="226.91" y="261.09" width="102.09" height="2.09" fill="url(#b59)"/>
<rect x="226.91" y="259.31" width="102.09" height="2.09" fill="url(#b60)"/>
<rect x="225.26" y="257.52" width="103.74" height="2.09" fill="url(#b61)"/>
<rect x="225.26" y="255.73" width="103.74" height="2.09" fill="url(#b62)"/>
<rect x="223.61" y="253.94" width="105.39" height="2.09" fill="url(#b63)"/>
<rect x="223.61" y="252.15" width="105.39" height="2.09" fill="url(#b64)"/>
<rect x="223.61" y="250.36" width="105.39" height="2.09" fill="url(#b65)"/>
<rect x="221.97" y="248.58" width="107.03" height="2.09" fill="url(#b66)"/>
<rect x="220.32" y="246.79" width="108.68" height="2.09" fill="url(#b67)"/>
<rect x="220.32" y="245.00" width="108.68" height="2.09" fill="url(#b68)"/>
<rect x="218.67" y="243.21" width="110.33" height="2.09" fill="url(#b69)"/>
<rect x="218.67" y="241.42" width="110.33" height="2.09" fill="url(#b70)"/>
<rect x="217.03" y="239.63" width="111.97" height="2.09" fill="url(#b71)"/>
<rect x="215.38" y="237.85" width="113.62" height="2.09" fill="url(#b72)"/>
<rect x="215.38" y="236.06" width="113.62" height="2.09" fill="url(#b73)"/>
<rect x="213.73" y="234.27" width="115.27" height="2.09" fill="url(#b74)"/>
<rect x="212.09" y="232.48" width="116.91" height="2.09" fill="url(#b75)"/>
<rect x="210.44" y="230.69" width="118.56" height="2.09" fill="url(#b76)"/>
<rect x="208.79" y="228.90" width="120.21" height="2.09" fill="url(#b77)"/>
<rect x="207.15" y="227.12" width="121.85" height="2.09" fill="url(#b78)"/>
<rect x="203.85" y="225.33" width="125.15" height="2.09" fill="url(#b79)"/>
<rect x="202.21" y="223.54" width="126.79" height="2.09" fill="url(#b80)"/>
<rect x="198.91" y="221.75" width="130.09" height="2.09" fill="url(#b81)"/>
<rect x="197.27" y="219.96" width="131.73" height="2.09" fill="url(#b82)"/>
<rect x="193.97" y="218.17" width="135.03" height="2.09" fill="url(#b83)"/>
<rect x="190.68" y="216.39" width="138.32" height="2.09" fill="url(#b84)"/>
<rect x="189.03" y="214.60" width="139.97" height="2.09" fill="url(#b85)"/>
<rect x="187.39" y="212.81" width="141.61" height="2.09" fill="url(#b86)"/>
<rect x="185.74" y="211.02" width="143.26" height="2.09" fill="url(#b87)"/>
<rect x="185.74" y="209.23" width="143.26" height="2.09" fill="url(#b88)"/>
<rect x="184.09" y="207.44" width="144.91" height="2.09" fill="url(#b89)"/>
<rect x="184.09" y="206.55" width="144.91" height="1.19" fill="url(#b90)"/>
</g>
<g>
<rect x="82.00" y="5.90" width="247.00" height="160.95" fill="none" stroke="#000" stroke-width="1.3"/>
<line x1="82.00" x2="82.00" y1="166.85" y2="173.05" stroke="#000" stroke-width="1.3"/>
<line x1="123.17" x2="123.17" y1="166.85" y2="170.15" stroke="#000" stroke-width="1.3"/>
<line x1="164.33" x2="164.33" y1="166.85" y2="173.05" stroke="#000" stroke-width="1.3"/>
<line x1="205.50" x2="205.50" y1="166.85" y2="170.15" stroke="#000" stroke-width="1.3"/>
<line x1="246.67" x2="246.67" y1="166.85" y2="173.05" stroke="#000" stroke-width="1.3"/>
<line x1="287.83" x2="287.83" y1="166.85" y2="170.15" stroke="#000" stroke-width="1.3"/>
<line x1="329.00" x2="329.00" y1="166.85" y2="173.05" stroke="#000" stroke-width="1.3"/>
<line x1="75.80" x2="82.00" y1="166.85" y2="166.85" stroke="#000" stroke-width="1.3"/>
<line x1="78.70" x2="82.00" y1="148.97" y2="148.97" stroke="#000" stroke-width="1.3"/>
<line x1="78.70" x2="82.00" y1="131.08" y2="131.08" stroke="#000" stroke-width="1.3"/>
<line x1="75.80" x2="82.00" y1="113.20" y2="113.20" stroke="#000" stroke-width="1.3"/>
<line x1="78.70" x2="82.00" y1="95.32" y2="95.32" stroke="#000" stroke-width="1.3"/>
<line x1="78.70" x2="82.00" y1="77.43" y2="77.43" stroke="#000" stroke-width="1.3"/>
<line x1="75.80" x2="82.00" y1="59.55" y2="59.55" stroke="#000" stroke-width="1.3"/>
<line x1="78.70" x2="82.00" y1="41.67" y2="41.67" stroke="#000" stroke-width="1.3"/>
<line x1="78.70" x2="82.00" y1="23.78" y2="23.78" stroke="#000" stroke-width="1.3"/>
<line x1="75.80" x2="82.00" y1="5.90" y2="5.90" stroke="#000" stroke-width="1.3"/>
<text x="81.60" y="189.85" text-anchor="middle">0.0</text>
<text x="163.93" y="189.85" text-anchor="middle">0.5</text>
<text x="246.27" y="189.85" text-anchor="middle">1.0</text>
<text x="328.60" y="189.85" text-anchor="middle">1.5</text>
<text x="73.20" y="171.85" text-anchor="end">0</text>
<text x="73.20" y="118.20" text-anchor="end">30</text>
<text x="73.20" y="64.55" text-anchor="end">60</text>
<text x="73.20" y="10.90" text-anchor="end">90</text>
<rect x="82.00" y="206.55" width="247.00" height="160.95" fill="none" stroke="#000" stroke-width="1.3"/>
<line x1="82.00" x2="82.00" y1="367.50" y2="373.70" stroke="#000" stroke-width="1.3"/>
<line x1="123.17" x2="123.17" y1="367.50" y2="370.80" stroke="#000" stroke-width="1.3"/>
<line x1="164.33" x2="164.33" y1="367.50" y2="373.70" stroke="#000" stroke-width="1.3"/>
<line x1="205.50" x2="205.50" y1="367.50" y2="370.80" stroke="#000" stroke-width="1.3"/>
<line x1="246.67" x2="246.67" y1="367.50" y2="373.70" stroke="#000" stroke-width="1.3"/>
<line x1="287.83" x2="287.83" y1="367.50" y2="370.80" stroke="#000" stroke-width="1.3"/>
<line x1="329.00" x2="329.00" y1="367.50" y2="373.70" stroke="#000" stroke-width="1.3"/>
<line x1="75.80" x2="82.00" y1="367.50" y2="367.50" stroke="#000" stroke-width="1.3"/>
<line x1="78.70" x2="82.00" y1="349.62" y2="349.62" stroke="#000" stroke-width="1.3"/>
<line x1="78.70" x2="82.00" y1="331.73" y2="331.73" stroke="#000" stroke-width="1.3"/>
<line x1="75.80" x2="82.00" y1="313.85" y2="313.85" stroke="#000" stroke-width="1.3"/>
<line x1="78.70" x2="82.00" y1="295.97" y2="295.97" stroke="#000" stroke-width="1.3"/>
<line x1="78.70" x2="82.00" y1="278.08" y2="278.08" stroke="#000" stroke-width="1.3"/>
<line x1="75.80" x2="82.00" y1="260.20" y2="260.20" stroke="#000" stroke-width="1.3"/>
<line x1="78.70" x2="82.00" y1="242.32" y2="242.32" stroke="#000" stroke-width="1.3"/>
<line x1="78.70" x2="82.00" y1="224.43" y2="224.43" stroke="#000" stroke-width="1.3"/>
<line x1="75.80" x2="82.00" y1="206.55" y2="206.55" stroke="#000" stroke-width="1.3"/>
<text x="81.60" y="390.50" text-anchor="middle">0.0</text>
<text x="163.93" y="390.50" text-anchor="middle">0.5</text>
<text x="246.27" y="390.50" text-anchor="middle">1.0</text>
<text x="328.60" y="390.50" text-anchor="middle">1.5</text>
<text x="73.20" y="372.50" text-anchor="end">0</text>
<text x="73.20" y="318.85" text-anchor="end">30</text>
<text x="73.20" y="265.20" text-anchor="end">60</text>
<text x="73.20" y="211.55" text-anchor="end">90</text>
<text x="0.8" y="10.4" font-size="12">(a)</text>
<text x="0.8" y="211.05" font-size="12">(b)</text>
<text transform="translate(37.7,91.80) rotate(-90)" text-anchor="middle">c-Axis tilt angle <tspan font-family="Liberation Serif, serif" font-style="italic" font-size="15.5">χ</tspan> (deg.)</text>
<text transform="translate(37.7,292.45) rotate(-90)" text-anchor="middle">c-Axis tilt angle <tspan font-family="Liberation Serif, serif" font-style="italic" font-size="15.5">χ</tspan> (deg.)</text>
<text x="196.6" y="418" text-anchor="middle">Normalized film thickness <tspan font-style="italic">H/λ</tspan></text>
<rect x="83.00" y="443.30" width="250.00" height="9.10" fill="url(#cb)" stroke="#000" stroke-width="1"/>
<line x1="108.00" x2="108.00" y1="443.30" y2="445.90" stroke="#000" stroke-width="0.9"/>
<line x1="108.00" x2="108.00" y1="449.80" y2="452.40" stroke="#000" stroke-width="0.9"/>
<line x1="133.00" x2="133.00" y1="443.30" y2="445.90" stroke="#000" stroke-width="0.9"/>
<line x1="133.00" x2="133.00" y1="449.80" y2="452.40" stroke="#000" stroke-width="0.9"/>
<line x1="158.00" x2="158.00" y1="443.30" y2="445.90" stroke="#000" stroke-width="0.9"/>
<line x1="158.00" x2="158.00" y1="449.80" y2="452.40" stroke="#000" stroke-width="0.9"/>
<line x1="183.00" x2="183.00" y1="443.30" y2="445.90" stroke="#000" stroke-width="0.9"/>
<line x1="183.00" x2="183.00" y1="449.80" y2="452.40" stroke="#000" stroke-width="0.9"/>
<line x1="208.00" x2="208.00" y1="443.30" y2="445.90" stroke="#000" stroke-width="0.9"/>
<line x1="208.00" x2="208.00" y1="449.80" y2="452.40" stroke="#000" stroke-width="0.9"/>
<line x1="233.00" x2="233.00" y1="443.30" y2="445.90" stroke="#000" stroke-width="0.9"/>
<line x1="233.00" x2="233.00" y1="449.80" y2="452.40" stroke="#000" stroke-width="0.9"/>
<line x1="258.00" x2="258.00" y1="443.30" y2="445.90" stroke="#000" stroke-width="0.9"/>
<line x1="258.00" x2="258.00" y1="449.80" y2="452.40" stroke="#000" stroke-width="0.9"/>
<line x1="283.00" x2="283.00" y1="443.30" y2="445.90" stroke="#000" stroke-width="0.9"/>
<line x1="283.00" x2="283.00" y1="449.80" y2="452.40" stroke="#000" stroke-width="0.9"/>
<line x1="308.00" x2="308.00" y1="443.30" y2="445.90" stroke="#000" stroke-width="0.9"/>
<line x1="308.00" x2="308.00" y1="449.80" y2="452.40" stroke="#000" stroke-width="0.9"/>
<text x="83.00" y="467.6" text-anchor="middle">4700</text>
<text x="133.00" y="467.6" text-anchor="middle">4900</text>
<text x="183.00" y="467.6" text-anchor="middle">5100</text>
<text x="233.00" y="467.6" text-anchor="middle">5300</text>
<text x="283.00" y="467.6" text-anchor="middle">5500</text>
<text x="333.00" y="467.6" text-anchor="middle">5700</text>
<text x="206.2" y="489.9" text-anchor="middle">Phase velocity (m/s)</text>
</g>
</svg>
</body></html>
